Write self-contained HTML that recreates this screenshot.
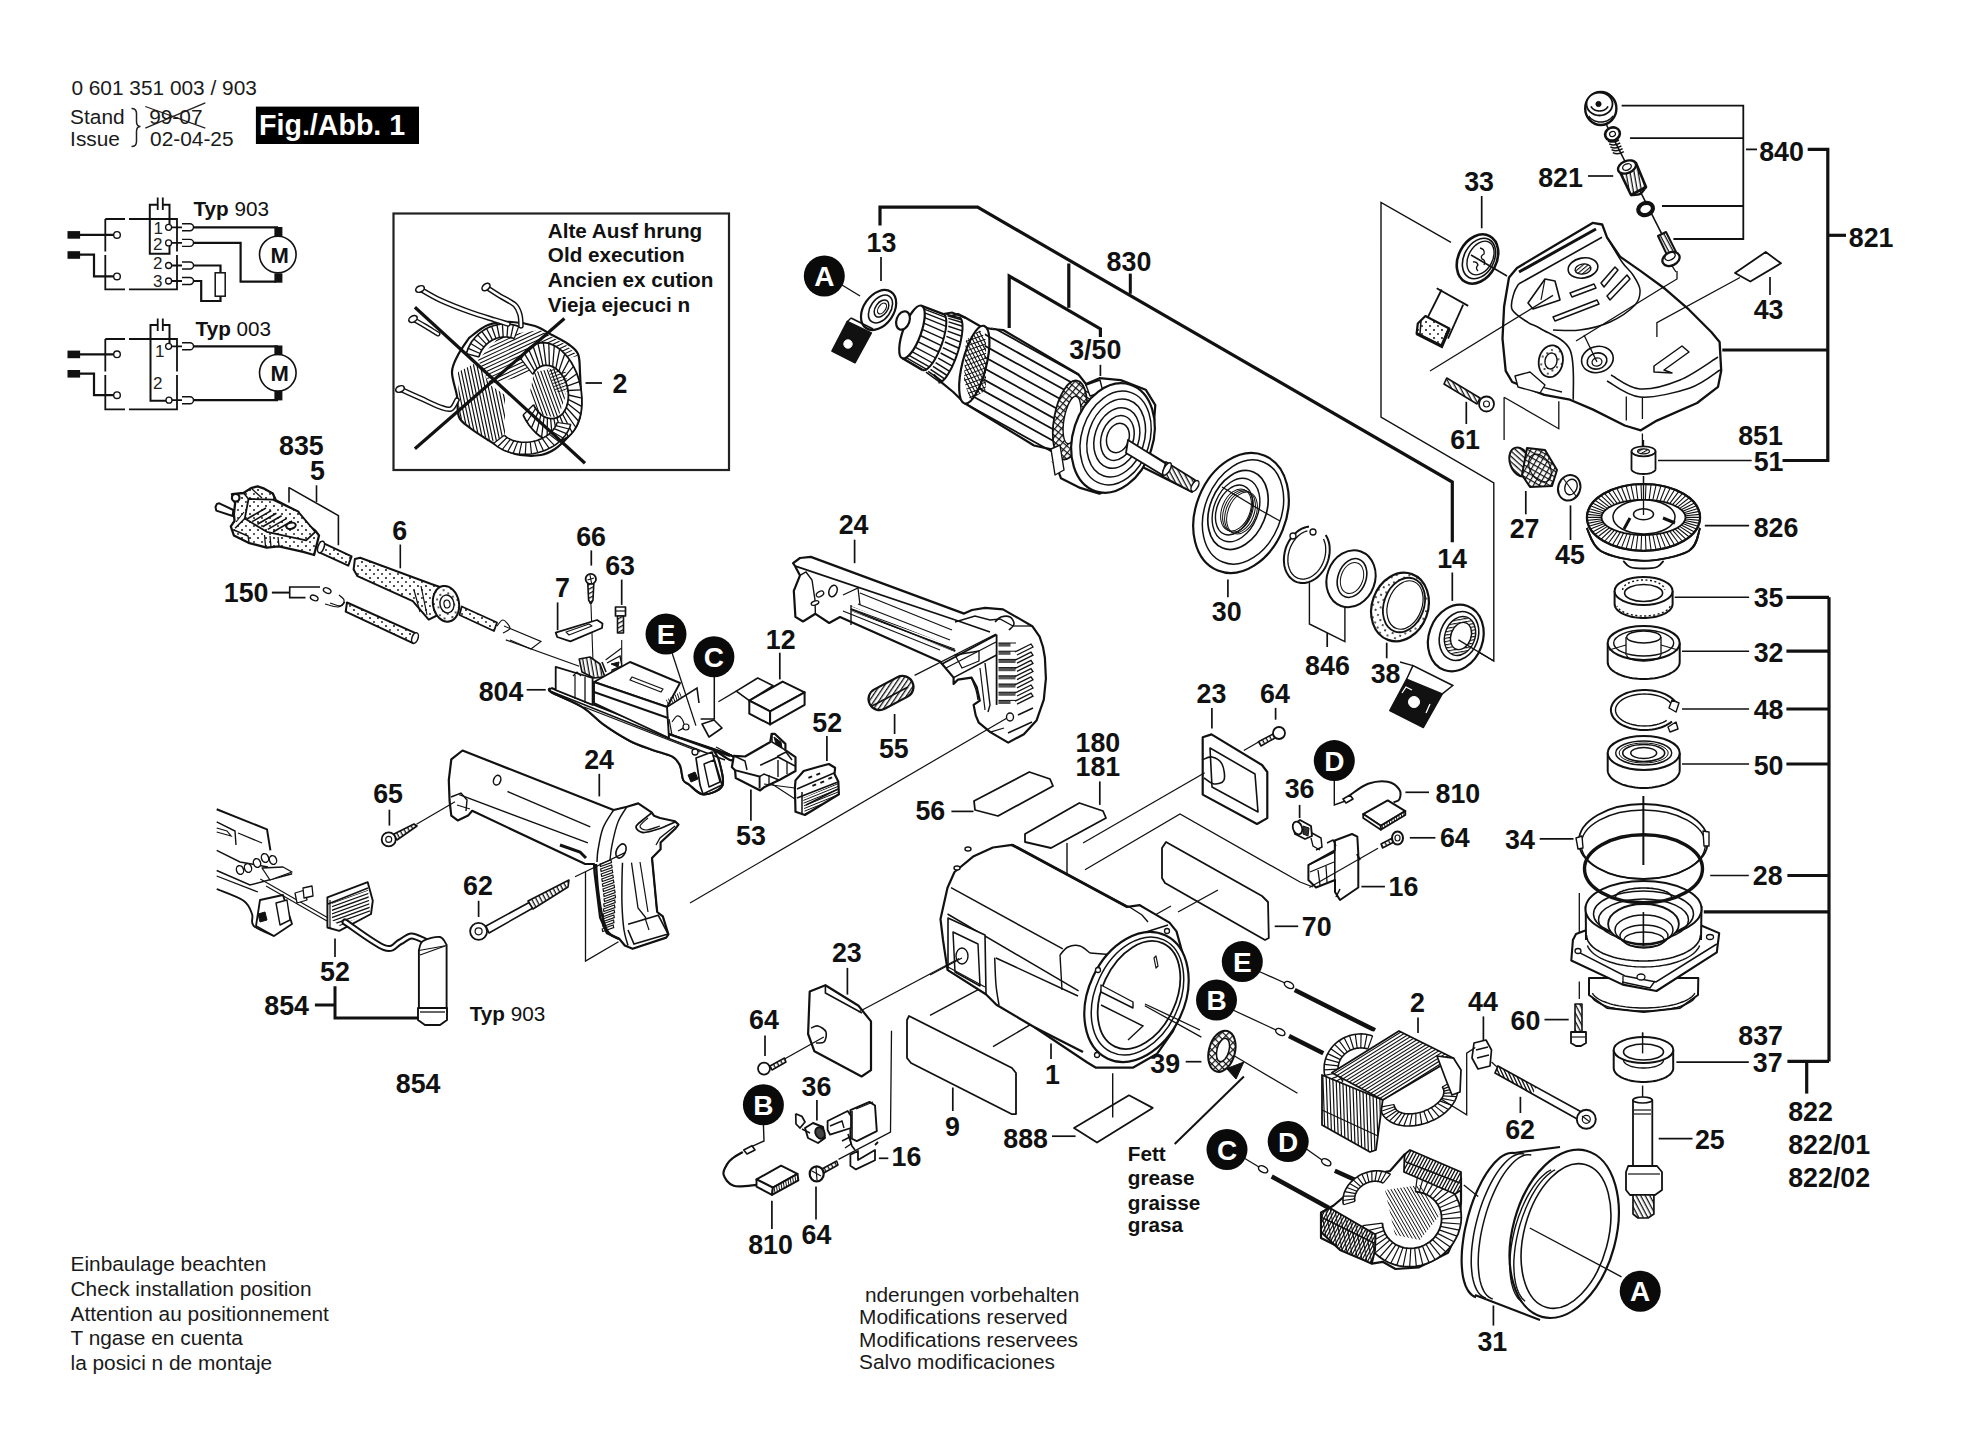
<!DOCTYPE html>
<html><head><meta charset="utf-8"><style>
html,body{margin:0;padding:0;background:#fff;overflow:hidden;width:1974px;height:1430px;}
svg{display:block;}
.b{font-family:"Liberation Sans",sans-serif;font-weight:bold;font-size:26.8px;fill:#111;}
.sb{font-family:"Liberation Sans",sans-serif;font-weight:bold;font-size:20.7px;fill:#111;}
.r{font-family:"Liberation Sans",sans-serif;font-size:20.85px;fill:#1a1a1a;}
.r2{font-weight:normal;}
.c{font-family:"Liberation Sans",sans-serif;font-weight:bold;font-size:28px;fill:#fff;text-anchor:middle;}
.fig{font-family:"Liberation Sans",sans-serif;font-weight:bold;font-size:28.6px;fill:#fff;}
</style></head><body>
<svg width="1974" height="1430" viewBox="0 0 1974 1430">
<rect width="1974" height="1430" fill="#fff"/>
<rect x="255.9" y="106.6" width="163.1" height="37.4" fill="#000"/>
<text class="fig" x="259" y="134.7">Fig./Abb. 1</text>
<g stroke="#222" stroke-width="1.3"><line x1="145.3" y1="106.5" x2="205.3" y2="128.1"/><line x1="145.3" y1="128.1" x2="205.3" y2="102.8"/></g>
<path d="M131.5 108.5 q5 0 5 5 v8 q0 5 4 5 q-4 0 -4 5 v10 q0 5 -5 5" fill="none" stroke="#222" stroke-width="1.5"/>
<defs>
 <pattern id="dots" width="8" height="8" patternUnits="userSpaceOnUse"><rect width="8" height="8" fill="#fff"/><circle cx="2" cy="2" r="1.0" fill="#111"/><circle cx="6" cy="6" r="0.9" fill="#111"/></pattern>
 <pattern id="h1" width="4" height="4" patternUnits="userSpaceOnUse" patternTransform="rotate(-28)"><rect width="4" height="4" fill="#fff"/><rect width="4" height="1.3" fill="#111"/></pattern>
 <pattern id="h2" width="4" height="4" patternUnits="userSpaceOnUse" patternTransform="rotate(62)"><rect width="4" height="4" fill="#fff"/><rect width="4" height="1.3" fill="#111"/></pattern>
 <pattern id="hv" width="4" height="4" patternUnits="userSpaceOnUse" patternTransform="rotate(80)"><rect width="4" height="4" fill="#fff"/><rect width="4" height="1.3" fill="#111"/></pattern>
 <pattern id="hx" width="5" height="5" patternUnits="userSpaceOnUse" patternTransform="rotate(30)"><rect width="5" height="5" fill="#fff"/><rect width="5" height="1.2" fill="#111"/><rect width="1.2" height="5" fill="#111"/></pattern>
 <pattern id="h3" width="3.2" height="3.2" patternUnits="userSpaceOnUse" patternTransform="rotate(-30)"><rect width="3.2" height="3.2" fill="#fff"/><rect width="3.2" height="1.1" fill="#111"/></pattern>
</defs>

<rect x="393.5" y="213.5" width="335.5" height="256.5" fill="none" stroke="#222" stroke-width="2.2"/>
<path d="M469.0 338.0 C472.2 335.8 480.8 327.7 488.0 325.0 C495.2 322.3 504.2 321.8 512.0 322.0 C519.8 322.2 528.3 323.8 535.0 326.0 C541.7 328.2 546.5 332.0 552.0 335.0 C557.5 338.0 563.7 340.8 568.0 344.0 C572.3 347.2 576.0 349.2 578.0 354.0 C580.0 358.8 579.5 363.7 580.0 373.0 C580.5 382.3 581.5 401.3 581.0 410.0 C580.5 418.7 579.2 420.5 577.0 425.0 C574.8 429.5 571.7 433.0 568.0 437.0 C564.3 441.0 559.5 446.0 555.0 449.0 C550.5 452.0 546.8 454.0 541.0 455.0 C535.2 456.0 526.0 455.8 520.0 455.0 C514.0 454.2 510.3 452.5 505.0 450.0 C499.7 447.5 493.8 443.7 488.0 440.0 C482.2 436.3 474.8 431.8 470.0 428.0 C465.2 424.2 461.2 422.3 459.0 417.0 C456.8 411.7 458.2 403.5 457.0 396.0 C455.8 388.5 451.8 378.8 452.0 372.0 C452.2 365.2 455.2 360.7 458.0 355.0 C460.8 349.3 467.2 340.8 469.0 338.0Z" fill="#fff" stroke="#111" stroke-width="2.2" stroke-linejoin="round"/>
<clipPath id="c1_478_360"><path d="M478.0 360.0 L500.0 336.0 L540.0 330.0 L566.0 345.0 L578.0 356.0 L548.0 362.0 L515.0 378.0 L490.0 384.0Z"/></clipPath><path clip-path="url(#c1_478_360)" d="M449.8 328.5L556.5 278.8 M451.3 331.6L557.9 281.9 M452.7 334.7L559.3 285.0 M454.1 337.8L560.8 288.1 M455.6 340.9L562.2 291.2 M457.0 344.0L563.6 294.2 M458.4 347.0L565.1 297.3 M459.9 350.1L566.5 300.4 M461.3 353.2L567.9 303.5 M462.8 356.3L569.4 306.6 M464.2 359.4L570.8 309.6 M465.6 362.4L572.3 312.7 M467.1 365.5L573.7 315.8 M468.5 368.6L575.1 318.9 M469.9 371.7L576.6 322.0 M471.4 374.8L578.0 325.0 M472.8 377.9L579.4 328.1 M474.3 380.9L580.9 331.2 M475.7 384.0L582.3 334.3 M477.1 387.1L583.8 337.4 M478.6 390.2L585.2 340.5 M480.0 393.3L586.6 343.5 M481.4 396.3L588.1 346.6 M482.9 399.4L589.5 349.7 M484.3 402.5L590.9 352.8 M485.7 405.6L592.4 355.9 M487.2 408.7L593.8 358.9 M488.6 411.7L595.2 362.0 M490.1 414.8L596.7 365.1 M491.5 417.9L598.1 368.2 M492.9 421.0L599.6 371.3 M494.4 424.1L601.0 374.4 M495.8 427.2L602.4 377.4 M497.2 430.2L603.9 380.5 M498.7 433.3L605.3 383.6" stroke="#111" stroke-width="1.1" fill="none"/>
<clipPath id="c2_458_372"><path d="M458.0 372.0 L478.0 362.0 L490.0 385.0 L505.0 395.0 L505.0 445.0 L490.0 440.0 L470.0 428.0 L459.0 417.0Z"/></clipPath><path clip-path="url(#c2_458_372)" d="M519.8 344.6L540.4 441.8 M516.5 345.2L537.2 442.5 M513.3 345.9L534.0 443.1 M510.1 346.6L530.8 443.8 M506.9 347.3L527.5 444.5 M503.6 348.0L524.3 445.2 M500.4 348.7L521.1 445.9 M497.2 349.4L517.8 446.6 M494.0 350.1L514.6 447.3 M490.7 350.7L511.4 447.9 M487.5 351.4L508.2 448.6 M484.3 352.1L504.9 449.3 M481.0 352.8L501.7 450.0 M477.8 353.5L498.5 450.7 M474.6 354.2L495.2 451.4 M471.4 354.9L492.0 452.1 M468.1 355.5L488.8 452.8 M464.9 356.2L485.6 453.4 M461.7 356.9L482.3 454.1 M458.4 357.6L479.1 454.8 M455.2 358.3L475.9 455.5 M452.0 359.0L472.7 456.2 M448.8 359.7L469.4 456.9 M445.5 360.3L466.2 457.6 M442.3 361.0L463.0 458.2 M439.1 361.7L459.7 458.9 M435.8 362.4L456.5 459.6 M432.6 363.1L453.3 460.3 M429.4 363.8L450.1 461.0 M426.2 364.5L446.8 461.7 M422.9 365.1L443.6 462.4" stroke="#111" stroke-width="1.2" fill="none"/>
<path d="M520.9 358.8 L522.5 355.9 L524.2 353.1 L526.1 350.7 L528.2 348.6 L530.5 346.8 L532.8 345.3 L535.3 344.1 L537.9 343.3 L540.5 342.8 L543.3 342.6 L546.0 342.9 L548.8 343.4 L551.6 344.3 L554.3 345.6 L557.1 347.2 L559.7 349.1 L562.3 351.3 L564.8 353.8 L567.2 356.5 L569.4 359.6 L571.5 362.8 L573.5 366.3 L575.3 369.9 L576.9 373.7 L578.2 377.6 L579.4 381.7 L580.4 385.8 L581.1 389.9 L581.6 394.1 L581.9 398.2 L582.0 402.3 L581.8 406.4 L581.4 410.3 L580.7 414.1 L579.8 417.7 L578.7 421.2 L577.4 424.4 L575.9 427.5 L574.2 430.2 L572.3 432.7 L570.3 434.9 L568.1 436.8 L565.8 438.4 L563.3 439.7 L560.8 440.6 L558.1 441.1 L555.4 441.4 L552.7 441.2 L549.9 440.7 L547.1 439.9 L544.3 438.7 L541.6 437.2 L538.9 435.4 L536.3 433.3 L533.8 430.8 L531.4 428.1 L529.1 425.2 L526.9 422.0 L525.0 418.6 L523.1 415.0 L533.5 404.7 L534.5 406.7 L535.6 408.5 L536.9 410.2 L538.2 411.8 L539.6 413.2 L541.0 414.5 L542.6 415.7 L544.1 416.6 L545.7 417.4 L547.4 418.0 L549.0 418.4 L550.6 418.7 L552.3 418.7 L553.9 418.5 L555.4 418.2 L556.9 417.7 L558.4 417.0 L559.8 416.1 L561.1 415.0 L562.4 413.8 L563.5 412.5 L564.5 410.9 L565.5 409.3 L566.3 407.5 L567.0 405.6 L567.5 403.6 L567.9 401.6 L568.2 399.4 L568.4 397.2 L568.4 395.0 L568.3 392.8 L568.0 390.5 L567.6 388.3 L567.1 386.1 L566.5 383.9 L565.7 381.8 L564.8 379.7 L563.8 377.8 L562.7 375.9 L561.4 374.2 L560.1 372.6 L558.8 371.1 L557.3 369.8 L555.8 368.6 L554.3 367.6 L552.7 366.8 L551.0 366.1 L549.4 365.7 L547.8 365.4 L546.1 365.3 L544.5 365.4 L543.0 365.7 L541.4 366.2 L539.9 366.8 L538.5 367.7 L537.2 368.7 L535.9 369.9 L534.8 371.2 L533.7 372.7 L532.8 374.3Z" fill="#fff" stroke="none"/>
<path d="M520.9 358.8 L523.3 354.5 L526.1 350.7 L529.3 347.6 L532.8 345.3 L536.6 343.6 L540.5 342.8 L544.6 342.7 L548.8 343.4 L552.9 344.9 L557.1 347.2 L561.0 350.1 L564.8 353.8 L568.3 358.0 L571.5 362.8 L574.4 368.1 L576.9 373.7 L578.9 379.6 L580.4 385.8 L581.4 392.0 L581.9 398.2 L581.9 404.4 L581.4 410.3 L580.3 415.9 L578.7 421.2 L576.7 426.0 L574.2 430.2 L571.3 433.9 L568.1 436.8 L564.5 439.1 L560.8 440.6 L556.8 441.3 L552.7 441.2 L548.5 440.4 L544.3 438.7 L540.3 436.4 L536.3 433.3 L532.6 429.5 L529.1 425.2 L525.9 420.3 L523.1 415.0" fill="none" stroke="#111" stroke-width="1.8"/>
<path d="M532.8 374.3 L534.2 371.9 L535.9 369.9 L537.8 368.2 L539.9 366.8 L542.2 365.9 L544.5 365.4 L547.0 365.3 L549.4 365.7 L551.9 366.4 L554.3 367.6 L556.6 369.2 L558.8 371.1 L560.8 373.4 L562.7 375.9 L564.3 378.7 L565.7 381.8 L566.8 385.0 L567.6 388.3 L568.2 391.6 L568.4 395.0 L568.3 398.3 L567.9 401.6 L567.2 404.6 L566.3 407.5 L565.0 410.1 L563.5 412.5 L561.8 414.5 L559.8 416.1 L557.7 417.4 L555.4 418.2 L553.1 418.6 L550.6 418.7 L548.2 418.2 L545.7 417.4 L543.3 416.2 L541.0 414.5 L538.9 412.5 L536.9 410.2 L535.0 407.6 L533.5 404.7" fill="none" stroke="#111" stroke-width="1.8"/>
<path d="M532.8 374.3 L520.9 358.8 M534.8 371.2 L524.2 353.1 M537.2 368.7 L528.2 348.6 M539.9 366.8 L532.8 345.3 M543.0 365.7 L537.9 343.3 M546.1 365.3 L543.3 342.6 M549.4 365.7 L548.8 343.4 M552.7 366.8 L554.3 345.6 M555.8 368.6 L559.7 349.1 M558.8 371.1 L564.8 353.8 M561.4 374.2 L569.4 359.6 M563.8 377.8 L573.5 366.3 M565.7 381.8 L576.9 373.7 M567.1 386.1 L579.4 381.7 M568.0 390.5 L581.1 389.9 M568.4 395.0 L581.9 398.2 M568.2 399.4 L581.8 406.4 M567.5 403.6 L580.7 414.1 M566.3 407.5 L578.7 421.2 M564.5 410.9 L575.9 427.5 M562.4 413.8 L572.3 432.7 M559.8 416.1 L568.1 436.8 M556.9 417.7 L563.3 439.7 M553.9 418.5 L558.1 441.1 M550.6 418.7 L552.7 441.2 M547.4 418.0 L547.1 439.9 M544.1 416.6 L541.6 437.2 M541.0 414.5 L536.3 433.3 M538.2 411.8 L531.4 428.1 M535.6 408.5 L526.9 422.0 M533.5 404.7 L523.1 415.0" stroke="#111" stroke-width="1.3" fill="none"/>
<clipPath id="c3_534_372"><path d="M534.0 372.0 L556.0 368.0 L566.0 395.0 L558.0 418.0 L538.0 414.0 L530.0 392.0Z"/></clipPath><path clip-path="url(#c3_534_372)" d="M567.6 351.0L590.0 412.6 M564.6 352.0L587.0 413.7 M561.6 353.1L584.0 414.8 M558.6 354.2L581.0 415.9 M555.6 355.3L578.0 417.0 M552.6 356.4L575.0 418.1 M549.6 357.5L572.0 419.2 M546.6 358.6L569.0 420.3 M543.6 359.7L566.0 421.4 M540.5 360.8L563.0 422.5 M537.5 361.9L560.0 423.6 M534.5 363.0L557.0 424.6 M531.5 364.1L554.0 425.7 M528.5 365.2L551.0 426.8 M525.5 366.3L547.9 427.9 M522.5 367.4L544.9 429.0 M519.5 368.5L541.9 430.1 M516.5 369.6L538.9 431.2 M513.5 370.7L535.9 432.3 M510.5 371.7L532.9 433.4 M507.5 372.8L529.9 434.5" stroke="#111" stroke-width="1.1" fill="none"/>
<clipPath id="c4_548_368"><path d="M548.0 368.0 L566.0 372.0 L568.0 392.0 L556.0 392.0Z"/></clipPath><path clip-path="url(#c4_548_368)" d="M535.4 369.5L568.5 357.4 M536.5 372.5L569.6 360.4 M537.6 375.5L570.7 363.4 M538.7 378.5L571.8 366.4 M539.8 381.5L572.9 369.4 M540.9 384.5L574.0 372.5 M542.0 387.5L575.1 375.5 M543.1 390.5L576.2 378.5 M544.2 393.5L577.3 381.5 M545.3 396.5L578.4 384.5 M546.4 399.5L579.5 387.5 M547.5 402.5L580.6 390.5" stroke="#111" stroke-width="1.0" fill="none"/>
<path d="M466.4 353.6 L466.7 352.6 L467.0 351.5 L467.4 350.5 L467.7 349.4 L468.2 348.4 L468.6 347.4 L469.1 346.4 L469.6 345.4 L470.1 344.5 L470.7 343.5 L471.2 342.6 L471.8 341.6 L472.5 340.7 L473.1 339.8 L473.8 339.0 L474.5 338.1 L475.2 337.3 L476.0 336.5 L476.8 335.7 L477.6 334.9 L478.4 334.2 L479.2 333.4 L480.1 332.7 L480.9 332.1 L481.8 331.4 L482.7 330.8 L483.7 330.2 L484.6 329.6 L485.6 329.0 L486.5 328.5 L487.5 328.0 L488.5 327.6 L489.5 327.1 L490.6 326.7 L491.6 326.3 L492.6 326.0 L493.7 325.6 L494.8 325.3 L495.8 325.1 L496.9 324.8 L498.0 324.6 L499.1 324.4 L500.2 324.3 L501.3 324.2 L502.4 324.1 L503.5 324.0 L504.6 324.0 L505.7 324.0 L506.8 324.0 L507.9 324.1 L509.0 324.2 L510.1 324.3 L511.2 324.5 L512.3 324.7 L513.4 324.9 L514.5 325.1 L515.5 325.4 L516.6 325.7 L517.6 326.0 L518.7 326.4 L514.2 338.6 L513.5 338.4 L512.8 338.2 L512.1 338.0 L511.4 337.8 L510.7 337.6 L509.9 337.5 L509.2 337.3 L508.4 337.2 L507.7 337.1 L507.0 337.1 L506.2 337.0 L505.5 337.0 L504.7 337.0 L504.0 337.0 L503.2 337.1 L502.5 337.1 L501.7 337.2 L501.0 337.3 L500.3 337.4 L499.5 337.6 L498.8 337.7 L498.1 337.9 L497.4 338.1 L496.7 338.3 L496.0 338.6 L495.3 338.8 L494.6 339.1 L493.9 339.4 L493.2 339.7 L492.5 340.1 L491.9 340.4 L491.2 340.8 L490.6 341.2 L490.0 341.6 L489.4 342.0 L488.8 342.4 L488.2 342.9 L487.6 343.4 L487.0 343.9 L486.5 344.4 L485.9 344.9 L485.4 345.4 L484.9 346.0 L484.4 346.5 L483.9 347.1 L483.5 347.7 L483.0 348.3 L482.6 348.9 L482.2 349.5 L481.8 350.2 L481.4 350.8 L481.1 351.5 L480.7 352.1 L480.4 352.8 L480.1 353.5 L479.9 354.2 L479.6 354.9 L479.3 355.6 L479.1 356.3 L478.9 357.0Z" fill="#fff" stroke="none"/>
<path d="M466.4 353.6 L466.8 352.1 L467.4 350.5 L467.9 348.9 L468.6 347.4 L469.3 345.9 L470.1 344.5 L470.9 343.0 L471.8 341.6 L472.8 340.3 L473.8 339.0 L474.9 337.7 L476.0 336.5 L477.2 335.3 L478.4 334.2 L479.6 333.1 L480.9 332.1 L482.3 331.1 L483.7 330.2 L485.1 329.3 L486.5 328.5 L488.0 327.8 L489.5 327.1 L491.1 326.5 L492.6 326.0 L494.2 325.5 L495.8 325.1 L497.5 324.7 L499.1 324.4 L500.7 324.2 L502.4 324.1 L504.0 324.0 L505.7 324.0 L507.4 324.1 L509.0 324.2 L510.7 324.4 L512.3 324.7 L513.9 325.0 L515.5 325.4 L517.1 325.9 L518.7 326.4" fill="none" stroke="#111" stroke-width="1.7"/>
<path d="M478.9 357.0 L479.2 355.9 L479.6 354.9 L480.0 353.8 L480.4 352.8 L480.9 351.8 L481.4 350.8 L482.0 349.8 L482.6 348.9 L483.3 348.0 L483.9 347.1 L484.7 346.2 L485.4 345.4 L486.2 344.6 L487.0 343.9 L487.9 343.1 L488.8 342.4 L489.7 341.8 L490.6 341.2 L491.6 340.6 L492.5 340.1 L493.5 339.6 L494.6 339.1 L495.6 338.7 L496.7 338.3 L497.7 338.0 L498.8 337.7 L499.9 337.5 L501.0 337.3 L502.1 337.2 L503.2 337.1 L504.4 337.0 L505.5 337.0 L506.6 337.0 L507.7 337.1 L508.8 337.3 L509.9 337.5 L511.0 337.7 L512.1 338.0 L513.2 338.3 L514.2 338.6" fill="none" stroke="#111" stroke-width="1.7"/>
<path d="M478.9 357.0 L466.4 353.6 M480.1 353.5 L468.2 348.4 M481.8 350.2 L470.7 343.5 M483.9 347.1 L473.8 339.0 M486.5 344.4 L477.6 334.9 M489.4 342.0 L481.8 331.4 M492.5 340.1 L486.5 328.5 M496.0 338.6 L491.6 326.3 M499.5 337.6 L496.9 324.8 M503.2 337.1 L502.4 324.1 M507.0 337.1 L507.9 324.1 M510.7 337.6 L513.4 324.9 M514.2 338.6 L518.7 326.4" stroke="#111" stroke-width="1.3" fill="none"/>
<path d="M570.7 424.3 L570.4 425.6 L569.9 426.8 L569.4 428.1 L568.9 429.4 L568.2 430.6 L567.6 431.8 L566.8 433.0 L566.0 434.2 L565.2 435.4 L564.3 436.6 L563.3 437.7 L562.3 438.8 L561.3 439.9 L560.2 440.9 L559.1 441.9 L557.9 442.9 L556.6 443.8 L555.4 444.8 L554.1 445.6 L552.7 446.5 L551.3 447.3 L549.9 448.1 L548.5 448.8 L547.0 449.5 L545.5 450.1 L544.0 450.7 L542.4 451.3 L540.9 451.8 L539.3 452.3 L537.7 452.7 L536.0 453.1 L534.4 453.4 L532.8 453.7 L531.1 453.9 L529.5 454.1 L527.8 454.2 L526.2 454.3 L524.5 454.3 L522.9 454.3 L521.2 454.3 L519.6 454.2 L518.0 454.0 L516.4 453.8 L514.8 453.5 L513.2 453.2 L511.7 452.9 L510.2 452.5 L508.7 452.0 L507.2 451.5 L505.8 451.0 L504.3 450.4 L503.0 449.8 L501.6 449.1 L500.3 448.4 L499.1 447.7 L497.9 446.9 L496.7 446.1 L495.5 445.2 L494.5 444.3 L493.4 443.4 L504.3 435.3 L505.0 435.9 L505.8 436.5 L506.5 437.1 L507.3 437.6 L508.1 438.1 L509.0 438.6 L509.9 439.0 L510.8 439.5 L511.7 439.9 L512.7 440.2 L513.6 440.6 L514.6 440.9 L515.7 441.2 L516.7 441.4 L517.7 441.6 L518.8 441.8 L519.9 442.0 L521.0 442.1 L522.1 442.2 L523.2 442.2 L524.3 442.3 L525.4 442.3 L526.5 442.2 L527.7 442.2 L528.8 442.1 L529.9 442.0 L531.0 441.8 L532.2 441.6 L533.3 441.4 L534.4 441.1 L535.5 440.8 L536.6 440.5 L537.6 440.2 L538.7 439.8 L539.7 439.4 L540.8 439.0 L541.8 438.5 L542.8 438.1 L543.7 437.6 L544.7 437.0 L545.6 436.5 L546.5 435.9 L547.4 435.3 L548.2 434.7 L549.0 434.0 L549.8 433.4 L550.6 432.7 L551.3 432.0 L552.0 431.2 L552.6 430.5 L553.2 429.8 L553.8 429.0 L554.4 428.2 L554.9 427.4 L555.3 426.6 L555.8 425.8 L556.1 425.0 L556.5 424.2 L556.8 423.4 L557.1 422.5Z" fill="#fff" stroke="none"/>
<path d="M570.7 424.3 L570.1 426.2 L569.4 428.1 L568.6 430.0 L567.6 431.8 L566.4 433.6 L565.2 435.4 L563.8 437.1 L562.3 438.8 L560.8 440.4 L559.1 441.9 L557.3 443.4 L555.4 444.8 L553.4 446.1 L551.3 447.3 L549.2 448.4 L547.0 449.5 L544.7 450.4 L542.4 451.3 L540.1 452.0 L537.7 452.7 L535.2 453.2 L532.8 453.7 L530.3 454.0 L527.8 454.2 L525.3 454.3 L522.9 454.3 L520.4 454.2 L518.0 454.0 L515.6 453.7 L513.2 453.2 L510.9 452.7 L508.7 452.0 L506.5 451.3 L504.3 450.4 L502.3 449.5 L500.3 448.4 L498.5 447.3 L496.7 446.1 L495.0 444.7 L493.4 443.4" fill="none" stroke="#111" stroke-width="1.6"/>
<path d="M557.1 422.5 L556.7 423.8 L556.1 425.0 L555.5 426.2 L554.9 427.4 L554.1 428.6 L553.2 429.8 L552.3 430.9 L551.3 432.0 L550.2 433.0 L549.0 434.0 L547.8 435.0 L546.5 435.9 L545.1 436.7 L543.7 437.6 L542.3 438.3 L540.8 439.0 L539.2 439.6 L537.6 440.2 L536.0 440.7 L534.4 441.1 L532.7 441.5 L531.0 441.8 L529.4 442.0 L527.7 442.2 L526.0 442.3 L524.3 442.3 L522.6 442.2 L521.0 442.1 L519.3 441.9 L517.7 441.6 L516.2 441.3 L514.6 440.9 L513.2 440.4 L511.7 439.9 L510.3 439.3 L509.0 438.6 L507.7 437.9 L506.5 437.1 L505.4 436.2 L504.3 435.3" fill="none" stroke="#111" stroke-width="1.6"/>
<path d="M557.1 422.5 L570.7 424.3 M555.9 425.6 L569.0 429.0 M554.1 428.6 L566.4 433.6 M551.8 431.4 L563.1 438.0 M549.0 434.0 L559.1 441.9 M545.8 436.3 L554.4 445.4 M542.3 438.3 L549.2 448.4 M538.4 439.9 L543.6 450.9 M534.4 441.1 L537.7 452.7 M530.2 441.9 L531.5 453.9 M526.0 442.3 L525.3 454.3 M521.8 442.2 L519.2 454.1 M517.7 441.6 L513.2 453.2 M513.9 440.6 L507.6 451.7 M510.3 439.3 L502.3 449.5 M507.1 437.5 L497.6 446.7 M504.3 435.3 L493.4 443.4" stroke="#111" stroke-width="1.2" fill="none"/>
<path d="M420.0 289.0 C423.3 290.8 431.7 296.2 440.0 300.0 C448.3 303.8 460.8 308.7 470.0 312.0 C479.2 315.3 488.7 318.0 495.0 320.0 C501.3 322.0 505.8 323.3 508.0 324.0" fill="none" stroke="#111" stroke-width="5.5" stroke-linecap="round"/><path d="M420.0 289.0 C423.3 290.8 431.7 296.2 440.0 300.0 C448.3 303.8 460.8 308.7 470.0 312.0 C479.2 315.3 488.7 318.0 495.0 320.0 C501.3 322.0 505.8 323.3 508.0 324.0" fill="none" stroke="#fff" stroke-width="2.6" stroke-linecap="round"/>
<path d="M486.0 287.0 C488.3 288.5 495.2 293.0 500.0 296.0 C504.8 299.0 511.7 301.8 515.0 305.0 C518.3 308.2 519.0 311.5 520.0 315.0 C521.0 318.5 520.8 324.2 521.0 326.0" fill="none" stroke="#111" stroke-width="5.5" stroke-linecap="round"/><path d="M486.0 287.0 C488.3 288.5 495.2 293.0 500.0 296.0 C504.8 299.0 511.7 301.8 515.0 305.0 C518.3 308.2 519.0 311.5 520.0 315.0 C521.0 318.5 520.8 324.2 521.0 326.0" fill="none" stroke="#fff" stroke-width="2.6" stroke-linecap="round"/>
<path d="M413.0 319.0 C415.0 320.2 420.8 323.5 425.0 326.0 C429.2 328.5 435.8 332.7 438.0 334.0" fill="none" stroke="#111" stroke-width="5" stroke-linecap="round"/><path d="M413.0 319.0 C415.0 320.2 420.8 323.5 425.0 326.0 C429.2 328.5 435.8 332.7 438.0 334.0" fill="none" stroke="#fff" stroke-width="2.2" stroke-linecap="round"/>
<path d="M400.0 389.0 C403.3 390.5 413.3 395.0 420.0 398.0 C426.7 401.0 434.8 405.2 440.0 407.0 C445.2 408.8 448.2 410.2 451.0 409.0 C453.8 407.8 456.0 401.5 457.0 400.0" fill="none" stroke="#111" stroke-width="5.5" stroke-linecap="round"/><path d="M400.0 389.0 C403.3 390.5 413.3 395.0 420.0 398.0 C426.7 401.0 434.8 405.2 440.0 407.0 C445.2 408.8 448.2 410.2 451.0 409.0 C453.8 407.8 456.0 401.5 457.0 400.0" fill="none" stroke="#fff" stroke-width="2.6" stroke-linecap="round"/>
<ellipse cx="420" cy="289" rx="4.5" ry="3" transform="rotate(-25 420 289)" fill="#fff" stroke="#111" stroke-width="1.6"/>
<ellipse cx="486" cy="287" rx="4.5" ry="3" transform="rotate(-40 486 287)" fill="#fff" stroke="#111" stroke-width="1.6"/>
<ellipse cx="413" cy="319" rx="4.5" ry="3" transform="rotate(-30 413 319)" fill="#fff" stroke="#111" stroke-width="1.6"/>
<ellipse cx="400" cy="389" rx="4.5" ry="3" transform="rotate(-25 400 389)" fill="#fff" stroke="#111" stroke-width="1.6"/>
<line x1="414.9" y1="307.2" x2="585.0" y2="463.3" stroke="#111" stroke-width="3.2"/>
<line x1="414.9" y1="448.7" x2="564.4" y2="318.5" stroke="#111" stroke-width="3.2"/>
<line x1="585.5" y1="383.0" x2="602.0" y2="383.0" stroke="#111" stroke-width="1.8"/>
<path d="M289.0 487.2 L289.0 502.4" fill="none" stroke="#111" stroke-width="1.6" stroke-linejoin="miter"/>
<path d="M289.0 487.6 L338.4 515.6 L338.4 545.2" fill="none" stroke="#111" stroke-width="1.6" stroke-linejoin="miter"/>
<path d="M316.5 485.3 L316.5 502.0" fill="none" stroke="#111" stroke-width="1.6" stroke-linejoin="miter"/>
<path d="M400.3 544.5 L400.3 568.3" fill="none" stroke="#111" stroke-width="1.6" stroke-linejoin="miter"/>
<path d="M271.9 592.6 L289.7 592.6" fill="none" stroke="#111" stroke-width="2" stroke-linejoin="miter"/>
<path d="M320.0 587.0 L289.7 587.0 L289.7 597.6 L305.5 597.6" fill="none" stroke="#111" stroke-width="1.6" stroke-linejoin="miter"/>
<path d="M216.9 503.9 L219.3 503.3 L233.3 510.0 L232.7 516.0 L216.3 510.6 L215.5 507.0Z" fill="#fff" stroke="#111" stroke-width="2" stroke-linejoin="round" />
<path d="M232.0 494.2 L243.6 493.0 L250.9 488.1 L257.6 486.3 L264.3 488.7 L272.8 493.5 L275.8 500.2 L298.3 511.8 L299.5 518.5 L315.3 530.6 L319.0 535.5 L317.2 542.8 L314.1 555.0 L303.2 551.9 L278.9 546.4 L266.7 547.7 L248.5 542.8 L233.9 535.5 L230.8 526.4 L234.5 520.9 L233.9 514.2 L235.1 503.3Z" fill="url(#dots)" stroke="#111" stroke-width="2.3" stroke-linejoin="round" />
<path d="M244.8 518.5 L248.5 499.0 L272.8 499.6 L298.3 511.8 L315.3 531.8 L306.2 540.4 L266.7 531.8Z" fill="url(#dots)" stroke="#111" stroke-width="1.8" stroke-linejoin="round" />
<line x1="247.0" y1="519.0" x2="266.0" y2="508.0" stroke="#111" stroke-width="1.6"/>
<line x1="252.2" y1="521.6" x2="271.2" y2="510.6" stroke="#111" stroke-width="1.6"/>
<line x1="257.4" y1="524.2" x2="276.4" y2="513.2" stroke="#111" stroke-width="1.6"/>
<line x1="262.6" y1="526.8" x2="281.6" y2="515.8" stroke="#111" stroke-width="1.6"/>
<line x1="267.8" y1="529.4" x2="286.8" y2="518.4" stroke="#111" stroke-width="1.6"/>
<line x1="273.0" y1="532.0" x2="292.0" y2="521.0" stroke="#111" stroke-width="1.6"/>
<ellipse cx="291.0" cy="525.8" rx="4.8" ry="3.0" transform="rotate(-15 291.0 525.8)" fill="#fff" stroke="#111" stroke-width="2"/>
<path d="M235.1 528.2 L244.8 518.5" fill="none" stroke="#111" stroke-width="1.6" stroke-linejoin="miter"/>
<path d="M248.5 499.0 L243.6 493.0" fill="none" stroke="#111" stroke-width="1.5" stroke-linejoin="miter"/>
<path d="M244.0 512.0 L236.0 522.0" fill="none" stroke="#111" stroke-width="1.2" stroke-linejoin="miter"/>
<path d="M264.5 535.0 L265.5 546.0" fill="none" stroke="#111" stroke-width="1.3" stroke-linejoin="miter"/>
<path d="M270.0 536.0 L271.0 547.0" fill="none" stroke="#111" stroke-width="1.3" stroke-linejoin="miter"/>
<path d="M278.0 537.0 L279.0 546.0" fill="none" stroke="#111" stroke-width="1.3" stroke-linejoin="miter"/>
<path d="M233.9 530.0 L248.0 536.0 L249.0 542.0" fill="none" stroke="#111" stroke-width="1.4" stroke-linejoin="miter"/>
<ellipse cx="235.7" cy="497.8" rx="3.8" ry="3.8" transform="rotate(0 235.7 497.8)" fill="#fff" stroke="#111" stroke-width="2.2"/>
<path d="M252.0 489.0 L262.0 498.0" fill="none" stroke="#111" stroke-width="1.3" stroke-linejoin="miter"/>
<path d="M320.6 541.9 L351.6 556.4 L348.3 565.6 L319.3 552.4Z" fill="url(#dots)" stroke="#111" stroke-width="2" stroke-linejoin="round" />
<ellipse cx="321.0" cy="547.0" rx="3.0" ry="6.0" transform="rotate(20 321.0 547.0)" fill="#fff" stroke="#111" stroke-width="1.6"/>
<path d="M354.9 559.0 L360.2 557.7 L431.3 584.0 L439.2 586.7 L444.0 600.0 L438.0 615.0 L428.7 619.6 L412.8 601.2 L357.5 576.2 L353.6 569.6Z" fill="url(#dots)" stroke="#111" stroke-width="2" stroke-linejoin="round" />
<path d="M414.0 590.0 L420.0 612.0" fill="none" stroke="#111" stroke-width="1.2" stroke-linejoin="miter"/>
<path d="M421.0 586.0 L427.0 615.0" fill="none" stroke="#111" stroke-width="1.2" stroke-linejoin="miter"/>
<ellipse cx="446.0" cy="603.8" rx="13.0" ry="18.0" transform="rotate(-10 446.0 603.8)" fill="url(#dots)" stroke="#111" stroke-width="2"/>
<ellipse cx="447.0" cy="604.0" rx="7.0" ry="9.0" transform="rotate(-10 447.0 604.0)" fill="#fff" stroke="#111" stroke-width="1.4"/>
<ellipse cx="447.0" cy="604.0" rx="3.0" ry="4.0" transform="rotate(-10 447.0 604.0)" fill="#fff" stroke="#111" stroke-width="1.2"/>
<path d="M347.0 602.5 L416.1 633.4 L413.5 643.3 L345.7 611.7Z" fill="url(#dots)" stroke="#111" stroke-width="2" stroke-linejoin="round" />
<ellipse cx="415.0" cy="638.0" rx="3.0" ry="5.5" transform="rotate(20 415.0 638.0)" fill="#fff" stroke="#111" stroke-width="1.5"/>
<ellipse cx="327.2" cy="590.6" rx="4.0" ry="2.5" transform="rotate(25 327.2 590.6)" fill="#fff" stroke="#111" stroke-width="1.4"/>
<ellipse cx="314.2" cy="597.9" rx="4.0" ry="2.5" transform="rotate(25 314.2 597.9)" fill="#fff" stroke="#111" stroke-width="1.4"/>
<path d="M339.0 595.0 C339.8 595.8 343.7 598.2 344.0 600.0 C344.3 601.8 343.3 605.5 341.0 606.0 C338.7 606.5 331.8 603.5 330.0 603.0" fill="none" stroke="#111" stroke-width="1.2" stroke-linejoin="round"/>
<path d="M345.0 602.0 C343.8 602.8 341.3 606.7 338.0 607.0 C334.7 607.3 327.2 604.5 325.0 604.0" fill="none" stroke="#111" stroke-width="1.2" stroke-linejoin="round"/>
<path d="M557.6 602.4 L557.6 630.2" fill="none" stroke="#111" stroke-width="1.7" stroke-linejoin="miter"/>
<path d="M591.3 550.4 L591.3 565.6" fill="none" stroke="#111" stroke-width="1.7" stroke-linejoin="miter"/>
<path d="M621.7 579.6 L621.7 604.9" fill="none" stroke="#111" stroke-width="1.7" stroke-linejoin="miter"/>
<path d="M526.7 689.8 L545.7 689.8" fill="none" stroke="#111" stroke-width="1.7" stroke-linejoin="miter"/>
<path d="M779.8 652.7 L779.8 679.4" fill="none" stroke="#111" stroke-width="1.7" stroke-linejoin="miter"/>
<path d="M826.9 736.0 L826.9 761.1" fill="none" stroke="#111" stroke-width="1.7" stroke-linejoin="miter"/>
<path d="M750.9 789.4 L750.9 820.8" fill="none" stroke="#111" stroke-width="1.7" stroke-linejoin="miter"/>
<path d="M591.0 605.0 L593.0 662.0" fill="none" stroke="#111" stroke-width="1.1" stroke-linejoin="miter"/>
<path d="M621.7 640.0 L621.7 664.0" fill="none" stroke="#111" stroke-width="1.1" stroke-linejoin="miter"/>
<path d="M605.6 660.0 L621.7 648.0" fill="none" stroke="#111" stroke-width="1.1" stroke-linejoin="miter"/>
<path d="M672.1 653.0 L695.9 725.6" fill="none" stroke="#111" stroke-width="1.3" stroke-linejoin="miter"/>
<path d="M714.3 677.0 L714.3 719.0 L700.6 719.0" fill="none" stroke="#111" stroke-width="1.5" stroke-linejoin="miter"/>
<path d="M718.4 701.8 L736.3 691.1" fill="none" stroke="#111" stroke-width="1.3" stroke-linejoin="miter"/>
<path d="M505.8 639.9 L579.2 666.3" fill="none" stroke="#111" stroke-width="1.2" stroke-linejoin="miter"/>
<path d="M716.0 747.0 L735.0 757.0" fill="none" stroke="#111" stroke-width="1.2" stroke-linejoin="miter"/>
<path d="M461.7 606.5 L497.0 622.5 L494.0 631.0 L459.5 615.0Z" fill="url(#dots)" stroke="#111" stroke-width="1.8" stroke-linejoin="round" />
<path d="M497.0 626.0 C498.0 625.0 500.8 619.7 503.0 620.0 C505.2 620.3 510.0 625.8 510.0 628.0 C510.0 630.2 504.2 632.2 503.0 633.0" fill="none" stroke="#111" stroke-width="1.2" stroke-linejoin="round"/>
<path d="M504.0 626.0 L541.0 641.4 L531.0 649.0 L510.0 640.0" fill="none" stroke="#111" stroke-width="1.1" stroke-linejoin="miter"/>
<path d="M555.7 632.6 L597.0 620.0 L602.5 623.5 L602.0 628.0 L570.4 641.4 L557.2 637.0Z" fill="#fff" stroke="#111" stroke-width="1.8" stroke-linejoin="round" />
<path d="M566.0 632.0 L589.0 624.0 L592.0 626.0 L569.0 635.0Z" fill="none" stroke="#111" stroke-width="1.1" stroke-linejoin="round" />
<ellipse cx="590.8" cy="579.0" rx="5.2" ry="5.2" transform="rotate(0 590.8 579.0)" fill="#fff" stroke="#111" stroke-width="1.8"/>
<path d="M587.5 580.0 L594.0 578.0" fill="none" stroke="#111" stroke-width="1.2" stroke-linejoin="miter"/>
<path d="M590.0 575.0 L591.5 583.0" fill="none" stroke="#111" stroke-width="1.2" stroke-linejoin="miter"/>
<path d="M587.8 584.0 L593.8 584.0 L593.0 600.0 L590.8 604.0 L588.6 600.0Z" fill="url(#h1)" stroke="#111" stroke-width="1.6" stroke-linejoin="round" />
<path d="M615.5 607.0 L625.5 607.0 L625.5 616.0 L615.5 616.0Z" fill="#fff" stroke="#111" stroke-width="1.7" stroke-linejoin="round" />
<path d="M616.0 611.0 L625.0 611.0" fill="none" stroke="#111" stroke-width="1.2" stroke-linejoin="miter"/>
<path d="M617.5 616.0 L623.5 616.0 L623.5 633.0 L617.5 633.0Z" fill="url(#h1)" stroke="#111" stroke-width="1.6" stroke-linejoin="round" />
<path d="M551.2 688.1 C551.2 688.8 546.0 688.8 551.2 692.0 C556.4 695.2 573.9 701.8 582.5 707.1 C591.1 712.4 594.9 718.3 602.7 723.9 C610.5 729.5 621.3 736.4 629.5 740.7 C637.7 745.0 644.8 747.1 651.9 749.7 C659.0 752.3 667.3 753.8 672.0 756.4 C676.7 759.0 678.0 761.4 679.9 765.3 C681.8 769.2 681.7 776.7 683.2 779.9 C684.7 783.1 685.4 781.9 688.8 784.3 C692.2 786.7 697.8 794.2 703.4 794.4 C709.0 794.6 719.8 791.1 722.4 785.5 C725.0 779.9 720.3 766.6 719.0 760.8 C717.7 755.0 712.8 750.9 714.6 750.8 C716.4 750.7 727.4 759.3 730.0 760.0 C732.6 760.7 740.2 759.3 730.0 755.0 C719.8 750.7 698.5 745.1 668.7 734.0 C638.9 722.9 570.8 695.8 551.2 688.1" fill="#fff" stroke="#111" stroke-width="2.1" stroke-linejoin="round"/>
<path d="M551.2 688.1 L551.2 692.0 L582.5 707.1 L602.7 723.9 L629.5 740.7 L651.9 749.7 L672.0 756.4 L679.9 765.3 L683.2 779.9 L688.8 784.3 L703.4 794.4 L722.4 785.5 L719.0 760.8 L714.6 750.8 L730.0 760.0 L730.0 755.0 L668.7 734.0 L551.2 688.1Z" fill="#fff" stroke="none" stroke-width="0" stroke-linejoin="round" />
<path d="M551.2 688.1 C551.2 688.8 546.0 688.8 551.2 692.0 C556.4 695.2 573.9 701.8 582.5 707.1 C591.1 712.4 594.9 718.3 602.7 723.9 C610.5 729.5 621.3 736.4 629.5 740.7 C637.7 745.0 644.8 747.1 651.9 749.7 C659.0 752.3 667.3 753.8 672.0 756.4 C676.7 759.0 678.0 761.4 679.9 765.3 C681.8 769.2 681.7 776.7 683.2 779.9 C684.7 783.1 685.4 781.9 688.8 784.3 C692.2 786.7 697.8 794.2 703.4 794.4 C709.0 794.6 719.8 791.1 722.4 785.5 C725.0 779.9 720.3 766.6 719.0 760.8 C717.7 755.0 712.8 750.9 714.6 750.8 C716.4 750.7 727.4 759.3 730.0 760.0 C732.6 760.7 740.2 759.3 730.0 755.0 C719.8 750.7 678.9 737.5 668.7 734.0" fill="none" stroke="#111" stroke-width="2.1" stroke-linejoin="round"/>
<path d="M551.2 688.1 L668.7 734.0 L730.0 756.0" fill="none" stroke="#111" stroke-width="2" stroke-linejoin="miter"/>
<path d="M551.2 691.5 L668.7 738.5 L725.0 760.0" fill="none" stroke="#111" stroke-width="1.4" stroke-linejoin="miter"/>
<path d="M584.0 707.0 L700.0 752.0" fill="none" stroke="#111" stroke-width="1.2" stroke-linejoin="miter"/>
<path d="M555.7 666.9 L592.6 678.0 L592.6 704.9 L555.7 690.0Z" fill="#fff" stroke="#111" stroke-width="1.8" stroke-linejoin="round" />
<path d="M585.0 677.0 L585.0 703.0" fill="none" stroke="#111" stroke-width="1.3" stroke-linejoin="miter"/>
<path d="M575.0 675.0 L575.0 699.0" fill="none" stroke="#111" stroke-width="1.2" stroke-linejoin="miter"/>
<path d="M573.0 676.0 L577.0 672.0 L581.0 676.0" fill="none" stroke="#111" stroke-width="1.2" stroke-linejoin="miter"/>
<path d="M579.2 659.0 L590.0 657.0 L600.0 664.0 L604.9 676.9 L594.0 678.0 L582.0 672.0Z" fill="url(#hv)" stroke="#111" stroke-width="1.6" stroke-linejoin="round" />
<path d="M602.0 662.0 L606.0 672.0" fill="none" stroke="#111" stroke-width="1.6" stroke-linejoin="miter"/>
<path d="M607.0 663.0 L620.0 656.0 L622.0 666.0 L612.0 670.0 L612.0 677.0" fill="none" stroke="#111" stroke-width="1.4" stroke-linejoin="miter"/>
<path d="M611.0 664.0 L619.0 662.0 L618.0 667.0Z" fill="#111" stroke="#111" stroke-width="1" stroke-linejoin="round" />
<path d="M594.0 682.0 L630.0 662.0 L680.0 683.0 L667.0 707.0Z" fill="#fff" stroke="#111" stroke-width="1.9" stroke-linejoin="round" />
<path d="M594.0 682.0 L667.0 707.0 L669.0 738.0 L594.0 703.0Z" fill="#fff" stroke="#111" stroke-width="1.9" stroke-linejoin="round" />
<path d="M594.0 692.0 L668.0 718.0" fill="none" stroke="#111" stroke-width="2" stroke-linejoin="miter"/>
<path d="M632.0 677.0 L663.0 689.0 L661.0 692.0 L630.0 680.0Z" fill="none" stroke="#111" stroke-width="1.3" stroke-linejoin="round" />
<path d="M667.0 707.0 L697.0 688.0 L699.0 703.0" fill="none" stroke="#111" stroke-width="1.6" stroke-linejoin="miter"/>
<clipPath id="c1_666_700"><path d="M666.0 700.0 L680.0 692.0 L682.0 697.0 L668.0 705.0Z"/></clipPath><path clip-path="url(#c1_666_700)" d="M681.4 682.7L689.8 705.9 M679.0 683.6L687.4 706.7 M676.7 684.4L685.1 707.6 M674.3 685.3L682.7 708.4 M672.0 686.1L680.4 709.3 M669.6 687.0L678.0 710.1 M667.3 687.9L675.7 711.0 M664.9 688.7L673.3 711.8 M662.6 689.6L671.0 712.7 M660.2 690.4L668.6 713.6" stroke="#111" stroke-width="1" fill="none"/>
<path d="M669.0 719.0 L672.0 735.0" fill="none" stroke="#111" stroke-width="1.3" stroke-linejoin="miter"/>
<path d="M696.0 758.0 L712.0 752.0 L722.0 785.0 L703.0 794.0 L700.0 785.0Z" fill="#fff" stroke="#111" stroke-width="1.7" stroke-linejoin="round" />
<path d="M704.0 764.0 L714.0 760.0 L720.0 782.0 L709.0 787.0Z" fill="#fff" stroke="#111" stroke-width="1.4" stroke-linejoin="round" />
<path d="M688.0 775.0 L695.0 772.0 L698.0 779.0 L691.0 782.0Z" fill="#111" stroke="#111" stroke-width="1" stroke-linejoin="round" />
<ellipse cx="695.0" cy="752.0" rx="3.0" ry="3.0" transform="rotate(0 695.0 752.0)" fill="#fff" stroke="#111" stroke-width="1.3"/>
<path d="M702.0 724.0 L714.0 720.0 L722.0 728.0 L709.0 737.0Z" fill="#fff" stroke="#111" stroke-width="1.6" stroke-linejoin="round" />
<path d="M672.0 722.0 C672.8 721.0 675.3 716.5 677.0 716.0 C678.7 715.5 680.8 717.2 682.0 719.0 C683.2 720.8 684.7 725.0 684.0 727.0 C683.3 729.0 679.0 730.3 678.0 731.0" fill="none" stroke="#111" stroke-width="1.2" stroke-linejoin="round"/>
<ellipse cx="686.0" cy="727.0" rx="3.0" ry="3.0" transform="rotate(0 686.0 727.0)" fill="#fff" stroke="#111" stroke-width="1.2"/>
<path d="M736.3 691.1 L757.7 678.0 L773.1 685.8 L749.3 700.6Z" fill="#fff" stroke="#111" stroke-width="1.6" stroke-linejoin="round" />
<path d="M749.3 700.6 L782.6 681.6 L804.6 692.3 L770.1 711.3Z" fill="#fff" stroke="#111" stroke-width="2" stroke-linejoin="round" />
<path d="M749.3 700.6 L770.1 711.3 L770.1 724.4 L749.3 713.7Z" fill="#fff" stroke="#111" stroke-width="2" stroke-linejoin="round" />
<path d="M770.1 711.3 L804.6 692.3 L804.6 704.8 L770.1 724.4Z" fill="#fff" stroke="#111" stroke-width="2" stroke-linejoin="round" />
<path d="M745.1 756.5 L770.3 742.0 L771.6 733.8 L774.7 733.8 L785.4 743.9 L785.4 750.2 L795.5 757.1 L795.5 771.0 L779.8 779.8 L764.0 787.3 L760.2 790.4 L735.7 777.9 L735.1 770.3 L731.9 767.2 L733.8 755.8Z" fill="#fff" stroke="#111" stroke-width="2.2" stroke-linejoin="round" />
<path d="M735.7 770.3 L759.6 776.6 L759.6 788.6" fill="none" stroke="#111" stroke-width="1.9" stroke-linejoin="miter"/>
<path d="M759.6 776.6 L764.0 774.0 L779.0 780.0" fill="none" stroke="#111" stroke-width="1.5" stroke-linejoin="miter"/>
<path d="M760.2 765.3 L778.0 757.0 L795.0 766.0" fill="none" stroke="#111" stroke-width="1.6" stroke-linejoin="miter"/>
<path d="M777.2 756.5 L786.0 752.0 L792.0 760.0" fill="none" stroke="#111" stroke-width="1.5" stroke-linejoin="miter"/>
<path d="M772.0 733.8 L772.0 742.0 L785.4 750.2" fill="none" stroke="#111" stroke-width="1.5" stroke-linejoin="miter"/>
<path d="M774.0 737.0 L781.0 742.0 L782.0 748.0 L776.0 744.0Z" fill="#111" stroke="#111" stroke-width="1.0" stroke-linejoin="round" />
<path d="M778.0 760.0 L778.0 777.0" fill="none" stroke="#111" stroke-width="1.4" stroke-linejoin="miter"/>
<path d="M787.0 762.0 L787.0 774.0" fill="none" stroke="#111" stroke-width="1.3" stroke-linejoin="miter"/>
<path d="M769.0 775.0 L769.0 784.0" fill="none" stroke="#111" stroke-width="1.3" stroke-linejoin="miter"/>
<path d="M733.8 755.8 L745.0 761.0 L747.0 770.0" fill="none" stroke="#111" stroke-width="1.5" stroke-linejoin="miter"/>
<path d="M764.0 784.0 L794.9 788.0" fill="none" stroke="#111" stroke-width="1.2" stroke-linejoin="miter"/>
<path d="M772.0 784.0 L795.0 799.0" fill="none" stroke="#111" stroke-width="1.2" stroke-linejoin="miter"/>
<path d="M795.5 780.4 L803.7 771.0 L819.4 766.5 L828.8 764.0 L835.1 767.8 L834.5 774.1 L838.3 781.6 L838.9 794.2 L804.9 815.0 L795.5 811.8 L794.9 788.0Z" fill="#fff" stroke="#111" stroke-width="2.2" stroke-linejoin="round" />
<path d="M797.0 789.0 L834.0 773.0" fill="none" stroke="#111" stroke-width="1.8" stroke-linejoin="miter"/>
<path d="M797.0 798.0 L838.0 782.0" fill="none" stroke="#111" stroke-width="1.8" stroke-linejoin="miter"/>
<path d="M806.0 805.0 L838.0 789.0" fill="none" stroke="#111" stroke-width="1.4" stroke-linejoin="miter"/>
<path d="M802.0 792.0 L802.0 814.0" fill="none" stroke="#111" stroke-width="1.5" stroke-linejoin="miter"/>
<clipPath id="c2_803_798"><path d="M803.0 798.0 L838.0 783.0 L838.9 794.2 L804.9 815.0Z"/></clipPath><path clip-path="url(#c2_803_798)" d="M787.0 784.6L835.3 765.1 M788.0 787.0L836.3 767.5 M789.0 789.4L837.3 769.9 M790.0 791.8L838.3 772.3 M790.9 794.3L839.2 774.7 M791.9 796.7L840.2 777.1 M792.9 799.1L841.2 779.6 M793.9 801.5L842.2 782.0 M794.8 803.9L843.1 784.4 M795.8 806.3L844.1 786.8 M796.8 808.7L845.1 789.2 M797.8 811.1L846.1 791.6 M798.7 813.5L847.0 794.0 M799.7 815.9L848.0 796.4 M800.7 818.4L849.0 798.8 M801.7 820.8L850.0 801.3 M802.6 823.2L850.9 803.7 M803.6 825.6L851.9 806.1 M804.6 828.0L852.9 808.5 M805.5 830.4L853.8 810.9 M806.5 832.8L854.8 813.3" stroke="#111" stroke-width="1.0" fill="none"/>
<rect x="812" y="785" width="4" height="2" transform="rotate(-22 812 785)" fill="#111"/>
<rect x="820" y="782" width="4" height="2" transform="rotate(-22 820 782)" fill="#111"/>
<rect x="828" y="778" width="4" height="2" transform="rotate(-22 828 778)" fill="#111"/>
<rect x="808" y="777" width="4" height="2" transform="rotate(-22 808 777)" fill="#111"/>
<rect x="816" y="774" width="4" height="2" transform="rotate(-22 816 774)" fill="#111"/>
<path d="M854.6 539.7 L854.6 563.2" fill="none" stroke="#111" stroke-width="1.7" stroke-linejoin="miter"/>
<path d="M894.6 714.0 L894.6 734.0" fill="none" stroke="#111" stroke-width="1.7" stroke-linejoin="miter"/>
<path d="M793.1 563.1 L800.0 558.0 L810.8 556.9 L964.1 613.6 L972.0 610.0 L985.1 607.9 L1003.0 609.4 L1019.7 618.9 L1032.3 626.2 L1039.6 636.7 L1043.0 647.0 L1044.9 657.7 L1045.9 678.6 L1043.8 699.6 L1036.5 720.6 L1023.9 734.2 L1008.2 742.6 L990.3 732.1 L978.8 722.7 L975.7 715.4 L973.6 704.9 L979.8 700.7 L976.7 687.0 L971.5 677.6 L957.8 679.7 L953.6 683.9 L953.6 677.6 L940.0 661.5 L840.0 617.0 L829.2 623.0 L815.4 613.8 L803.0 621.5 L795.4 616.9 L793.8 590.8 L800.0 575.4 L795.0 566.0Z" fill="#fff" stroke="#111" stroke-width="2.2" stroke-linejoin="round" />
<path d="M795.4 566.2 L955.4 620.0 L990.0 632.0" fill="none" stroke="#111" stroke-width="1.8" stroke-linejoin="miter"/>
<path d="M800.0 575.4 L806.0 572.0 L812.0 580.0 L815.0 600.0 L815.4 613.8" fill="none" stroke="#111" stroke-width="1.4" stroke-linejoin="miter"/>
<path d="M850.8 609.2 L955.4 650.8" fill="none" stroke="#111" stroke-width="1.5" stroke-linejoin="miter"/>
<path d="M851.0 605.0 L851.0 625.0" fill="none" stroke="#111" stroke-width="1.4" stroke-linejoin="miter"/>
<path d="M860.0 593.0 L952.0 630.0" fill="none" stroke="#111" stroke-width="1.2" stroke-linejoin="miter"/>
<path d="M858.0 604.0 L950.0 640.0" fill="none" stroke="#111" stroke-width="1.2" stroke-linejoin="miter"/>
<path d="M843.0 611.0 L940.0 650.0" fill="none" stroke="#111" stroke-width="1.2" stroke-linejoin="miter"/>
<clipPath id="c1_851_606"><path d="M851.0 606.0 L955.0 648.0 L955.0 652.0 L851.0 611.0Z"/></clipPath><path clip-path="url(#c1_851_606)" d="M867.8 553.6L978.4 593.8 M867.0 555.9L977.6 596.2 M866.1 558.3L976.7 598.5 M865.3 560.6L975.9 600.9 M864.4 563.0L975.0 603.2 M863.5 565.3L974.2 605.6 M862.7 567.7L973.3 607.9 M861.8 570.0L972.5 610.3 M861.0 572.4L971.6 612.6 M860.1 574.7L970.7 615.0 M859.3 577.1L969.9 617.3 M858.4 579.4L969.0 619.7 M857.6 581.7L968.2 622.0 M856.7 584.1L967.3 624.4 M855.9 586.4L966.5 626.7 M855.0 588.8L965.6 629.1 M854.1 591.1L964.8 631.4 M853.3 593.5L963.9 633.8 M852.4 595.8L963.1 636.1 M851.6 598.2L962.2 638.5 M850.7 600.5L961.3 640.8 M849.9 602.9L960.5 643.2 M849.0 605.2L959.6 645.5 M848.2 607.6L958.8 647.9 M847.3 609.9L957.9 650.2 M846.4 612.3L957.1 652.6 M845.6 614.6L956.2 654.9 M844.7 617.0L955.4 657.3 M843.9 619.3L954.5 659.6 M843.0 621.7L953.6 661.9 M842.2 624.0L952.8 664.3 M841.3 626.4L951.9 666.6 M840.5 628.7L951.1 669.0 M839.6 631.1L950.2 671.3 M838.7 633.4L949.4 673.7 M837.9 635.8L948.5 676.0 M837.0 638.1L947.7 678.4 M836.2 640.5L946.8 680.7 M835.3 642.8L945.9 683.1 M834.5 645.2L945.1 685.4 M833.6 647.5L944.2 687.8 M832.8 649.9L943.4 690.1 M831.9 652.2L942.5 692.5 M831.1 654.6L941.7 694.8 M830.2 656.9L940.8 697.2 M829.3 659.3L940.0 699.5 M828.5 661.6L939.1 701.9 M827.6 664.0L938.3 704.2" stroke="#111" stroke-width="1.0" fill="none"/>
<ellipse cx="833.0" cy="591.0" rx="4.0" ry="6.0" transform="rotate(20 833.0 591.0)" fill="#fff" stroke="#111" stroke-width="1.5"/>
<ellipse cx="820.0" cy="594.0" rx="4.0" ry="2.5" transform="rotate(-30 820.0 594.0)" fill="#fff" stroke="#111" stroke-width="1.3"/>
<ellipse cx="815.0" cy="603.0" rx="4.0" ry="2.0" transform="rotate(-20 815.0 603.0)" fill="#fff" stroke="#111" stroke-width="1.3"/>
<path d="M843.0 595.0 L858.0 588.0 L860.0 605.0" fill="none" stroke="#111" stroke-width="1.3" stroke-linejoin="miter"/>
<path d="M955.0 622.0 L975.0 616.0 L990.0 620.0 L1000.0 619.0 L1013.0 626.0" fill="none" stroke="#111" stroke-width="1.4" stroke-linejoin="miter"/>
<path d="M995.0 622.0 C996.0 621.2 998.5 617.8 1001.0 617.0 C1003.5 616.2 1007.8 615.8 1010.0 617.0 C1012.2 618.2 1014.2 621.8 1014.0 624.0 C1013.8 626.2 1009.8 629.0 1009.0 630.0" fill="none" stroke="#111" stroke-width="1.6" stroke-linejoin="round"/>
<path d="M1013.0 626.0 L1032.0 626.0" fill="none" stroke="#111" stroke-width="1.3" stroke-linejoin="miter"/>
<path d="M942.0 664.0 L996.6 634.6" fill="none" stroke="#111" stroke-width="1.8" stroke-linejoin="miter"/>
<path d="M946.0 668.0 L996.0 642.0" fill="none" stroke="#111" stroke-width="1.3" stroke-linejoin="miter"/>
<path d="M953.6 677.6 L996.6 655.0" fill="none" stroke="#111" stroke-width="1.6" stroke-linejoin="miter"/>
<path d="M955.0 655.0 L979.0 651.0 L979.0 661.0 L962.0 668.0Z" fill="none" stroke="#111" stroke-width="1.3" stroke-linejoin="round" />
<path d="M996.6 634.6 L996.6 704.9" fill="none" stroke="#111" stroke-width="1.8" stroke-linejoin="miter"/>
<path d="M985.0 663.0 L990.0 705.0 L988.0 712.0" fill="none" stroke="#111" stroke-width="1.4" stroke-linejoin="miter"/>
<path d="M980.0 668.0 L985.0 710.0" fill="none" stroke="#111" stroke-width="1.2" stroke-linejoin="miter"/>
<path d="M971.0 677.0 C971.8 679.2 974.8 686.2 976.0 690.0 C977.2 693.8 977.7 698.3 978.0 700.0" fill="none" stroke="#111" stroke-width="1.3" stroke-linejoin="round"/>
<rect x="998.5" y="643.0" width="12" height="3.6" fill="#555"/>
<path d="M998.5 643.0 L1016.0 643.0" fill="none" stroke="#111" stroke-width="1.0" stroke-linejoin="miter"/>
<rect x="998.5" y="651.2" width="12" height="3.6" fill="#555"/>
<path d="M998.5 651.2 L1016.0 651.2" fill="none" stroke="#111" stroke-width="1.0" stroke-linejoin="miter"/>
<rect x="998.5" y="659.4" width="17" height="3.6" fill="#555"/>
<path d="M998.5 659.4 L1016.0 659.4" fill="none" stroke="#111" stroke-width="1.0" stroke-linejoin="miter"/>
<rect x="998.5" y="667.6" width="17" height="3.6" fill="#555"/>
<path d="M998.5 667.6 L1016.0 667.6" fill="none" stroke="#111" stroke-width="1.0" stroke-linejoin="miter"/>
<rect x="998.5" y="675.8" width="17" height="3.6" fill="#555"/>
<path d="M998.5 675.8 L1016.0 675.8" fill="none" stroke="#111" stroke-width="1.0" stroke-linejoin="miter"/>
<rect x="998.5" y="684.0" width="17" height="3.6" fill="#555"/>
<path d="M998.5 684.0 L1016.0 684.0" fill="none" stroke="#111" stroke-width="1.0" stroke-linejoin="miter"/>
<rect x="998.5" y="692.2" width="17" height="3.6" fill="#555"/>
<path d="M998.5 692.2 L1016.0 692.2" fill="none" stroke="#111" stroke-width="1.0" stroke-linejoin="miter"/>
<rect x="998.5" y="700.4" width="12" height="3.6" fill="#555"/>
<path d="M998.5 700.4 L1016.0 700.4" fill="none" stroke="#111" stroke-width="1.0" stroke-linejoin="miter"/>
<path d="M1015 652.0 L1031 644.0 L1033 647.0 L1017 655.0" fill="none" stroke="#111" stroke-width="1.3"/>
<path d="M1015 660.2 L1031 652.2 L1033 655.2 L1017 663.2" fill="none" stroke="#111" stroke-width="1.3"/>
<path d="M1015 668.4 L1031 660.4 L1033 663.4 L1017 671.4" fill="none" stroke="#111" stroke-width="1.3"/>
<path d="M1015 676.6 L1031 668.6 L1033 671.6 L1017 679.6" fill="none" stroke="#111" stroke-width="1.3"/>
<path d="M1015 684.8 L1031 676.8 L1033 679.8 L1017 687.8" fill="none" stroke="#111" stroke-width="1.3"/>
<path d="M1015 693.0 L1031 685.0 L1033 688.0 L1017 696.0" fill="none" stroke="#111" stroke-width="1.3"/>
<path d="M1015 701.2 L1031 693.2 L1033 696.2 L1017 704.2" fill="none" stroke="#111" stroke-width="1.3"/>
<path d="M1018.0 715.0 L1033.0 708.0" fill="none" stroke="#111" stroke-width="1.5" stroke-linejoin="miter"/>
<path d="M1008.0 733.0 L1032.0 722.0" fill="none" stroke="#111" stroke-width="1.5" stroke-linejoin="miter"/>
<ellipse cx="1010.0" cy="717.0" rx="3.5" ry="4.0" transform="rotate(0 1010.0 717.0)" fill="#fff" stroke="#111" stroke-width="1.4"/>
<path d="M990.3 732.1 L1004.0 728.0" fill="none" stroke="#111" stroke-width="1.3" stroke-linejoin="miter"/>
<rect x="867" y="682" width="48" height="22" rx="11" transform="rotate(-28 891 693)" fill="url(#h1)" stroke="#111" stroke-width="2.2"/>
<path d="M872.0 706.0 L908.0 687.0" fill="none" stroke="#111" stroke-width="1.6" stroke-linejoin="miter"/>
<path d="M914.6 675.4 L996.0 634.0" fill="none" stroke="#111" stroke-width="1.2" stroke-linejoin="miter"/>
<path d="M690.0 903.0 L1006.2 718.5" fill="none" stroke="#111" stroke-width="1.2" stroke-linejoin="miter"/>
<path d="M599.3 773.8 L599.3 796.4" fill="none" stroke="#111" stroke-width="1.7" stroke-linejoin="miter"/>
<path d="M389.4 809.7 L389.4 825.6" fill="none" stroke="#111" stroke-width="1.7" stroke-linejoin="miter"/>
<path d="M478.6 900.8 L478.6 917.0" fill="none" stroke="#111" stroke-width="1.7" stroke-linejoin="miter"/>
<path d="M335.0 938.4 L335.0 957.0" fill="none" stroke="#111" stroke-width="1.7" stroke-linejoin="miter"/>
<path d="M335.0 986.2 L335.0 1018.1 L418.0 1018.1" fill="none" stroke="#111" stroke-width="3" stroke-linejoin="miter"/>
<path d="M314.9 1005.0 L335.0 1005.0" fill="none" stroke="#111" stroke-width="3" stroke-linejoin="miter"/>
<path d="M462.5 750.5 L613.6 810.0 L627.0 806.7 L638.2 803.4 L651.6 812.3 L653.9 815.7 L660.0 818.0 L675.0 821.3 L678.5 824.6 L675.0 829.0 L660.6 842.5 L660.6 849.2 L652.0 858.0 L657.2 912.0 L662.8 916.4 L668.4 934.3 L666.2 937.6 L632.6 948.8 L624.8 945.5 L619.2 938.8 L606.9 933.2 L600.1 917.5 L594.5 872.7 L594.0 864.0 L584.7 863.8 L472.2 810.8 L468.1 815.6 L457.7 820.4 L451.3 815.6 L449.6 801.1 L448.8 780.2 L451.3 759.3Z" fill="#fff" stroke="#111" stroke-width="2.2" stroke-linejoin="round" />
<path d="M459.3 794.7 L587.9 842.9" fill="none" stroke="#111" stroke-width="1.4" stroke-linejoin="miter"/>
<path d="M507.5 791.5 L590.3 826.8" fill="none" stroke="#111" stroke-width="1.4" stroke-linejoin="miter"/>
<path d="M451.0 797.0 L461.0 793.0 L467.0 800.0 L466.0 811.0" fill="none" stroke="#111" stroke-width="1.4" stroke-linejoin="miter"/>
<path d="M457.0 805.0 L470.0 809.0" fill="none" stroke="#111" stroke-width="1.2" stroke-linejoin="miter"/>
<ellipse cx="497.1" cy="780.2" rx="3.5" ry="5.0" transform="rotate(20 497.1 780.2)" fill="#fff" stroke="#111" stroke-width="1.5"/>
<path d="M560.0 845.0 L580.0 852.0 L586.0 858.0" fill="none" stroke="#111" stroke-width="3" stroke-linejoin="miter"/>
<path d="M613.6 810.0 C611.8 813.0 605.6 821.3 603.0 828.0 C600.4 834.7 599.0 844.3 598.0 850.0 C597.0 855.7 597.2 860.0 597.0 862.0" fill="none" stroke="#111" stroke-width="1.5" stroke-linejoin="round"/>
<path d="M627.0 806.7 C625.5 809.2 620.5 815.6 618.0 822.0 C615.5 828.4 613.3 838.7 612.0 845.0 C610.7 851.3 610.3 857.5 610.0 860.0" fill="none" stroke="#111" stroke-width="1.4" stroke-linejoin="round"/>
<path d="M651.6 813.0 C650.1 814.2 645.3 817.7 642.7 820.0 C640.1 822.3 636.0 824.9 636.0 827.0 C636.0 829.1 639.0 832.2 642.7 832.5 C646.4 832.8 652.9 830.8 658.3 829.0 C663.7 827.2 672.2 823.2 675.0 822.0" fill="none" stroke="#111" stroke-width="1.8" stroke-linejoin="round"/>
<path d="M648.0 818.0 C646.7 819.3 640.3 824.0 640.0 826.0 C639.7 828.0 642.7 830.0 646.0 830.0 C649.3 830.0 657.7 826.7 660.0 826.0" fill="none" stroke="#111" stroke-width="1.2" stroke-linejoin="round"/>
<path d="M675.0 826.0 L660.0 838.0 L656.0 845.0" fill="none" stroke="#111" stroke-width="1.3" stroke-linejoin="miter"/>
<path d="M600.0 864.0 l11 -4 l0.5 2.5 l-11 4 z" fill="none" stroke="#111" stroke-width="1.2"/>
<path d="M600.6 869.0 l11 -4 l0.5 2.5 l-11 4 z" fill="none" stroke="#111" stroke-width="1.2"/>
<path d="M601.2 874.0 l11 -4 l0.5 2.5 l-11 4 z" fill="none" stroke="#111" stroke-width="1.2"/>
<path d="M601.8 879.0 l11 -4 l0.5 2.5 l-11 4 z" fill="none" stroke="#111" stroke-width="1.2"/>
<path d="M602.4 884.0 l11 -4 l0.5 2.5 l-11 4 z" fill="none" stroke="#111" stroke-width="1.2"/>
<path d="M603.0 889.0 l11 -4 l0.5 2.5 l-11 4 z" fill="none" stroke="#111" stroke-width="1.2"/>
<path d="M603.6 894.0 l11 -4 l0.5 2.5 l-11 4 z" fill="none" stroke="#111" stroke-width="1.2"/>
<path d="M604.0 899.0 l11 -4 l0.5 2.5 l-11 4 z" fill="none" stroke="#111" stroke-width="1.2"/>
<path d="M603.7 904.0 l11 -4 l0.5 2.5 l-11 4 z" fill="none" stroke="#111" stroke-width="1.2"/>
<path d="M603.4 909.0 l11 -4 l0.5 2.5 l-11 4 z" fill="none" stroke="#111" stroke-width="1.2"/>
<path d="M603.1 914.0 l11 -4 l0.5 2.5 l-11 4 z" fill="none" stroke="#111" stroke-width="1.2"/>
<path d="M602.8 919.0 l11 -4 l0.5 2.5 l-11 4 z" fill="none" stroke="#111" stroke-width="1.2"/>
<path d="M602.5 924.0 l11 -4 l0.5 2.5 l-11 4 z" fill="none" stroke="#111" stroke-width="1.2"/>
<path d="M602.2 929.0 l11 -4 l0.5 2.5 l-11 4 z" fill="none" stroke="#111" stroke-width="1.2"/>
<path d="M596.0 864.0 C596.3 868.3 597.0 881.5 598.0 890.0 C599.0 898.5 600.3 908.0 602.0 915.0 C603.7 922.0 605.2 928.0 608.0 932.0 C610.8 936.0 617.2 937.8 619.0 939.0" fill="none" stroke="#111" stroke-width="2.4" stroke-linejoin="round"/>
<path d="M622.5 862.7 C622.4 865.6 622.1 873.0 622.0 880.0 C621.9 887.0 621.7 896.7 622.0 905.0 C622.3 913.3 623.0 923.2 624.0 930.0 C625.0 936.8 627.3 942.9 628.0 945.5" fill="none" stroke="#111" stroke-width="1.5" stroke-linejoin="round"/>
<path d="M631.5 862.7 L638.0 908.0 L646.0 918.0" fill="none" stroke="#111" stroke-width="1.3" stroke-linejoin="miter"/>
<path d="M640.0 862.0 L648.0 912.0" fill="none" stroke="#111" stroke-width="1.2" stroke-linejoin="miter"/>
<path d="M652.0 858.0 L657.0 912.0" fill="none" stroke="#111" stroke-width="1.5" stroke-linejoin="miter"/>
<ellipse cx="621.0" cy="851.0" rx="4.5" ry="7.5" transform="rotate(25 621.0 851.0)" fill="#fff" stroke="#111" stroke-width="1.6"/>
<path d="M628.1 924.2 L658.3 915.3 L668.0 934.0 L634.0 944.0 L628.0 930.0" fill="none" stroke="#111" stroke-width="1.6" stroke-linejoin="miter"/>
<path d="M645.0 918.0 L649.0 930.0" fill="none" stroke="#111" stroke-width="1.2" stroke-linejoin="miter"/>
<path d="M585.5 871.9 L585.5 961.1 L618.5 941.8" fill="none" stroke="#111" stroke-width="1.3" stroke-linejoin="miter"/>
<path d="M575.0 876.7 L625.0 852.6" fill="none" stroke="#111" stroke-width="1.2" stroke-linejoin="miter"/>
<path d="M416.5 824.3 L455.0 801.7" fill="none" stroke="#111" stroke-width="1.2" stroke-linejoin="miter"/>
<ellipse cx="478.6" cy="931.3" rx="8.5" ry="8.5" transform="rotate(0 478.6 931.3)" fill="#fff" stroke="#111" stroke-width="1.8"/>
<ellipse cx="478.6" cy="931.3" rx="3.5" ry="3.5" transform="rotate(0 478.6 931.3)" fill="none" stroke="#111" stroke-width="1.2"/>
<path d="M486.0 926.0 L530.0 902.0 L533.0 908.0 L489.0 933.0Z" fill="#fff" stroke="#111" stroke-width="1.6" stroke-linejoin="round" />
<path d="M528.0 901.0 L565.0 882.0 L569.0 880.0 L568.0 887.0 L533.0 909.0Z" fill="url(#h2)" stroke="#111" stroke-width="1.6" stroke-linejoin="round" />
<ellipse cx="388.7" cy="839.4" rx="7.0" ry="7.0" transform="rotate(0 388.7 839.4)" fill="#fff" stroke="#111" stroke-width="1.8"/>
<ellipse cx="388.7" cy="839.4" rx="3.0" ry="3.0" transform="rotate(0 388.7 839.4)" fill="none" stroke="#111" stroke-width="1.1"/>
<path d="M394.0 834.0 L414.0 824.0 L417.0 826.0 L397.0 840.0Z" fill="url(#h2)" stroke="#111" stroke-width="1.6" stroke-linejoin="round" />
<path d="M216.7 809.2 L267.0 829.4 L270.4 850.3" fill="none" stroke="#111" stroke-width="2" stroke-linejoin="miter"/>
<path d="M216.7 821.8 L235.0 831.0 L236.0 845.0" fill="none" stroke="#111" stroke-width="1.4" stroke-linejoin="miter"/>
<path d="M216.7 828.0 L227.0 831.0 L231.0 836.0 L216.7 832.0" fill="none" stroke="#111" stroke-width="1.2" stroke-linejoin="miter"/>
<path d="M238.0 833.0 L262.0 843.0" fill="none" stroke="#111" stroke-width="1.3" stroke-linejoin="miter"/>
<path d="M216.7 850.3 L240.0 862.0 L268.0 867.0" fill="none" stroke="#111" stroke-width="1.5" stroke-linejoin="miter"/>
<path d="M216.7 870.5 L250.0 885.0 L292.2 873.8" fill="none" stroke="#111" stroke-width="1.5" stroke-linejoin="miter"/>
<path d="M216.7 876.0 L258.0 892.0" fill="none" stroke="#111" stroke-width="1.3" stroke-linejoin="miter"/>
<ellipse cx="240.0" cy="870.0" rx="3.5" ry="4.5" transform="rotate(-20 240.0 870.0)" fill="#fff" stroke="#111" stroke-width="1.4"/>
<ellipse cx="248.0" cy="868.0" rx="3.5" ry="4.5" transform="rotate(-20 248.0 868.0)" fill="#fff" stroke="#111" stroke-width="1.4"/>
<ellipse cx="257.0" cy="863.0" rx="3.5" ry="4.5" transform="rotate(-20 257.0 863.0)" fill="#fff" stroke="#111" stroke-width="1.4"/>
<ellipse cx="265.0" cy="858.0" rx="3.5" ry="4.5" transform="rotate(-20 265.0 858.0)" fill="#fff" stroke="#111" stroke-width="1.4"/>
<ellipse cx="273.0" cy="860.0" rx="3.5" ry="4.5" transform="rotate(-20 273.0 860.0)" fill="#fff" stroke="#111" stroke-width="1.4"/>
<path d="M262.0 868.0 L283.0 867.0 L292.0 872.0 L270.0 880.0Z" fill="#fff" stroke="#111" stroke-width="1.3" stroke-linejoin="round" />
<path d="M216.7 889.0 C221.2 891.0 237.7 896.5 243.6 900.7 C249.5 904.9 250.3 909.8 252.0 914.0 C253.7 918.2 250.0 922.1 253.6 925.8 C257.2 929.4 270.4 934.2 273.8 935.9" fill="none" stroke="#111" stroke-width="1.9" stroke-linejoin="round"/>
<path d="M260.0 900.0 L283.0 895.0 L292.0 924.0 L274.0 936.0 L256.0 926.0Z" fill="#fff" stroke="#111" stroke-width="1.8" stroke-linejoin="round" />
<path d="M276.0 903.0 L287.0 900.0 L290.0 920.0 L280.0 925.0Z" fill="#fff" stroke="#111" stroke-width="1.4" stroke-linejoin="round" />
<path d="M258.0 914.0 L265.0 912.0 L267.0 920.0 L260.0 922.0Z" fill="#111" stroke="#111" stroke-width="1" stroke-linejoin="round" />
<path d="M260.3 878.9 L327.4 917.4" fill="none" stroke="#111" stroke-width="1.1" stroke-linejoin="miter"/>
<path d="M266.0 886.0 L327.0 921.0" fill="none" stroke="#111" stroke-width="1.1" stroke-linejoin="miter"/>
<path d="M295.0 893.0 L305.0 890.0 L307.0 900.0 L297.0 903.0Z" fill="#fff" stroke="#111" stroke-width="1.3" stroke-linejoin="round" />
<path d="M303.0 888.0 L312.0 886.0 L313.0 896.0 L304.0 898.0Z" fill="#fff" stroke="#111" stroke-width="1.3" stroke-linejoin="round" />
<path d="M327.4 897.3 L367.7 882.2 L372.8 900.7 L371.0 914.0 L339.2 930.9 L327.4 927.5Z" fill="#fff" stroke="#111" stroke-width="1.9" stroke-linejoin="round" />
<clipPath id="c1_332_903"><path d="M332.0 903.0 L368.0 890.0 L370.0 912.0 L340.0 926.0 L332.0 920.0Z"/></clipPath><path clip-path="url(#c1_332_903)" d="M314.9 891.2L367.8 871.9 M316.1 894.4L369.0 875.1 M317.2 897.6L370.2 878.3 M318.4 900.7L371.3 881.5 M319.5 903.9L372.5 884.7 M320.7 907.1L373.7 887.9 M321.9 910.3L374.8 891.1 M323.0 913.5L376.0 894.3 M324.2 916.7L377.1 897.5 M325.4 919.9L378.3 900.6 M326.5 923.1L379.5 903.8 M327.7 926.3L380.6 907.0 M328.8 929.5L381.8 910.2 M330.0 932.7L383.0 913.4 M331.2 935.9L384.1 916.6 M332.3 939.1L385.3 919.8 M333.5 942.3L386.4 923.0" stroke="#111" stroke-width="1.3" fill="none"/>
<path d="M328.0 904.0 L368.0 888.0" fill="none" stroke="#111" stroke-width="1.4" stroke-linejoin="miter"/>
<path d="M330.0 900.0 L330.0 928.0" fill="none" stroke="#111" stroke-width="1.2" stroke-linejoin="miter"/>
<path d="M345.0 922.0 C351.6 926.3 375.3 944.4 384.5 947.7 C393.7 951.0 395.5 944.0 400.0 942.0 C404.5 940.0 407.1 936.2 411.3 936.0 C415.5 935.8 422.7 940.2 425.0 941.0" fill="none" stroke="#111" stroke-width="7" stroke-linecap="round"/><path d="M345.0 922.0 C351.6 926.3 375.3 944.4 384.5 947.7 C393.7 951.0 395.5 944.0 400.0 942.0 C404.5 940.0 407.1 936.2 411.3 936.0 C415.5 935.8 422.7 940.2 425.0 941.0" fill="none" stroke="#fff" stroke-width="3" stroke-linecap="round"/>
<path d="M418.9 950.0 L446.6 945.0 L446.6 1012.0 L418.9 1012.0Z" fill="#fff" stroke="#111" stroke-width="1.9" stroke-linejoin="round" />
<path d="M418.9 950.0 C419.6 948.5 419.5 943.2 423.0 941.0 C426.5 938.8 436.1 936.3 440.0 937.0 C443.9 937.7 445.5 943.7 446.6 945.0" fill="#fff" stroke="#111" stroke-width="1.8" stroke-linejoin="round"/>
<path d="M420.0 955.0 L445.0 946.0" fill="none" stroke="#111" stroke-width="1.3" stroke-linejoin="miter"/>
<path d="M418.0 1008.0 L447.0 1008.0 L447.0 1020.0 L440.0 1025.0 L425.0 1025.0 L418.0 1020.0Z" fill="#fff" stroke="#111" stroke-width="1.9" stroke-linejoin="round" />
<path d="M420.0 1012.0 L445.0 1012.0" fill="none" stroke="#111" stroke-width="1.3" stroke-linejoin="miter"/>
<path d="M880.0 225.5 L880.0 207.2 L977.6 207.2 L1452.3 482.0 L1452.3 542.3" fill="none" stroke="#111" stroke-width="3.2" stroke-linejoin="miter"/>
<path d="M881.0 257.0 L881.0 281.0" fill="none" stroke="#111" stroke-width="1.7" stroke-linejoin="miter"/>
<path d="M1130.3 273.6 L1130.3 293.8" fill="none" stroke="#111" stroke-width="3" stroke-linejoin="miter"/>
<path d="M1068.8 263.5 L1068.8 307.8" fill="none" stroke="#111" stroke-width="3.2" stroke-linejoin="miter"/>
<path d="M1009.2 328.0 L1009.2 276.0 L1100.4 328.8 L1100.4 337.0" fill="none" stroke="#111" stroke-width="3.2" stroke-linejoin="miter"/>
<path d="M1100.4 364.8 L1100.4 376.0" fill="none" stroke="#111" stroke-width="1.7" stroke-linejoin="miter"/>
<path d="M1452.3 572.5 L1452.3 600.9" fill="none" stroke="#111" stroke-width="1.7" stroke-linejoin="miter"/>
<path d="M842.0 285.0 L860.0 296.0" fill="none" stroke="#111" stroke-width="1.4" stroke-linejoin="miter"/>
<ellipse cx="878.6" cy="310.0" rx="15.0" ry="22.0" transform="rotate(35 878.6 310.0)" fill="#fff" stroke="#111" stroke-width="2.2"/>
<ellipse cx="880.5" cy="309.0" rx="10.0" ry="15.5" transform="rotate(35 880.5 309.0)" fill="#fff" stroke="#111" stroke-width="1.6"/>
<ellipse cx="881.5" cy="308.5" rx="6.0" ry="9.5" transform="rotate(35 881.5 308.5)" fill="#fff" stroke="#111" stroke-width="1.5"/>
<ellipse cx="882.0" cy="308.5" rx="3.5" ry="6.0" transform="rotate(35 882.0 308.5)" fill="#fff" stroke="#111" stroke-width="1.2"/>
<path d="M831.9 351.2 L847.3 321.4 L871.4 332.9 L855.0 362.8Z" fill="#111" stroke="#111" stroke-width="1.5" stroke-linejoin="round" />
<ellipse cx="848.0" cy="344.0" rx="4.2" ry="4.2" transform="rotate(0 848.0 344.0)" fill="#fff" stroke="#fff" stroke-width="1.0"/>
<path d="M851.0 318.0 L873.0 329.0" fill="none" stroke="#111" stroke-width="1.6" stroke-linejoin="miter"/>
<path d="M847.0 322.0 L851.0 318.0" fill="none" stroke="#111" stroke-width="1.4" stroke-linejoin="miter"/>
<path d="M951.0 316.0 L958.0 314.0 L966.0 318.0 L982.0 327.2 L991.7 329.0 L1003.2 330.0 L1078.3 374.3 L1086.0 384.0 L1099.5 378.2 L1120.7 380.1 L1145.7 389.7 L1155.3 405.1 L1153.4 430.1 L1130.3 441.7 L1193.8 480.2 L1197.7 484.0 L1191.9 491.7 L1138.0 464.8 L1130.3 478.3 L1099.5 493.7 L1080.2 487.9 L1061.0 478.3 L1053.3 457.1 L1051.4 449.4 L1034.0 445.5 L964.7 403.2 L953.2 392.0 L941.5 382.3 L931.0 372.0Z" fill="#fff" stroke="#111" stroke-width="2.2" stroke-linejoin="round" />
<path d="M921.6 305.7 L943.0 313.0 L951.0 316.0 L960.0 330.0 L958.0 360.0 L931.0 376.0 L902.4 358.3Z" fill="#fff" stroke="none" stroke-width="0" stroke-linejoin="round" />
<path d="M921.6 305.7 L943.3 314.0" fill="none" stroke="#111" stroke-width="2.2" stroke-linejoin="miter"/>
<path d="M902.4 358.3 L922.7 370.2" fill="none" stroke="#111" stroke-width="2.2" stroke-linejoin="miter"/>
<line x1="922.9" y1="306.6" x2="944.6" y2="314.8" stroke="#111" stroke-width="1.4"/>
<line x1="924.2" y1="309.1" x2="945.8" y2="317.4" stroke="#111" stroke-width="1.4"/>
<line x1="924.7" y1="312.8" x2="946.3" y2="321.3" stroke="#111" stroke-width="1.4"/>
<line x1="924.6" y1="317.6" x2="946.1" y2="326.4" stroke="#111" stroke-width="1.4"/>
<line x1="923.8" y1="323.2" x2="945.1" y2="332.4" stroke="#111" stroke-width="1.4"/>
<line x1="922.3" y1="329.3" x2="943.5" y2="338.9" stroke="#111" stroke-width="1.4"/>
<line x1="920.3" y1="335.5" x2="941.3" y2="345.6" stroke="#111" stroke-width="1.4"/>
<line x1="917.8" y1="341.6" x2="938.6" y2="352.0" stroke="#111" stroke-width="1.4"/>
<line x1="915.0" y1="347.1" x2="935.7" y2="358.0" stroke="#111" stroke-width="1.4"/>
<line x1="912.0" y1="351.7" x2="932.5" y2="363.0" stroke="#111" stroke-width="1.4"/>
<line x1="909.0" y1="355.3" x2="929.4" y2="366.9" stroke="#111" stroke-width="1.4"/>
<line x1="906.2" y1="357.6" x2="926.6" y2="369.4" stroke="#111" stroke-width="1.4"/>
<line x1="903.7" y1="358.5" x2="924.0" y2="370.3" stroke="#111" stroke-width="1.4"/>
<ellipse cx="912.0" cy="332.0" rx="9.0" ry="28.0" transform="rotate(20 912.0 332.0)" fill="none" stroke="#111" stroke-width="2.2"/>
<path d="M943.3 313.8 L943.9 314.1 L944.5 314.6 L945.0 315.3 L945.4 316.1 L945.7 317.1 L946.0 318.3 L946.2 319.6 L946.3 321.0 L946.3 322.6 L946.2 324.2 L946.1 326.0 L945.9 327.9 L945.6 329.9 L945.2 331.9 L944.7 334.1 L944.2 336.2 L943.6 338.4 L943.0 340.6 L942.2 342.9 L941.5 345.1 L940.6 347.3 L939.7 349.5 L938.8 351.6 L937.9 353.6 L936.9 355.6 L935.9 357.5 L934.8 359.4 L933.8 361.1 L932.8 362.6 L931.7 364.1 L930.7 365.4 L929.7 366.6 L928.7 367.6 L927.7 368.5 L926.8 369.2 L925.9 369.8 L925.0 370.1 L924.2 370.3 L923.4 370.3 L922.7 370.2" fill="none" stroke="#111" stroke-width="2"/>
<ellipse cx="903.0" cy="320.5" rx="6.5" ry="9.5" transform="rotate(20 903.0 320.5)" fill="#fff" stroke="#111" stroke-width="2.2"/>
<path d="M959.5 317.7 L960.1 318.0 L960.7 318.5 L961.2 319.2 L961.6 320.1 L962.0 321.2 L962.2 322.5 L962.4 323.9 L962.5 325.5 L962.5 327.2 L962.5 329.1 L962.3 331.1 L962.1 333.2 L961.8 335.5 L961.4 337.8 L960.9 340.2 L960.4 342.7 L959.8 345.2 L959.1 347.7 L958.4 350.2 L957.6 352.8 L956.7 355.3 L955.8 357.8 L954.9 360.3 L953.9 362.6 L952.9 364.9 L951.9 367.2 L950.8 369.3 L949.7 371.3 L948.7 373.1 L947.6 374.8 L946.6 376.4 L945.5 377.8 L944.5 379.0 L943.5 380.1 L942.6 380.9 L941.7 381.6 L940.8 382.1 L940.0 382.4 L939.2 382.5 L938.5 382.3" fill="none" stroke="#111" stroke-width="2"/>
<line x1="946.3" y1="314.2" x2="960.2" y2="318.0" stroke="#111" stroke-width="1.5"/>
<line x1="947.5" y1="315.8" x2="961.5" y2="319.7" stroke="#111" stroke-width="1.5"/>
<line x1="948.3" y1="318.4" x2="962.2" y2="322.5" stroke="#111" stroke-width="1.5"/>
<line x1="948.6" y1="321.9" x2="962.5" y2="326.2" stroke="#111" stroke-width="1.5"/>
<line x1="948.3" y1="326.2" x2="962.4" y2="330.9" stroke="#111" stroke-width="1.5"/>
<line x1="947.6" y1="331.1" x2="961.7" y2="336.2" stroke="#111" stroke-width="1.5"/>
<line x1="946.4" y1="336.4" x2="960.5" y2="342.1" stroke="#111" stroke-width="1.5"/>
<line x1="944.9" y1="342.0" x2="958.9" y2="348.3" stroke="#111" stroke-width="1.5"/>
<line x1="942.9" y1="347.6" x2="957.0" y2="354.5" stroke="#111" stroke-width="1.5"/>
<line x1="940.6" y1="353.0" x2="954.8" y2="360.5" stroke="#111" stroke-width="1.5"/>
<line x1="938.2" y1="358.1" x2="952.3" y2="366.2" stroke="#111" stroke-width="1.5"/>
<line x1="935.6" y1="362.6" x2="949.7" y2="371.3" stroke="#111" stroke-width="1.5"/>
<line x1="933.0" y1="366.4" x2="947.2" y2="375.5" stroke="#111" stroke-width="1.5"/>
<line x1="930.5" y1="369.3" x2="944.6" y2="378.9" stroke="#111" stroke-width="1.5"/>
<line x1="928.1" y1="371.3" x2="942.3" y2="381.2" stroke="#111" stroke-width="1.5"/>
<line x1="926.0" y1="372.2" x2="940.1" y2="382.3" stroke="#111" stroke-width="1.5"/>
<path d="M943.3 314.0 L952.0 312.5 L966.0 318.0" fill="none" stroke="#111" stroke-width="2" stroke-linejoin="miter"/>
<ellipse cx="974.3" cy="364.7" rx="12.0" ry="40.0" transform="rotate(14 974.3 364.7)" fill="#fff" stroke="#111" stroke-width="2.2"/>
<clipPath id="c1_980_330"><path d="M980.0 330.0 L986.0 340.0 L986.0 390.0 L970.0 400.0 L964.0 380.0 L966.0 340.0Z"/></clipPath><path clip-path="url(#c1_980_330)" d="M991.0 312.7L1027.3 381.0 M988.2 314.2L1024.5 382.5 M985.3 315.7L1021.7 384.0 M982.5 317.2L1018.8 385.5 M979.7 318.7L1016.0 387.0 M976.9 320.2L1013.2 388.5 M974.0 321.7L1010.4 390.0 M971.2 323.2L1007.5 391.5 M968.4 324.7L1004.7 393.0 M965.6 326.2L1001.9 394.5 M962.7 327.7L999.1 396.0 M959.9 329.2L996.2 397.5 M957.1 330.7L993.4 399.0 M954.3 332.2L990.6 400.5 M951.4 333.7L987.8 402.0 M948.6 335.2L984.9 403.5 M945.8 336.7L982.1 405.0 M943.0 338.2L979.3 406.5 M940.1 339.7L976.5 408.0 M937.3 341.2L973.6 409.5 M934.5 342.7L970.8 411.0 M931.7 344.2L968.0 412.5 M928.8 345.7L965.2 414.0 M926.0 347.2L962.3 415.5 M923.2 348.7L959.5 417.1" stroke="#111" stroke-width="1.1" fill="none"/>
<clipPath id="c2_980_330"><path d="M980.0 330.0 L986.0 340.0 L986.0 390.0 L970.0 400.0 L964.0 380.0 L966.0 340.0Z"/></clipPath><path clip-path="url(#c2_980_330)" d="M925.4 341.9L998.1 315.4 M927.0 346.1L999.7 319.6 M928.5 350.3L1001.2 323.9 M930.0 354.6L1002.7 328.1 M931.6 358.8L1004.3 332.3 M933.1 363.0L1005.8 336.6 M934.6 367.2L1007.4 340.8 M936.2 371.5L1008.9 345.0 M937.7 375.7L1010.4 349.2 M939.3 379.9L1012.0 353.5 M940.8 384.2L1013.5 357.7 M942.3 388.4L1015.1 361.9 M943.9 392.6L1016.6 366.2 M945.4 396.8L1018.1 370.4 M947.0 401.1L1019.7 374.6 M948.5 405.3L1021.2 378.8 M950.0 409.5L1022.7 383.1 M951.6 413.8L1024.3 387.3" stroke="#111" stroke-width="1.0" fill="none"/>
<clipPath id="c3_985_326"><path d="M985.0 326.0 L1003.0 330.0 L1078.0 374.0 L1086.0 384.0 L1060.0 470.0 L1034.0 445.0 L966.0 404.0 L984.0 380.0Z"/></clipPath><path clip-path="url(#c3_985_326)" d="M988.7 267.9L1156.1 360.7 M983.8 276.6L1151.3 369.4 M979.0 285.4L1146.4 378.2 M974.1 294.1L1141.6 386.9 M969.3 302.9L1136.7 395.7 M964.4 311.6L1131.9 404.4 M959.6 320.3L1127.0 413.2 M954.7 329.1L1122.2 421.9 M949.9 337.8L1117.3 430.7 M945.1 346.6L1112.5 439.4 M940.2 355.3L1107.6 448.1 M935.4 364.1L1102.8 456.9 M930.5 372.8L1098.0 465.6 M925.7 381.6L1093.1 474.4 M920.8 390.3L1088.3 483.1 M916.0 399.1L1083.4 491.9 M911.1 407.8L1078.6 500.6 M906.3 416.6L1073.7 509.4 M901.4 425.3L1068.9 518.1 M896.6 434.0L1064.0 526.9" stroke="#111" stroke-width="1.8" fill="none"/>
<ellipse cx="1070.0" cy="420.0" rx="16.0" ry="40.0" transform="rotate(10 1070.0 420.0)" fill="url(#hx)" stroke="#111" stroke-width="1.8"/>
<ellipse cx="1072.0" cy="420.0" rx="8.0" ry="24.0" transform="rotate(10 1072.0 420.0)" fill="#fff" stroke="#111" stroke-width="1.4"/>
<clipPath id="c4_1085_385"><path d="M1085.0 385.0 L1100.0 378.0 L1105.0 470.0 L1090.0 480.0 L1080.0 460.0Z"/></clipPath><path clip-path="url(#c4_1085_385)" d="M1072.5 354.5L1167.0 409.0 M1070.0 358.9L1164.5 413.4 M1067.5 363.2L1162.0 417.7 M1065.0 367.5L1159.5 422.0 M1062.5 371.9L1157.0 426.4 M1060.0 376.2L1154.5 430.7 M1057.5 380.5L1152.0 435.0 M1055.0 384.8L1149.5 439.4 M1052.5 389.2L1147.0 443.7 M1050.0 393.5L1144.5 448.0 M1047.5 397.8L1142.0 452.3 M1045.0 402.2L1139.5 456.7 M1042.5 406.5L1137.0 461.0 M1040.0 410.8L1134.5 465.3 M1037.5 415.2L1132.0 469.7 M1035.0 419.5L1129.5 474.0 M1032.5 423.8L1127.0 478.3 M1030.0 428.2L1124.5 482.7 M1027.5 432.5L1122.0 487.0 M1025.0 436.8L1119.5 491.3 M1022.5 441.1L1117.0 495.7 M1020.0 445.5L1114.5 500.0" stroke="#111" stroke-width="1.4" fill="none"/>
<path d="M1051.0 449.0 L1060.0 445.0 L1064.0 470.0 L1055.0 475.0Z" fill="#fff" stroke="#111" stroke-width="1.4" stroke-linejoin="round" />
<path d="M1086.0 385.0 L1100.0 380.0 L1103.0 392.0 L1090.0 396.0Z" fill="#fff" stroke="#111" stroke-width="1.4" stroke-linejoin="round" />
<ellipse cx="1113.0" cy="438.0" rx="40.0" ry="56.0" transform="rotate(18 1113.0 438.0)" fill="#fff" stroke="#111" stroke-width="2.2"/>
<ellipse cx="1115.6" cy="438.0" rx="34.0" ry="48.0" transform="rotate(18 1115.6 438.0)" fill="none" stroke="#111" stroke-width="1.5"/>
<ellipse cx="1116.2" cy="438.0" rx="28.0" ry="40.0" transform="rotate(18 1116.2 438.0)" fill="none" stroke="#111" stroke-width="1.5"/>
<ellipse cx="1116.8" cy="438.0" rx="22.0" ry="31.0" transform="rotate(18 1116.8 438.0)" fill="none" stroke="#111" stroke-width="1.5"/>
<ellipse cx="1117.4" cy="438.0" rx="16.0" ry="23.0" transform="rotate(18 1117.4 438.0)" fill="none" stroke="#111" stroke-width="1.5"/>
<ellipse cx="1117.9" cy="438.0" rx="11.0" ry="15.0" transform="rotate(18 1117.9 438.0)" fill="none" stroke="#111" stroke-width="1.5"/>
<path d="M1128.0 440.0 L1168.0 465.0 L1164.0 476.0 L1126.0 453.0Z" fill="#fff" stroke="#111" stroke-width="1.8" stroke-linejoin="round" />
<path d="M1166.0 462.0 L1195.0 480.0 L1192.0 492.0 L1162.0 476.0Z" fill="url(#h2)" stroke="#111" stroke-width="1.8" stroke-linejoin="round" />
<ellipse cx="1167.0" cy="469.0" rx="3.0" ry="7.0" transform="rotate(30 1167.0 469.0)" fill="#fff" stroke="#111" stroke-width="1.5"/>
<ellipse cx="1195.0" cy="486.0" rx="3.0" ry="6.0" transform="rotate(30 1195.0 486.0)" fill="#fff" stroke="#111" stroke-width="1.5"/>
<path d="M1621.6 105.7 L1743.3 105.7 L1743.3 239.0 L1673.4 239.0" fill="none" stroke="#111" stroke-width="1.8" stroke-linejoin="miter"/>
<path d="M1630.0 138.2 L1743.3 138.2" fill="none" stroke="#111" stroke-width="1.8" stroke-linejoin="miter"/>
<path d="M1662.0 206.0 L1743.3 206.0" fill="none" stroke="#111" stroke-width="1.8" stroke-linejoin="miter"/>
<path d="M1746.0 149.4 L1757.0 149.4" fill="none" stroke="#111" stroke-width="1.8" stroke-linejoin="miter"/>
<path d="M1807.7 149.4 L1827.8 149.4 L1827.8 460.5 L1782.5 460.5" fill="none" stroke="#111" stroke-width="3.2" stroke-linejoin="miter"/>
<path d="M1827.8 235.3 L1846.0 235.3" fill="none" stroke="#111" stroke-width="3.2" stroke-linejoin="miter"/>
<path d="M1722.3 350.0 L1827.8 350.0" fill="none" stroke="#111" stroke-width="3.2" stroke-linejoin="miter"/>
<path d="M1658.0 460.5 L1751.7 460.5" fill="none" stroke="#111" stroke-width="1.7" stroke-linejoin="miter"/>
<path d="M1588.0 176.0 L1613.2 176.0" fill="none" stroke="#111" stroke-width="1.7" stroke-linejoin="miter"/>
<path d="M1481.7 196.0 L1481.7 228.3" fill="none" stroke="#111" stroke-width="1.7" stroke-linejoin="miter"/>
<path d="M1770.0 277.0 L1770.0 295.0" fill="none" stroke="#111" stroke-width="1.7" stroke-linejoin="miter"/>
<path d="M1466.3 401.8 L1466.3 424.0" fill="none" stroke="#111" stroke-width="1.7" stroke-linejoin="miter"/>
<path d="M1451.0 242.3 L1381.0 202.5 L1381.0 417.0 L1493.8 483.0 L1493.8 661.0 L1458.4 639.9" fill="none" stroke="#111" stroke-width="1.4" stroke-linejoin="miter"/>
<path d="M1603 118 L1676 262" stroke="#111" stroke-width="1.6"/>
<ellipse cx="1600.8" cy="108.5" rx="15.6" ry="16.5" transform="rotate(0 1600.8 108.5)" fill="#fff" stroke="#111" stroke-width="2.4"/>
<ellipse cx="1599.5" cy="104.0" rx="13.0" ry="11.5" transform="rotate(0 1599.5 104.0)" fill="#fff" stroke="#111" stroke-width="1.8"/>
<ellipse cx="1598.5" cy="104.0" rx="2.6" ry="2.6" transform="rotate(0 1598.5 104.0)" fill="#111" stroke="#111" stroke-width="1"/>
<path d="M1608.0 106.4 L1607.8 106.8 L1607.5 107.2 L1607.3 107.6 L1607.0 107.9 L1606.6 108.3 L1606.3 108.6 L1605.9 108.9 L1605.5 109.2 L1605.1 109.5 L1604.7 109.7 L1604.2 110.0 L1603.7 110.2 L1603.2 110.4 L1602.7 110.5 L1602.2 110.7 L1601.7 110.8 L1601.1 110.9 L1600.6 110.9 L1600.0 111.0 L1599.5 111.0 L1599.0 111.0 L1598.4 110.9 L1597.9 110.9 L1597.3 110.8 L1596.8 110.7 L1596.3 110.5 L1595.8 110.4 L1595.3 110.2 L1594.8 110.0 L1594.3 109.7 L1593.9 109.5 L1593.5 109.2 L1593.1 108.9 L1592.7 108.6 L1592.4 108.3 L1592.0 107.9 L1591.7 107.6 L1591.5 107.2 L1591.2 106.8 L1591.0 106.4" fill="none" stroke="#111" stroke-width="1.6"/>
<path d="M1612.9 116.0 L1612.5 116.5 L1612.1 117.1 L1611.7 117.6 L1611.2 118.0 L1610.7 118.5 L1610.2 118.9 L1609.6 119.3 L1609.0 119.7 L1608.4 120.1 L1607.8 120.4 L1607.2 120.7 L1606.5 121.0 L1605.8 121.2 L1605.1 121.4 L1604.4 121.6 L1603.7 121.7 L1603.0 121.9 L1602.3 121.9 L1601.5 122.0 L1600.8 122.0 L1600.1 122.0 L1599.3 121.9 L1598.6 121.9 L1597.9 121.7 L1597.2 121.6 L1596.5 121.4 L1595.8 121.2 L1595.1 121.0 L1594.4 120.7 L1593.8 120.4 L1593.2 120.1 L1592.6 119.7 L1592.0 119.3 L1591.4 118.9 L1590.9 118.5 L1590.4 118.0 L1589.9 117.6 L1589.5 117.1 L1589.1 116.5 L1588.7 116.0" fill="none" stroke="#111" stroke-width="1.5"/>
<ellipse cx="1612.5" cy="134.0" rx="7.5" ry="6.5" transform="rotate(-20 1612.5 134.0)" fill="#fff" stroke="#111" stroke-width="2.6"/>
<ellipse cx="1612.5" cy="134.0" rx="3.0" ry="2.5" transform="rotate(-20 1612.5 134.0)" fill="#fff" stroke="#111" stroke-width="1.2"/>
<path d="M1608.0 141.0 Q1613.0 143.6 1619.0 140.0" fill="none" stroke="#111" stroke-width="1.5"/>
<path d="M1609.2 143.9 Q1614.2 146.5 1620.2 142.9" fill="none" stroke="#111" stroke-width="1.5"/>
<path d="M1610.4 146.8 Q1615.4 149.4 1621.4 145.8" fill="none" stroke="#111" stroke-width="1.5"/>
<path d="M1611.6 149.7 Q1616.6 152.3 1622.6 148.7" fill="none" stroke="#111" stroke-width="1.5"/>
<path d="M1612.8 152.6 Q1617.8 155.2 1623.8 151.6" fill="none" stroke="#111" stroke-width="1.5"/>
<path d="M1619.0 170.0 L1636.0 163.0 L1646.0 187.0 L1631.0 195.0Z" fill="url(#hv)" stroke="#111" stroke-width="2.6" stroke-linejoin="round" />
<ellipse cx="1627.0" cy="167.0" rx="9.5" ry="6.0" transform="rotate(-22 1627.0 167.0)" fill="#fff" stroke="#111" stroke-width="2.4"/>
<ellipse cx="1627.0" cy="167.0" rx="4.5" ry="3.0" transform="rotate(-22 1627.0 167.0)" fill="#fff" stroke="#111" stroke-width="1.3"/>
<path d="M1631.0 195.0 C1632.5 194.8 1637.5 195.3 1640.0 194.0 C1642.5 192.7 1645.0 188.2 1646.0 187.0" fill="none" stroke="#111" stroke-width="2.4" stroke-linejoin="round"/>
<ellipse cx="1645.6" cy="209.0" rx="7.5" ry="6.0" transform="rotate(-20 1645.6 209.0)" fill="#fff" stroke="#111" stroke-width="4.2"/>
<path d="M1658.0 236.0 L1666.0 232.0 L1676.0 252.0 L1668.0 257.0Z" fill="url(#h2)" stroke="#111" stroke-width="2" stroke-linejoin="round" />
<ellipse cx="1671.0" cy="259.0" rx="9.0" ry="6.5" transform="rotate(-25 1671.0 259.0)" fill="#fff" stroke="#111" stroke-width="2.3"/>
<ellipse cx="1670.0" cy="256.5" rx="5.5" ry="3.5" transform="rotate(-25 1670.0 256.5)" fill="#fff" stroke="#111" stroke-width="1.4"/>
<path d="M1672.0 265.8 L1676.0 272.0" fill="none" stroke="#111" stroke-width="1.3" stroke-linejoin="miter"/>
<path d="M1517.0 267.9 L1592.6 222.9 L1602.2 224.5 L1607.0 237.3 L1620.0 256.6 L1640.8 271.1 L1665.0 288.8 L1689.0 309.7 L1711.5 332.2 L1719.6 341.9 L1721.2 370.8 L1718.0 386.9 L1697.1 403.0 L1656.9 420.6 L1640.8 430.3 L1624.7 425.5 L1592.6 409.4 L1570.0 399.7 L1544.3 394.9 L1512.2 382.0 L1505.7 370.8 L1502.5 338.6 L1504.1 306.5 L1509.0 277.5Z" fill="#fff" stroke="#111" stroke-width="2.3" stroke-linejoin="round" />
<path d="M1518.6 284.0 L1602.0 237.3" fill="none" stroke="#111" stroke-width="1.6" stroke-linejoin="miter"/>
<path d="M1519.0 272.0 L1596.0 229.0" fill="none" stroke="#111" stroke-width="3" stroke-linejoin="miter"/>
<path d="M1518.6 284.0 C1517.8 285.6 1514.9 289.3 1513.8 293.6 C1512.7 297.9 1509.8 304.9 1512.2 309.7 C1514.6 314.5 1523.4 319.4 1528.2 322.6 C1533.0 325.8 1534.1 324.4 1541.1 329.0 C1548.1 333.6 1564.6 338.1 1570.0 349.9 C1575.4 361.7 1572.8 391.4 1573.3 399.7" fill="none" stroke="#111" stroke-width="1.6" stroke-linejoin="round"/>
<path d="M1607.0 237.3 C1609.5 241.4 1617.7 255.7 1622.0 262.0 C1626.3 268.3 1630.0 270.3 1633.0 275.0 C1636.0 279.7 1639.7 285.0 1640.0 290.0 C1640.3 295.0 1640.0 299.7 1635.0 305.0 C1630.0 310.3 1619.2 317.8 1610.0 322.0 C1600.8 326.2 1589.5 328.7 1580.0 330.0 C1570.5 331.3 1557.5 330.0 1553.0 330.0" fill="none" stroke="#111" stroke-width="1.5" stroke-linejoin="round"/>
<ellipse cx="1583.0" cy="268.0" rx="15.0" ry="10.0" transform="rotate(-10 1583.0 268.0)" fill="#fff" stroke="#111" stroke-width="1.6"/>
<ellipse cx="1583.0" cy="269.0" rx="8.0" ry="5.0" transform="rotate(-10 1583.0 269.0)" fill="url(#h3)" stroke="#111" stroke-width="1.4"/>
<path d="M1570.0 293.0 L1594.0 284.0 L1596.0 288.0 L1572.0 297.0Z" fill="#fff" stroke="#111" stroke-width="1.5" stroke-linejoin="round" />
<path d="M1601.0 283.0 L1615.0 267.0 L1618.0 270.0 L1604.0 287.0Z" fill="#fff" stroke="#111" stroke-width="1.5" stroke-linejoin="round" />
<path d="M1553.0 317.0 L1597.0 300.0 L1599.0 304.0 L1555.0 321.0Z" fill="#fff" stroke="#111" stroke-width="1.5" stroke-linejoin="round" />
<path d="M1607.0 296.0 L1627.0 275.0 L1630.0 279.0 L1610.0 300.0Z" fill="#fff" stroke="#111" stroke-width="1.5" stroke-linejoin="round" />
<path d="M1528.0 303.0 L1545.0 279.0 L1555.0 281.0 L1560.0 300.0 L1533.0 309.0Z" fill="#fff" stroke="#111" stroke-width="1.6" stroke-linejoin="round" />
<path d="M1545.0 279.0 L1541.0 300.0" fill="none" stroke="#111" stroke-width="1.2" stroke-linejoin="miter"/>
<path d="M1576.0 341.0 L1662.0 288.0 L1677.0 279.0 L1677.0 271.0" fill="none" stroke="#111" stroke-width="1.3" stroke-linejoin="miter"/>
<ellipse cx="1550.8" cy="361.2" rx="12.0" ry="16.0" transform="rotate(10 1550.8 361.2)" fill="url(#dots)" stroke="#111" stroke-width="1.8"/>
<ellipse cx="1551.0" cy="361.0" rx="6.0" ry="8.0" transform="rotate(10 1551.0 361.0)" fill="#fff" stroke="#111" stroke-width="1.4"/>
<ellipse cx="1597.4" cy="359.5" rx="16.0" ry="13.0" transform="rotate(-15 1597.4 359.5)" fill="#fff" stroke="#111" stroke-width="1.6"/>
<ellipse cx="1597.0" cy="361.0" rx="10.0" ry="8.0" transform="rotate(-15 1597.0 361.0)" fill="#fff" stroke="#111" stroke-width="1.6"/>
<ellipse cx="1597.0" cy="362.0" rx="5.0" ry="4.0" transform="rotate(-15 1597.0 362.0)" fill="#fff" stroke="#111" stroke-width="1.3"/>
<path d="M1584.0 335.0 L1597.0 362.0" fill="none" stroke="#111" stroke-width="1.3" stroke-linejoin="miter"/>
<path d="M1654.0 366.0 L1682.0 346.0 L1689.0 352.0 L1664.0 370.0 L1672.0 373.0 L1654.0 372.0Z" fill="#fff" stroke="#111" stroke-width="1.5" stroke-linejoin="round" />
<path d="M1611.0 375.0 C1615.8 377.3 1628.5 388.2 1640.0 389.0 C1651.5 389.8 1667.0 385.3 1680.0 380.0 C1693.0 374.7 1711.7 360.8 1718.0 357.0" fill="none" stroke="#111" stroke-width="1.5" stroke-linejoin="round"/>
<path d="M1607.0 381.0 C1612.5 383.7 1626.2 395.8 1640.0 397.0 C1653.8 398.2 1676.7 392.5 1690.0 388.0 C1703.3 383.5 1715.0 373.0 1720.0 370.0" fill="none" stroke="#111" stroke-width="1.5" stroke-linejoin="round"/>
<path d="M1626.3 396.5 L1626.3 420.6" fill="none" stroke="#111" stroke-width="1.3" stroke-linejoin="miter"/>
<path d="M1642.4 398.0 L1642.4 419.0" fill="none" stroke="#111" stroke-width="1.3" stroke-linejoin="miter"/>
<path d="M1520.0 375.0 L1545.0 388.0 L1562.0 392.0" fill="none" stroke="#111" stroke-width="1.3" stroke-linejoin="miter"/>
<path d="M1515.0 376.0 L1530.0 372.0 L1545.0 385.0 L1540.0 393.0 L1518.0 387.0Z" fill="#fff" stroke="#111" stroke-width="1.4" stroke-linejoin="round" />
<path d="M1656.9 337.0 L1656.9 322.6 L1740.0 277.5" fill="none" stroke="#111" stroke-width="1.3" stroke-linejoin="miter"/>
<path d="M1430.0 371.0 L1553.0 295.4" fill="none" stroke="#111" stroke-width="1.3" stroke-linejoin="miter"/>
<path d="M1735.0 273.0 L1765.7 252.0 L1781.0 263.3 L1750.3 281.5Z" fill="#fff" stroke="#111" stroke-width="1.8" stroke-linejoin="round" />
<ellipse cx="1477.5" cy="259.0" rx="19.0" ry="26.0" transform="rotate(28 1477.5 259.0)" fill="#fff" stroke="#111" stroke-width="2.6"/>
<ellipse cx="1479.0" cy="258.5" rx="15.0" ry="21.5" transform="rotate(28 1479.0 258.5)" fill="#fff" stroke="#111" stroke-width="1.6"/>
<ellipse cx="1480.5" cy="258.0" rx="12.0" ry="18.0" transform="rotate(28 1480.5 258.0)" fill="#fff" stroke="#111" stroke-width="1.4"/>
<path d="M1471.0 255.0 L1507.0 276.0" fill="none" stroke="#111" stroke-width="1.5" stroke-linejoin="miter"/>
<path d="M1480 248 q5 1 4 6 q-4 2 -2 5 q4 1 2 6" fill="none" stroke="#111" stroke-width="1.3"/>
<path d="M1473 262 q4 -1 5 3 q-3 3 0 6" fill="none" stroke="#111" stroke-width="1.3"/>
<path d="M1436.7 288.3 L1468.2 305.9" fill="none" stroke="#111" stroke-width="1.8" stroke-linejoin="miter"/>
<path d="M1441.7 289.5 L1425.4 322.2" fill="none" stroke="#111" stroke-width="1.8" stroke-linejoin="miter"/>
<path d="M1463.2 304.6 L1448.0 338.6" fill="none" stroke="#111" stroke-width="1.8" stroke-linejoin="miter"/>
<path d="M1425.4 316.0 L1449.3 328.5 L1441.7 346.2 L1416.6 333.6 L1417.8 323.5Z" fill="url(#dots)" stroke="#111" stroke-width="2.2" stroke-linejoin="round" />
<path d="M1416.6 333.6 L1441.7 346.2 L1449.3 328.5" fill="none" stroke="#111" stroke-width="3.2" stroke-linejoin="miter"/>
<path d="M1421.0 321.0 L1420.0 334.0" fill="none" stroke="#111" stroke-width="1.5" stroke-linejoin="miter"/>
<path d="M1446.7 378.0 L1480.0 398.0 L1477.0 404.0 L1444.0 384.0Z" fill="url(#h2)" stroke="#111" stroke-width="1.6" stroke-linejoin="round" />
<ellipse cx="1486.5" cy="404.0" rx="7.5" ry="7.5" transform="rotate(0 1486.5 404.0)" fill="#fff" stroke="#111" stroke-width="1.8"/>
<ellipse cx="1486.5" cy="404.0" rx="3.0" ry="3.0" transform="rotate(0 1486.5 404.0)" fill="none" stroke="#111" stroke-width="1.1"/>
<path d="M1504.1 397.3 L1504.1 440.0" fill="none" stroke="#111" stroke-width="1.3" stroke-linejoin="miter"/>
<path d="M1504.1 397.3 L1558.8 428.7 L1558.8 401.3" fill="none" stroke="#111" stroke-width="1.3" stroke-linejoin="miter"/>
<path d="M1642.4 433.5 L1642.4 450.0" fill="none" stroke="#111" stroke-width="1.3" stroke-linejoin="miter"/>
<path d="M1227.9 579.6 L1227.9 597.3" fill="none" stroke="#111" stroke-width="1.7" stroke-linejoin="miter"/>
<path d="M1525.8 491.0 L1525.8 514.3" fill="none" stroke="#111" stroke-width="1.7" stroke-linejoin="miter"/>
<path d="M1570.5 505.4 L1570.5 540.0" fill="none" stroke="#111" stroke-width="1.7" stroke-linejoin="miter"/>
<path d="M1386.7 642.7 L1386.7 658.3" fill="none" stroke="#111" stroke-width="1.7" stroke-linejoin="miter"/>
<path d="M1327.2 632.8 L1327.2 647.0" fill="none" stroke="#111" stroke-width="1.7" stroke-linejoin="miter"/>
<path d="M1309.4 583.0 L1309.4 624.0 L1344.9 641.6 L1344.9 608.0" fill="none" stroke="#111" stroke-width="1.4" stroke-linejoin="miter"/>
<path d="M1704.8 525.7 L1749.1 525.7" fill="none" stroke="#111" stroke-width="1.7" stroke-linejoin="miter"/>
<path d="M1674.7 597.3 L1749.1 597.3" fill="none" stroke="#111" stroke-width="1.5" stroke-linejoin="miter"/>
<path d="M1682.0 651.2 L1749.1 651.2" fill="none" stroke="#111" stroke-width="1.5" stroke-linejoin="miter"/>
<path d="M1682.0 709.0 L1749.1 709.0" fill="none" stroke="#111" stroke-width="1.5" stroke-linejoin="miter"/>
<path d="M1682.0 764.0 L1749.1 764.0" fill="none" stroke="#111" stroke-width="1.5" stroke-linejoin="miter"/>
<path d="M1786.4 597.3 L1829.0 597.3" fill="none" stroke="#111" stroke-width="3.2" stroke-linejoin="miter"/>
<path d="M1786.4 651.2 L1829.0 651.2" fill="none" stroke="#111" stroke-width="3.2" stroke-linejoin="miter"/>
<path d="M1786.4 709.0 L1829.0 709.0" fill="none" stroke="#111" stroke-width="3.2" stroke-linejoin="miter"/>
<path d="M1786.4 764.0 L1829.0 764.0" fill="none" stroke="#111" stroke-width="3.2" stroke-linejoin="miter"/>
<path d="M1829.0 597.3 L1829.0 1061.4" fill="none" stroke="#111" stroke-width="3.2" stroke-linejoin="miter"/>
<path d="M1643.5 440.0 L1643.5 447.0" fill="none" stroke="#111" stroke-width="1.3" stroke-linejoin="miter"/>
<path d="M1643.5 476.0 L1643.5 515.0" fill="none" stroke="#111" stroke-width="1.3" stroke-linejoin="miter"/>
<path d="M1631.5 451.3 L1655.5 451.3 L1655.5 469.0 L1631.5 469.0Z" fill="#fff" stroke="none" stroke-width="0" stroke-linejoin="round" />
<path d="M1631.5 451.3 L1631.5 469.0" fill="none" stroke="#111" stroke-width="1.8" stroke-linejoin="miter"/>
<path d="M1655.5 451.3 L1655.5 469.0" fill="none" stroke="#111" stroke-width="1.8" stroke-linejoin="miter"/>
<ellipse cx="1643.5" cy="451.3" rx="12.0" ry="5.0" transform="rotate(0 1643.5 451.3)" fill="#fff" stroke="#111" stroke-width="1.8"/>
<ellipse cx="1643.5" cy="451.3" rx="6.0" ry="2.5" transform="rotate(0 1643.5 451.3)" fill="url(#h3)" stroke="#111" stroke-width="1.2"/>
<path d="M1655.5 469.0 L1655.5 469.4 L1655.4 469.8 L1655.2 470.2 L1654.9 470.5 L1654.6 470.9 L1654.2 471.3 L1653.7 471.6 L1653.2 471.9 L1652.6 472.2 L1652.0 472.5 L1651.3 472.8 L1650.6 473.0 L1649.8 473.3 L1648.9 473.5 L1648.1 473.6 L1647.2 473.8 L1646.3 473.9 L1645.4 473.9 L1644.4 474.0 L1643.5 474.0 L1642.6 474.0 L1641.6 473.9 L1640.7 473.9 L1639.8 473.8 L1638.9 473.6 L1638.1 473.5 L1637.2 473.3 L1636.4 473.0 L1635.7 472.8 L1635.0 472.5 L1634.4 472.2 L1633.8 471.9 L1633.3 471.6 L1632.8 471.3 L1632.4 470.9 L1632.1 470.5 L1631.8 470.2 L1631.6 469.8 L1631.5 469.4 L1631.5 469.0" fill="none" stroke="#111" stroke-width="1.8"/>
<path d="M1586.8 528.0 C1589.1 531.8 1591.2 545.3 1600.7 550.8 C1610.2 556.3 1628.8 560.8 1643.5 560.8 C1658.2 560.8 1679.4 556.3 1688.8 550.8 C1698.2 545.3 1698.1 531.8 1700.0 528.0" fill="#fff" stroke="#111" stroke-width="2" stroke-linejoin="round"/>
<path d="M1586.8 528.0 L1700.0 528.0 L1688.8 550.8 L1643.5 560.8 L1600.7 550.8Z" fill="#fff" stroke="none" stroke-width="0" stroke-linejoin="round" />
<path d="M1586.8 528.0 C1589.1 531.8 1591.2 545.3 1600.7 550.8 C1610.2 556.3 1628.8 560.8 1643.5 560.8 C1658.2 560.8 1679.4 556.3 1688.8 550.8 C1698.2 545.3 1698.1 531.8 1700.0 528.0" fill="none" stroke="#111" stroke-width="2" stroke-linejoin="round"/>
<path d="M1623.3 560.8 C1624.4 561.8 1626.6 565.7 1630.0 567.0 C1633.4 568.3 1639.0 568.5 1643.5 568.5 C1648.0 568.5 1653.7 568.3 1657.0 567.0 C1660.3 565.7 1662.5 561.8 1663.6 560.8" fill="none" stroke="#111" stroke-width="1.8" stroke-linejoin="round"/>
<path d="M1700.1 517.4 L1699.8 520.9 L1698.9 524.3 L1697.3 527.7 L1695.2 531.0 L1692.5 534.1 L1689.3 537.0 L1685.6 539.7 L1681.4 542.2 L1676.8 544.4 L1671.8 546.3 L1666.5 547.9 L1661.0 549.2 L1655.3 550.1 L1649.4 550.6 L1643.5 550.8 L1637.6 550.6 L1631.7 550.1 L1626.0 549.2 L1620.5 547.9 L1615.2 546.3 L1610.2 544.4 L1605.6 542.2 L1601.4 539.7 L1597.7 537.0 L1594.5 534.1 L1591.8 531.0 L1589.7 527.7 L1588.1 524.3 L1587.2 520.9 L1586.9 517.4 L1587.2 513.9 L1588.1 510.5 L1589.7 507.1 L1591.8 503.8 L1594.5 500.7 L1597.7 497.8 L1601.4 495.1 L1605.6 492.6 L1610.2 490.4 L1615.2 488.5 L1620.5 486.9 L1626.0 485.6 L1631.7 484.7 L1637.6 484.2 L1643.5 484.0 L1649.4 484.2 L1655.3 484.7 L1661.0 485.6 L1666.5 486.9 L1671.8 488.5 L1676.8 490.4 L1681.4 492.6 L1685.6 495.1 L1689.3 497.8 L1692.5 500.7 L1695.2 503.8 L1697.3 507.1 L1698.9 510.5 L1699.8 513.9 L1700.1 517.4 L1685.5 517.4 L1685.3 515.6 L1684.6 513.7 L1683.4 512.0 L1681.9 510.2 L1679.9 508.6 L1677.5 507.1 L1674.7 505.6 L1671.6 504.3 L1668.2 503.2 L1664.5 502.2 L1660.6 501.3 L1656.5 500.7 L1652.2 500.2 L1647.9 499.9 L1643.5 499.8 L1639.1 499.9 L1634.8 500.2 L1630.5 500.7 L1626.4 501.3 L1622.5 502.2 L1618.8 503.2 L1615.4 504.3 L1612.3 505.6 L1609.5 507.1 L1607.1 508.6 L1605.1 510.2 L1603.6 512.0 L1602.4 513.7 L1601.7 515.6 L1601.5 517.4 L1601.7 519.2 L1602.4 521.1 L1603.6 522.8 L1605.1 524.6 L1607.1 526.2 L1609.5 527.7 L1612.3 529.2 L1615.4 530.5 L1618.8 531.6 L1622.5 532.6 L1626.4 533.5 L1630.5 534.1 L1634.8 534.6 L1639.1 534.9 L1643.5 535.0 L1647.9 534.9 L1652.2 534.6 L1656.5 534.1 L1660.6 533.5 L1664.5 532.6 L1668.2 531.6 L1671.6 530.5 L1674.7 529.2 L1677.5 527.7 L1679.9 526.2 L1681.9 524.6 L1683.4 522.8 L1684.6 521.1 L1685.3 519.2 L1685.5 517.4Z" fill="#fff" stroke="none"/>
<path d="M1700.1 517.4 L1699.4 522.6 L1697.3 527.7 L1693.9 532.6 L1689.3 537.0 L1683.5 541.0 L1676.8 544.4 L1669.2 547.2 L1661.0 549.2 L1652.4 550.4 L1643.5 550.8 L1634.6 550.4 L1626.0 549.2 L1617.8 547.2 L1610.2 544.4 L1603.5 541.0 L1597.7 537.0 L1593.1 532.6 L1589.7 527.7 L1587.6 522.6 L1586.9 517.4 L1587.6 512.2 L1589.7 507.1 L1593.1 502.2 L1597.7 497.8 L1603.5 493.8 L1610.2 490.4 L1617.8 487.6 L1626.0 485.6 L1634.6 484.4 L1643.5 484.0 L1652.4 484.4 L1661.0 485.6 L1669.2 487.6 L1676.8 490.4 L1683.5 493.8 L1689.3 497.8 L1693.9 502.2 L1697.3 507.1 L1699.4 512.2 L1700.1 517.4" fill="none" stroke="#111" stroke-width="1.8"/>
<path d="M1685.5 517.4 L1685.0 520.2 L1683.4 522.8 L1680.9 525.4 L1677.5 527.7 L1673.2 529.8 L1668.2 531.6 L1662.6 533.1 L1656.5 534.1 L1650.1 534.8 L1643.5 535.0 L1636.9 534.8 L1630.5 534.1 L1624.4 533.1 L1618.8 531.6 L1613.8 529.8 L1609.5 527.7 L1606.1 525.4 L1603.6 522.8 L1602.0 520.2 L1601.5 517.4 L1602.0 514.6 L1603.6 512.0 L1606.1 509.4 L1609.5 507.1 L1613.8 505.0 L1618.8 503.2 L1624.4 501.7 L1630.5 500.7 L1636.9 500.0 L1643.5 499.8 L1650.1 500.0 L1656.5 500.7 L1662.6 501.7 L1668.2 503.2 L1673.2 505.0 L1677.5 507.1 L1680.9 509.4 L1683.4 512.0 L1685.0 514.6 L1685.5 517.4" fill="none" stroke="#111" stroke-width="1.8"/>
<path d="M1685.5 517.4 L1700.1 517.4 M1685.3 519.0 L1699.9 520.4 M1684.8 520.5 L1699.2 523.4 M1684.0 522.1 L1698.1 526.3 M1682.8 523.6 L1696.5 529.1 M1681.3 525.0 L1694.5 531.9 M1679.6 526.4 L1692.1 534.5 M1677.5 527.7 L1689.3 537.0 M1675.1 529.0 L1686.1 539.4 M1672.5 530.1 L1682.6 541.5 M1669.7 531.2 L1678.8 543.5 M1666.6 532.1 L1674.7 545.3 M1663.4 532.9 L1670.3 546.8 M1660.0 533.6 L1665.7 548.1 M1656.5 534.1 L1661.0 549.2 M1652.8 534.6 L1656.1 550.0 M1649.1 534.8 L1651.1 550.5 M1645.4 535.0 L1646.0 550.8 M1641.6 535.0 L1641.0 550.8 M1637.9 534.8 L1635.9 550.5 M1634.2 534.6 L1630.9 550.0 M1630.5 534.1 L1626.0 549.2 M1627.0 533.6 L1621.3 548.1 M1623.6 532.9 L1616.7 546.8 M1620.4 532.1 L1612.3 545.3 M1617.3 531.2 L1608.2 543.5 M1614.5 530.1 L1604.4 541.5 M1611.9 529.0 L1600.9 539.4 M1609.5 527.7 L1597.7 537.0 M1607.4 526.4 L1594.9 534.5 M1605.7 525.0 L1592.5 531.9 M1604.2 523.6 L1590.5 529.1 M1603.0 522.1 L1588.9 526.3 M1602.2 520.5 L1587.8 523.4 M1601.7 519.0 L1587.1 520.4 M1601.5 517.4 L1586.9 517.4 M1601.7 515.8 L1587.1 514.4 M1602.2 514.3 L1587.8 511.4 M1603.0 512.7 L1588.9 508.5 M1604.2 511.2 L1590.5 505.7 M1605.7 509.8 L1592.5 502.9 M1607.4 508.4 L1594.9 500.3 M1609.5 507.1 L1597.7 497.8 M1611.9 505.8 L1600.9 495.4 M1614.5 504.7 L1604.4 493.3 M1617.3 503.6 L1608.2 491.3 M1620.4 502.7 L1612.3 489.5 M1623.6 501.9 L1616.7 488.0 M1627.0 501.2 L1621.3 486.7 M1630.5 500.7 L1626.0 485.6 M1634.2 500.2 L1630.9 484.8 M1637.9 500.0 L1635.9 484.3 M1641.6 499.8 L1641.0 484.0 M1645.4 499.8 L1646.0 484.0 M1649.1 500.0 L1651.1 484.3 M1652.8 500.2 L1656.1 484.8 M1656.5 500.7 L1661.0 485.6 M1660.0 501.2 L1665.7 486.7 M1663.4 501.9 L1670.3 488.0 M1666.6 502.7 L1674.7 489.5 M1669.7 503.6 L1678.8 491.3 M1672.5 504.7 L1682.6 493.3 M1675.1 505.8 L1686.1 495.4 M1677.5 507.1 L1689.3 497.8 M1679.6 508.4 L1692.1 500.3 M1681.3 509.8 L1694.5 502.9 M1682.8 511.2 L1696.5 505.7 M1684.0 512.7 L1698.1 508.5 M1684.8 514.3 L1699.2 511.4 M1685.3 515.8 L1699.9 514.4" stroke="#111" stroke-width="1.1" fill="none"/>
<ellipse cx="1643.5" cy="517.4" rx="56.6" ry="33.4" transform="rotate(0 1643.5 517.4)" fill="none" stroke="#111" stroke-width="2.2"/>
<ellipse cx="1644.0" cy="517.0" rx="31.0" ry="17.0" transform="rotate(0 1644.0 517.0)" fill="#fff" stroke="#111" stroke-width="1.5"/>
<ellipse cx="1643.5" cy="514.3" rx="10.0" ry="5.5" transform="rotate(0 1643.5 514.3)" fill="#fff" stroke="#111" stroke-width="1.5"/>
<path d="M1624.0 529.0 L1630.0 518.0" fill="none" stroke="#111" stroke-width="3" stroke-linejoin="miter"/>
<path d="M1663.0 518.0 L1675.0 523.0" fill="none" stroke="#111" stroke-width="3" stroke-linejoin="miter"/>
<path d="M1643.5 476.0 L1643.5 515.0" fill="none" stroke="#111" stroke-width="1.3" stroke-linejoin="miter"/>
<ellipse cx="1520.0" cy="462.0" rx="10.0" ry="15.0" transform="rotate(-20 1520.0 462.0)" fill="url(#h2)" stroke="#111" stroke-width="2"/>
<path d="M1527.0 448.0 L1545.0 450.0 L1557.0 470.0 L1552.0 486.0 L1530.0 487.0 L1522.0 475.0Z" fill="url(#hx)" stroke="#111" stroke-width="2" stroke-linejoin="round" />
<ellipse cx="1540.0" cy="468.0" rx="10.0" ry="15.0" transform="rotate(-30 1540.0 468.0)" fill="none" stroke="#111" stroke-width="1.2"/>
<ellipse cx="1569.2" cy="487.8" rx="11.0" ry="13.0" transform="rotate(20 1569.2 487.8)" fill="#fff" stroke="#111" stroke-width="2"/>
<ellipse cx="1571.0" cy="487.0" rx="6.0" ry="8.0" transform="rotate(20 1571.0 487.0)" fill="#fff" stroke="#111" stroke-width="1.4"/>
<path d="M1563.0 478.0 L1576.0 496.0" fill="none" stroke="#111" stroke-width="1.1" stroke-linejoin="miter"/>
<path d="M1614.6 591.0 L1672.6 591.0 L1672.6 604.0 L1614.6 604.0Z" fill="#fff" stroke="none" stroke-width="0" stroke-linejoin="round" />
<path d="M1672.6 604.0 L1672.5 605.1 L1672.2 606.2 L1671.8 607.3 L1671.2 608.3 L1670.4 609.4 L1669.4 610.4 L1668.3 611.3 L1667.1 612.2 L1665.7 613.1 L1664.1 613.9 L1662.4 614.6 L1660.6 615.3 L1658.8 615.9 L1656.8 616.5 L1654.7 616.9 L1652.6 617.3 L1650.4 617.6 L1648.1 617.8 L1645.9 618.0 L1643.6 618.0 L1641.3 618.0 L1639.1 617.8 L1636.8 617.6 L1634.6 617.3 L1632.5 616.9 L1630.4 616.5 L1628.4 615.9 L1626.6 615.3 L1624.8 614.6 L1623.1 613.9 L1621.5 613.1 L1620.1 612.2 L1618.9 611.3 L1617.8 610.4 L1616.8 609.4 L1616.0 608.3 L1615.4 607.3 L1615.0 606.2 L1614.7 605.1 L1614.6 604.0" fill="none" stroke="#111" stroke-width="2"/>
<path d="M1614.6 591.0 L1614.6 604.0" fill="none" stroke="#111" stroke-width="2" stroke-linejoin="miter"/>
<path d="M1672.6 591.0 L1672.6 604.0" fill="none" stroke="#111" stroke-width="2" stroke-linejoin="miter"/>
<ellipse cx="1643.6" cy="591.0" rx="29.0" ry="14.0" transform="rotate(0 1643.6 591.0)" fill="#fff" stroke="#111" stroke-width="2"/>
<ellipse cx="1643.6" cy="593.0" rx="19.0" ry="8.5" transform="rotate(0 1643.6 593.0)" fill="#fff" stroke="#111" stroke-width="1.6"/>
<path d="M1670.2 606.1 L1669.8 606.9 L1669.3 607.7 L1668.6 608.5 L1667.9 609.3 L1667.0 610.0 L1666.0 610.7 L1664.9 611.4 L1663.7 612.0 L1662.4 612.6 L1661.0 613.2 L1659.5 613.7 L1657.9 614.2 L1656.3 614.6 L1654.6 615.0 L1652.8 615.3 L1651.0 615.5 L1649.2 615.7 L1647.4 615.9 L1645.5 616.0 L1643.6 616.0 L1641.7 616.0 L1639.8 615.9 L1638.0 615.7 L1636.2 615.5 L1634.4 615.3 L1632.6 615.0 L1630.9 614.6 L1629.3 614.2 L1627.7 613.7 L1626.2 613.2 L1624.8 612.6 L1623.5 612.0 L1622.3 611.4 L1621.2 610.7 L1620.2 610.0 L1619.3 609.3 L1618.6 608.5 L1617.9 607.7 L1617.4 606.9 L1617.0 606.1" fill="none" stroke="#111" stroke-width="1.4" stroke-dasharray="2 2.5"/>
<path d="M1622.6 590.0 L1622.7 589.2 L1622.9 588.4 L1623.2 587.7 L1623.6 586.9 L1624.2 586.2 L1624.9 585.5 L1625.7 584.8 L1626.6 584.1 L1627.6 583.5 L1628.8 582.9 L1630.0 582.4 L1631.3 581.9 L1632.6 581.5 L1634.1 581.1 L1635.6 580.8 L1637.1 580.5 L1638.7 580.3 L1640.3 580.1 L1642.0 580.0 L1643.6 580.0 L1645.2 580.0 L1646.9 580.1 L1648.5 580.3 L1650.1 580.5 L1651.6 580.8 L1653.1 581.1 L1654.6 581.5 L1655.9 581.9 L1657.2 582.4 L1658.4 582.9 L1659.6 583.5 L1660.6 584.1 L1661.5 584.8 L1662.3 585.5 L1663.0 586.2 L1663.6 586.9 L1664.0 587.7 L1664.3 588.4 L1664.5 589.2 L1664.6 590.0" fill="none" stroke="#111" stroke-width="1.4" stroke-dasharray="2 2.5"/>
<path d="M1607.7 643.0 L1679.7 643.0 L1679.7 662.0 L1607.7 662.0Z" fill="#fff" stroke="none" stroke-width="0" stroke-linejoin="round" />
<path d="M1679.7 662.0 L1679.6 663.3 L1679.3 664.7 L1678.7 666.0 L1677.9 667.3 L1677.0 668.5 L1675.8 669.7 L1674.4 670.9 L1672.8 672.0 L1671.1 673.0 L1669.2 674.0 L1667.1 674.9 L1664.9 675.8 L1662.5 676.5 L1660.0 677.1 L1657.5 677.7 L1654.8 678.2 L1652.1 678.5 L1649.3 678.8 L1646.5 678.9 L1643.7 679.0 L1640.9 678.9 L1638.1 678.8 L1635.3 678.5 L1632.6 678.2 L1629.9 677.7 L1627.4 677.1 L1624.9 676.5 L1622.5 675.8 L1620.3 674.9 L1618.2 674.0 L1616.3 673.0 L1614.6 672.0 L1613.0 670.9 L1611.6 669.7 L1610.4 668.5 L1609.5 667.3 L1608.7 666.0 L1608.1 664.7 L1607.8 663.3 L1607.7 662.0" fill="none" stroke="#111" stroke-width="2"/>
<path d="M1607.7 643.0 L1607.7 662.0" fill="none" stroke="#111" stroke-width="2" stroke-linejoin="miter"/>
<path d="M1679.7 643.0 L1679.7 662.0" fill="none" stroke="#111" stroke-width="2" stroke-linejoin="miter"/>
<ellipse cx="1643.7" cy="643.0" rx="36.0" ry="17.0" transform="rotate(0 1643.7 643.0)" fill="#fff" stroke="#111" stroke-width="2"/>
<ellipse cx="1643.7" cy="643.0" rx="30.0" ry="13.0" transform="rotate(0 1643.7 643.0)" fill="none" stroke="#111" stroke-width="1.4"/>
<path d="M1626.0 637.0 L1626.0 655.0" fill="none" stroke="#111" stroke-width="1.3" stroke-linejoin="miter"/>
<path d="M1661.0 637.0 L1661.0 655.0" fill="none" stroke="#111" stroke-width="1.3" stroke-linejoin="miter"/>
<ellipse cx="1643.7" cy="637.0" rx="17.0" ry="6.0" transform="rotate(0 1643.7 637.0)" fill="#fff" stroke="#111" stroke-width="1.4"/>
<path d="M1660.7 655.0 L1660.6 655.5 L1660.5 655.9 L1660.2 656.4 L1659.9 656.9 L1659.4 657.3 L1658.8 657.7 L1658.2 658.1 L1657.5 658.5 L1656.6 658.9 L1655.7 659.2 L1654.7 659.6 L1653.7 659.9 L1652.6 660.1 L1651.4 660.3 L1650.2 660.5 L1649.0 660.7 L1647.7 660.8 L1646.4 660.9 L1645.0 661.0 L1643.7 661.0 L1642.4 661.0 L1641.0 660.9 L1639.7 660.8 L1638.4 660.7 L1637.2 660.5 L1636.0 660.3 L1634.8 660.1 L1633.7 659.9 L1632.7 659.6 L1631.7 659.2 L1630.8 658.9 L1629.9 658.5 L1629.2 658.1 L1628.6 657.7 L1628.0 657.3 L1627.5 656.9 L1627.2 656.4 L1626.9 655.9 L1626.8 655.5 L1626.7 655.0" fill="none" stroke="#111" stroke-width="1.3"/>
<path d="M1609.0 650.0 L1626.0 645.0" fill="none" stroke="#111" stroke-width="1.1" stroke-linejoin="miter"/>
<path d="M1678.0 650.0 L1661.0 645.0" fill="none" stroke="#111" stroke-width="1.1" stroke-linejoin="miter"/>
<path d="M1672.0 721.5 L1670.2 722.9 L1668.1 724.2 L1665.9 725.4 L1663.5 726.5 L1660.9 727.5 L1658.2 728.3 L1655.3 728.9 L1652.4 729.4 L1649.5 729.8 L1646.5 730.0 L1643.4 730.0 L1640.4 729.9 L1637.4 729.6 L1634.5 729.1 L1631.6 728.5 L1628.9 727.7 L1626.3 726.8 L1623.8 725.8 L1621.5 724.6 L1619.4 723.3 L1617.5 721.9 L1615.8 720.4 L1614.3 718.8 L1613.1 717.2 L1612.2 715.5 L1611.5 713.7 L1611.1 711.9 L1610.9 710.1 L1611.0 708.3 L1611.4 706.5 L1612.1 704.8 L1613.0 703.1 L1614.2 701.4 L1615.6 699.8 L1617.3 698.3 L1619.1 696.9 L1621.2 695.6 L1623.5 694.4 L1626.0 693.3 L1628.6 692.4 L1631.3 691.6 L1634.1 691.0 L1637.0 690.5 L1640.0 690.2 L1643.0 690.0 L1646.1 690.0 L1649.1 690.2 L1652.1 690.5 L1655.0 691.0 L1657.8 691.6 L1660.5 692.4 L1663.1 693.4 L1665.6 694.4 L1667.8 695.6 L1669.9 696.9 L1671.8 698.3 L1673.5 699.8 L1674.9 701.4 L1676.0 703.1 L1677.0 704.8" fill="none" stroke="#111" stroke-width="2"/>
<path d="M1666.7 720.3 L1665.0 721.3 L1663.1 722.3 L1661.1 723.1 L1659.0 723.9 L1656.8 724.5 L1654.4 725.0 L1652.0 725.5 L1649.5 725.8 L1647.0 725.9 L1644.5 726.0 L1642.0 725.9 L1639.5 725.8 L1637.0 725.5 L1634.6 725.0 L1632.2 724.5 L1630.0 723.9 L1627.9 723.1 L1625.9 722.3 L1624.0 721.3 L1622.3 720.3 L1620.7 719.2 L1619.4 718.0 L1618.2 716.8 L1617.2 715.5 L1616.5 714.1 L1615.9 712.8 L1615.6 711.4 L1615.5 710.0 L1615.6 708.6 L1615.9 707.2 L1616.5 705.9 L1617.2 704.5 L1618.2 703.2 L1619.4 702.0 L1620.7 700.8 L1622.3 699.7 L1624.0 698.7 L1625.9 697.7 L1627.9 696.9 L1630.0 696.1 L1632.2 695.5 L1634.6 695.0 L1637.0 694.5 L1639.5 694.2 L1642.0 694.1 L1644.5 694.0 L1647.0 694.1 L1649.5 694.2 L1652.0 694.5 L1654.4 695.0 L1656.8 695.5 L1659.0 696.1 L1661.1 696.9 L1663.1 697.7 L1665.0 698.7 L1666.7 699.7 L1668.3 700.8 L1669.6 702.0 L1670.8 703.2 L1671.8 704.5" fill="none" stroke="#111" stroke-width="1.4"/>
<path d="M1668.0 727.0 L1676.0 722.0 L1678.0 729.0 L1670.0 732.0Z" fill="#fff" stroke="#111" stroke-width="1.4" stroke-linejoin="round" />
<path d="M1672.0 700.0 L1679.0 703.0 L1676.0 712.0 L1669.0 708.0Z" fill="#fff" stroke="#111" stroke-width="1.4" stroke-linejoin="round" />
<path d="M1607.7 753.0 L1679.7 753.0 L1679.7 770.0 L1607.7 770.0Z" fill="#fff" stroke="none" stroke-width="0" stroke-linejoin="round" />
<path d="M1679.7 770.0 L1679.6 771.4 L1679.3 772.8 L1678.7 774.2 L1677.9 775.6 L1677.0 776.9 L1675.8 778.2 L1674.4 779.4 L1672.8 780.6 L1671.1 781.7 L1669.2 782.7 L1667.1 783.7 L1664.9 784.6 L1662.5 785.3 L1660.0 786.0 L1657.5 786.6 L1654.8 787.1 L1652.1 787.5 L1649.3 787.8 L1646.5 787.9 L1643.7 788.0 L1640.9 787.9 L1638.1 787.8 L1635.3 787.5 L1632.6 787.1 L1629.9 786.6 L1627.4 786.0 L1624.9 785.3 L1622.5 784.6 L1620.3 783.7 L1618.2 782.7 L1616.3 781.7 L1614.6 780.6 L1613.0 779.4 L1611.6 778.2 L1610.4 776.9 L1609.5 775.6 L1608.7 774.2 L1608.1 772.8 L1607.8 771.4 L1607.7 770.0" fill="none" stroke="#111" stroke-width="2"/>
<path d="M1607.7 753.0 L1607.7 770.0" fill="none" stroke="#111" stroke-width="2" stroke-linejoin="miter"/>
<path d="M1679.7 753.0 L1679.7 770.0" fill="none" stroke="#111" stroke-width="2" stroke-linejoin="miter"/>
<ellipse cx="1643.7" cy="753.0" rx="36.0" ry="17.0" transform="rotate(0 1643.7 753.0)" fill="#fff" stroke="#111" stroke-width="2"/>
<ellipse cx="1643.7" cy="753.0" rx="28.0" ry="12.0" transform="rotate(0 1643.7 753.0)" fill="none" stroke="#111" stroke-width="1.4"/>
<ellipse cx="1643.7" cy="753.0" rx="21.0" ry="8.5" transform="rotate(0 1643.7 753.0)" fill="#fff" stroke="#111" stroke-width="1.6"/>
<ellipse cx="1643.7" cy="753.0" rx="13.0" ry="5.5" transform="rotate(0 1643.7 753.0)" fill="#fff" stroke="#111" stroke-width="1.4"/>
<ellipse cx="1643.7" cy="753.0" rx="24.5" ry="10.0" transform="rotate(0 1643.7 753.0)" fill="none" stroke="#111" stroke-width="1.0"/>
<ellipse cx="1241.0" cy="513.0" rx="45.0" ry="62.0" transform="rotate(22 1241.0 513.0)" fill="#fff" stroke="#111" stroke-width="2.2"/>
<ellipse cx="1243.0" cy="512.0" rx="38.0" ry="54.0" transform="rotate(22 1243.0 512.0)" fill="none" stroke="#111" stroke-width="1.5"/>
<ellipse cx="1238.0" cy="510.0" rx="28.0" ry="41.0" transform="rotate(22 1238.0 510.0)" fill="none" stroke="#111" stroke-width="1.7"/>
<ellipse cx="1236.0" cy="510.0" rx="22.0" ry="33.0" transform="rotate(22 1236.0 510.0)" fill="none" stroke="#111" stroke-width="1.4"/>
<ellipse cx="1234.0" cy="510.0" rx="17.0" ry="26.0" transform="rotate(22 1234.0 510.0)" fill="#fff" stroke="#111" stroke-width="1.4"/>
<ellipse cx="1236.0" cy="510.0" rx="14.0" ry="22.0" transform="rotate(22 1236.0 510.0)" fill="none" stroke="#111" stroke-width="1.0"/>
<ellipse cx="1238.0" cy="511.0" rx="14.0" ry="22.0" transform="rotate(22 1238.0 511.0)" fill="none" stroke="#111" stroke-width="1.0"/>
<ellipse cx="1240.0" cy="512.0" rx="14.0" ry="22.0" transform="rotate(22 1240.0 512.0)" fill="none" stroke="#111" stroke-width="1.0"/>
<ellipse cx="1242.0" cy="513.0" rx="14.0" ry="22.0" transform="rotate(22 1242.0 513.0)" fill="none" stroke="#111" stroke-width="1.0"/>
<path d="M1222.0 487.0 L1262.0 511.0" fill="none" stroke="#111" stroke-width="1.3" stroke-linejoin="miter"/>
<path d="M1262.0 511.0 L1280.0 521.0" fill="none" stroke="#111" stroke-width="1.2" stroke-linejoin="miter"/>
<path d="M1325.7 535.0 L1326.8 536.9 L1327.7 538.9 L1328.5 541.1 L1329.1 543.3 L1329.5 545.7 L1329.7 548.2 L1329.7 550.7 L1329.6 553.2 L1329.2 555.8 L1328.7 558.3 L1328.0 560.8 L1327.1 563.3 L1326.1 565.7 L1324.9 568.0 L1323.5 570.2 L1322.1 572.2 L1320.5 574.2 L1318.7 576.0 L1316.9 577.6 L1315.0 579.0 L1313.1 580.2 L1311.1 581.2 L1309.0 582.0 L1306.9 582.6 L1304.9 582.9 L1302.8 583.1 L1300.8 583.0 L1298.8 582.6 L1296.9 582.1 L1295.1 581.3 L1293.4 580.3 L1291.8 579.1 L1290.3 577.7 L1288.9 576.1 L1287.7 574.3 L1286.6 572.4 L1285.7 570.4 L1285.0 568.2 L1284.4 565.9 L1284.1 563.5 L1283.9 561.0 L1283.9 558.5 L1284.1 556.0 L1284.5 553.4 L1285.0 550.9 L1285.7 548.4 L1286.6 545.9 L1287.7 543.6 L1288.9 541.3 L1290.3 539.1 L1291.8 537.0 L1293.4 535.1 L1295.2 533.4 L1297.0 531.8 L1298.9 530.4 L1300.9 529.2 L1302.9 528.2 L1304.9 527.5 L1307.0 526.9 L1309.0 526.6" fill="none" stroke="#111" stroke-width="2"/>
<path d="M1323.5 539.1 L1324.2 540.8 L1324.8 542.5 L1325.3 544.4 L1325.6 546.4 L1325.7 548.4 L1325.7 550.5 L1325.6 552.6 L1325.4 554.7 L1324.9 556.8 L1324.4 558.9 L1323.7 561.0 L1322.9 563.0 L1322.0 564.9 L1320.9 566.8 L1319.8 568.6 L1318.5 570.3 L1317.2 571.9 L1315.8 573.3 L1314.3 574.6 L1312.7 575.8 L1311.1 576.8 L1309.5 577.6 L1307.9 578.2 L1306.2 578.7 L1304.6 579.0 L1302.9 579.1 L1301.3 579.0 L1299.8 578.7 L1298.2 578.3 L1296.8 577.7 L1295.4 576.9 L1294.2 575.9 L1293.0 574.8 L1291.9 573.5 L1290.9 572.1 L1290.1 570.5 L1289.4 568.8 L1288.8 567.1 L1288.3 565.2 L1288.0 563.2 L1287.9 561.2 L1287.9 559.1 L1288.0 557.0 L1288.2 554.9 L1288.7 552.8 L1289.2 550.7 L1289.9 548.6 L1290.7 546.6 L1291.6 544.7 L1292.7 542.8 L1293.8 541.0 L1295.1 539.3 L1296.4 537.7 L1297.8 536.3 L1299.3 535.0 L1300.9 533.8 L1302.5 532.8 L1304.1 532.0 L1305.7 531.4 L1307.4 530.9" fill="none" stroke="#111" stroke-width="1.3"/>
<ellipse cx="1293.0" cy="536.0" rx="3.0" ry="3.0" transform="rotate(0 1293.0 536.0)" fill="#fff" stroke="#111" stroke-width="1.3"/>
<ellipse cx="1313.0" cy="532.0" rx="3.0" ry="3.0" transform="rotate(0 1313.0 532.0)" fill="#fff" stroke="#111" stroke-width="1.3"/>
<ellipse cx="1351.0" cy="578.7" rx="24.0" ry="29.0" transform="rotate(20 1351.0 578.7)" fill="#fff" stroke="#111" stroke-width="2"/>
<ellipse cx="1352.0" cy="578.0" rx="14.0" ry="20.0" transform="rotate(20 1352.0 578.0)" fill="#fff" stroke="#111" stroke-width="1.6"/>
<ellipse cx="1352.0" cy="578.0" rx="11.0" ry="16.0" transform="rotate(20 1352.0 578.0)" fill="none" stroke="#111" stroke-width="1.0"/>
<ellipse cx="1400.0" cy="607.0" rx="28.0" ry="35.0" transform="rotate(20 1400.0 607.0)" fill="url(#dots)" stroke="#111" stroke-width="2.2"/>
<ellipse cx="1404.0" cy="605.0" rx="20.0" ry="28.0" transform="rotate(20 1404.0 605.0)" fill="#fff" stroke="#111" stroke-width="1.8"/>
<ellipse cx="1405.0" cy="605.0" rx="17.0" ry="25.0" transform="rotate(20 1405.0 605.0)" fill="none" stroke="#111" stroke-width="1.2"/>
<ellipse cx="1455.8" cy="638.0" rx="27.0" ry="34.0" transform="rotate(20 1455.8 638.0)" fill="#fff" stroke="#111" stroke-width="2.2"/>
<ellipse cx="1459.0" cy="636.0" rx="19.0" ry="25.0" transform="rotate(20 1459.0 636.0)" fill="none" stroke="#111" stroke-width="1.6"/>
<ellipse cx="1460.0" cy="636.0" rx="15.0" ry="20.0" transform="rotate(20 1460.0 636.0)" fill="url(#h3)" stroke="#111" stroke-width="1.4"/>
<ellipse cx="1461.0" cy="636.0" rx="10.0" ry="14.0" transform="rotate(20 1461.0 636.0)" fill="#fff" stroke="#111" stroke-width="1.4"/>
<path d="M1458.4 639.9 L1493.8 661.0" fill="none" stroke="#111" stroke-width="1.3" stroke-linejoin="miter"/>
<path d="M1389.8 710.7 L1406.6 679.2 L1442.3 693.9 L1423.4 727.5Z" fill="#111" stroke="#111" stroke-width="1.5" stroke-linejoin="round" />
<ellipse cx="1414.0" cy="702.0" rx="5.5" ry="5.5" transform="rotate(0 1414.0 702.0)" fill="#fff" stroke="#fff" stroke-width="1.0"/>
<path d="M1402.0 693.0 L1406.0 687.0 L1412.0 690.0" fill="none" stroke="#fff" stroke-width="1.3" stroke-linejoin="miter"/>
<path d="M1430.0 704.0 L1426.0 713.0" fill="none" stroke="#fff" stroke-width="1.3" stroke-linejoin="miter"/>
<path d="M1406.6 679.2 L1412.9 665.6 L1452.8 685.5 L1442.3 693.9" fill="none" stroke="#111" stroke-width="1.5" stroke-linejoin="miter"/>
<path d="M1412.9 665.6 L1400.0 662.0" fill="none" stroke="#111" stroke-width="1.3" stroke-linejoin="miter"/>
<path d="M1539.7 838.9 L1573.5 838.9" fill="none" stroke="#111" stroke-width="1.7" stroke-linejoin="miter"/>
<path d="M1710.2 875.5 L1748.8 875.5" fill="none" stroke="#111" stroke-width="1.7" stroke-linejoin="miter"/>
<path d="M1787.4 875.5 L1829.0 875.5" fill="none" stroke="#111" stroke-width="3.2" stroke-linejoin="miter"/>
<path d="M1703.8 911.9 L1829.0 911.9" fill="none" stroke="#111" stroke-width="3.2" stroke-linejoin="miter"/>
<path d="M1544.5 1019.6 L1568.7 1019.6" fill="none" stroke="#111" stroke-width="1.7" stroke-linejoin="miter"/>
<path d="M1483.4 1016.4 L1483.4 1040.5" fill="none" stroke="#111" stroke-width="1.7" stroke-linejoin="miter"/>
<path d="M1676.4 1062.1 L1748.8 1062.1" fill="none" stroke="#111" stroke-width="1.7" stroke-linejoin="miter"/>
<path d="M1787.4 1061.4 L1829.0 1061.4" fill="none" stroke="#111" stroke-width="3.2" stroke-linejoin="miter"/>
<path d="M1806.7 1061.4 L1806.7 1093.6" fill="none" stroke="#111" stroke-width="3.2" stroke-linejoin="miter"/>
<path d="M1520.4 1096.8 L1520.4 1113.0" fill="none" stroke="#111" stroke-width="1.7" stroke-linejoin="miter"/>
<path d="M1658.7 1138.6 L1692.5 1138.6" fill="none" stroke="#111" stroke-width="1.7" stroke-linejoin="miter"/>
<path d="M1643.4 796.0 L1643.4 865.0" fill="none" stroke="#111" stroke-width="1.6" stroke-linejoin="miter"/>
<path d="M1643.4 887.0 L1643.4 900.0" fill="none" stroke="#111" stroke-width="1.4" stroke-linejoin="miter"/>
<path d="M1643.4 912.0 L1643.4 946.0" fill="none" stroke="#111" stroke-width="1.6" stroke-linejoin="miter"/>
<path d="M1579.3 892.9 L1579.3 952.4" fill="none" stroke="#111" stroke-width="1.3" stroke-linejoin="miter"/>
<path d="M1579.3 981.4 L1579.3 999.0" fill="none" stroke="#111" stroke-width="1.3" stroke-linejoin="miter"/>
<path d="M1642.6 1032.5 L1642.6 1053.4" fill="none" stroke="#111" stroke-width="1.4" stroke-linejoin="miter"/>
<path d="M1642.6 1085.6 L1642.6 1097.0" fill="none" stroke="#111" stroke-width="1.4" stroke-linejoin="miter"/>
<path d="M1589.0 978.0 L1698.3 978.0 L1698.0 995.0 L1680.0 1008.0 L1643.6 1012.0 L1607.0 1008.0 L1589.0 995.0Z" fill="#fff" stroke="#111" stroke-width="2" stroke-linejoin="round" />
<path d="M1694.8 993.1 L1694.1 994.4 L1693.1 995.6 L1691.8 996.7 L1690.3 997.9 L1688.6 999.0 L1686.7 1000.1 L1684.6 1001.1 L1682.2 1002.0 L1679.7 1002.9 L1677.0 1003.8 L1674.2 1004.6 L1671.2 1005.3 L1668.0 1005.9 L1664.8 1006.4 L1661.4 1006.9 L1657.9 1007.3 L1654.4 1007.6 L1650.8 1007.8 L1647.2 1008.0 L1643.6 1008.0 L1640.0 1008.0 L1636.4 1007.8 L1632.8 1007.6 L1629.3 1007.3 L1625.8 1006.9 L1622.4 1006.4 L1619.2 1005.9 L1616.0 1005.3 L1613.0 1004.6 L1610.2 1003.8 L1607.5 1002.9 L1605.0 1002.0 L1602.6 1001.1 L1600.5 1000.1 L1598.6 999.0 L1596.9 997.9 L1595.4 996.7 L1594.1 995.6 L1593.1 994.4 L1592.4 993.1" fill="none" stroke="#111" stroke-width="1.4"/>
<path d="M1694.8 997.8 L1694.1 998.9 L1693.1 999.9 L1691.8 1001.0 L1690.3 1002.0 L1688.6 1003.0 L1686.7 1003.9 L1684.6 1004.9 L1682.2 1005.7 L1679.7 1006.5 L1677.0 1007.3 L1674.2 1007.9 L1671.2 1008.6 L1668.0 1009.1 L1664.8 1009.6 L1661.4 1010.0 L1657.9 1010.4 L1654.4 1010.7 L1650.8 1010.8 L1647.2 1011.0 L1643.6 1011.0 L1640.0 1011.0 L1636.4 1010.8 L1632.8 1010.7 L1629.3 1010.4 L1625.8 1010.0 L1622.4 1009.6 L1619.2 1009.1 L1616.0 1008.6 L1613.0 1007.9 L1610.2 1007.3 L1607.5 1006.5 L1605.0 1005.7 L1602.6 1004.9 L1600.5 1003.9 L1598.6 1003.0 L1596.9 1002.0 L1595.4 1001.0 L1594.1 999.9 L1593.1 998.9 L1592.4 997.8" fill="none" stroke="#111" stroke-width="1.3"/>
<path d="M1576.0 934.0 L1600.0 925.0 L1700.0 925.0 L1719.2 933.1 L1716.8 952.4 L1656.5 991.0 L1622.7 984.6 L1571.3 960.5 L1572.9 940.0Z" fill="#fff" stroke="#111" stroke-width="2.1" stroke-linejoin="round" />
<path d="M1576.0 950.8 L1625.0 976.0 L1656.0 982.0 L1716.8 944.0" fill="none" stroke="#111" stroke-width="1.5" stroke-linejoin="miter"/>
<path d="M1623.0 976.0 L1623.0 985.0" fill="none" stroke="#111" stroke-width="1.3" stroke-linejoin="miter"/>
<ellipse cx="1641.0" cy="977.0" rx="4.0" ry="3.0" transform="rotate(0 1641.0 977.0)" fill="#fff" stroke="#111" stroke-width="1.3"/>
<ellipse cx="1710.0" cy="937.0" rx="3.5" ry="2.5" transform="rotate(0 1710.0 937.0)" fill="#fff" stroke="#111" stroke-width="1.3"/>
<ellipse cx="1578.0" cy="951.0" rx="3.0" ry="2.5" transform="rotate(0 1578.0 951.0)" fill="#fff" stroke="#111" stroke-width="1.3"/>
<path d="M1622.0 982.0 L1650.0 988.0 L1655.0 981.0" fill="none" stroke="#111" stroke-width="1.4" stroke-linejoin="miter"/>
<path d="M1585.7 908.0 L1701.5 908.0 L1701.0 940.0 L1643.5 962.0 L1586.0 940.0Z" fill="#fff" stroke="none" stroke-width="0" stroke-linejoin="round" />
<path d="M1585.7 906.0 L1586.0 940.0" fill="none" stroke="#111" stroke-width="2" stroke-linejoin="miter"/>
<path d="M1701.5 906.0 L1701.0 940.0" fill="none" stroke="#111" stroke-width="2" stroke-linejoin="miter"/>
<path d="M1700.5 935.0 L1700.3 937.0 L1699.8 939.1 L1698.9 941.1 L1697.7 943.0 L1696.2 944.9 L1694.3 946.8 L1692.1 948.6 L1689.6 950.3 L1686.8 951.9 L1683.8 953.4 L1680.5 954.8 L1677.0 956.0 L1673.3 957.2 L1669.4 958.2 L1665.3 959.0 L1661.1 959.7 L1656.8 960.3 L1652.4 960.7 L1648.0 960.9 L1643.5 961.0 L1639.0 960.9 L1634.6 960.7 L1630.2 960.3 L1625.9 959.7 L1621.7 959.0 L1617.6 958.2 L1613.7 957.2 L1610.0 956.0 L1606.5 954.8 L1603.2 953.4 L1600.2 951.9 L1597.4 950.3 L1594.9 948.6 L1592.7 946.8 L1590.8 944.9 L1589.3 943.0 L1588.1 941.1 L1587.2 939.1 L1586.7 937.0 L1586.5 935.0" fill="none" stroke="#111" stroke-width="1.6"/>
<path d="M1699.6 945.5 L1698.8 947.3 L1697.7 949.0 L1696.3 950.7 L1694.7 952.4 L1692.9 954.0 L1690.8 955.5 L1688.4 957.0 L1685.9 958.4 L1683.1 959.7 L1680.1 960.9 L1677.0 962.0 L1673.7 963.0 L1670.3 964.0 L1666.7 964.8 L1663.0 965.4 L1659.2 966.0 L1655.4 966.4 L1651.4 966.7 L1647.5 966.9 L1643.5 967.0 L1639.5 966.9 L1635.6 966.7 L1631.6 966.4 L1627.8 966.0 L1624.0 965.4 L1620.3 964.8 L1616.7 964.0 L1613.3 963.0 L1610.0 962.0 L1606.9 960.9 L1603.9 959.7 L1601.1 958.4 L1598.6 957.0 L1596.2 955.5 L1594.1 954.0 L1592.3 952.4 L1590.7 950.7 L1589.3 949.0 L1588.2 947.3 L1587.4 945.5" fill="none" stroke="#111" stroke-width="1.4"/>
<ellipse cx="1643.5" cy="909.0" rx="58.0" ry="28.0" transform="rotate(0 1643.5 909.0)" fill="#fff" stroke="#111" stroke-width="2"/>
<ellipse cx="1643.5" cy="914.0" rx="50.0" ry="23.0" transform="rotate(0 1643.5 914.0)" fill="none" stroke="#111" stroke-width="1.5"/>
<ellipse cx="1643.5" cy="920.0" rx="45.0" ry="21.0" transform="rotate(0 1643.5 920.0)" fill="none" stroke="#111" stroke-width="1.5"/>
<ellipse cx="1643.5" cy="924.0" rx="35.4" ry="20.0" transform="rotate(0 1643.5 924.0)" fill="#fff" stroke="#111" stroke-width="1.8"/>
<ellipse cx="1644.0" cy="930.0" rx="29.0" ry="15.0" transform="rotate(0 1644.0 930.0)" fill="none" stroke="#111" stroke-width="1.5"/>
<ellipse cx="1644.0" cy="936.0" rx="24.0" ry="11.0" transform="rotate(0 1644.0 936.0)" fill="none" stroke="#111" stroke-width="1.4"/>
<ellipse cx="1644.0" cy="940.0" rx="20.0" ry="8.0" transform="rotate(0 1644.0 940.0)" fill="none" stroke="#111" stroke-width="1.3"/>
<path d="M1643.4 912.0 L1643.4 946.0" fill="none" stroke="#111" stroke-width="1.6" stroke-linejoin="miter"/>
<path d="M1615.5 897.0 L1615.6 896.3 L1615.8 895.6 L1616.3 894.9 L1616.9 894.2 L1617.6 893.6 L1618.6 892.9 L1619.6 892.3 L1620.8 891.7 L1622.2 891.2 L1623.7 890.6 L1625.3 890.2 L1627.0 889.7 L1628.9 889.3 L1630.8 889.0 L1632.8 888.7 L1634.8 888.4 L1637.0 888.2 L1639.1 888.1 L1641.3 888.0 L1643.5 888.0 L1645.7 888.0 L1647.9 888.1 L1650.0 888.2 L1652.2 888.4 L1654.2 888.7 L1656.2 889.0 L1658.1 889.3 L1660.0 889.7 L1661.7 890.2 L1663.3 890.6 L1664.8 891.2 L1666.2 891.7 L1667.4 892.3 L1668.4 892.9 L1669.4 893.6 L1670.1 894.2 L1670.7 894.9 L1671.2 895.6 L1671.4 896.3 L1671.5 897.0" fill="none" stroke="#111" stroke-width="1.6"/>
<ellipse cx="1643.5" cy="868.8" rx="59.0" ry="34.0" transform="rotate(0 1643.5 868.8)" fill="none" stroke="#111" stroke-width="3.4"/>
<ellipse cx="1643.3" cy="841.5" rx="64.5" ry="37.5" transform="rotate(0 1643.3 841.5)" fill="none" stroke="#111" stroke-width="1.8"/>
<ellipse cx="1643.3" cy="844.5" rx="62.0" ry="34.5" transform="rotate(0 1643.3 844.5)" fill="none" stroke="#111" stroke-width="1.4"/>
<path d="M1576.0 838.0 L1582.0 836.0 L1583.0 848.0 L1578.0 849.0Z" fill="#fff" stroke="#111" stroke-width="1.4" stroke-linejoin="round" />
<path d="M1703.0 831.0 L1709.0 832.0 L1709.0 846.0 L1704.0 846.0Z" fill="#fff" stroke="#111" stroke-width="1.4" stroke-linejoin="round" />
<path d="M1643.4 796.0 L1643.4 865.0" fill="none" stroke="#111" stroke-width="1.6" stroke-linejoin="miter"/>
<path d="M1575.0 1004.0 L1582.0 1004.0 L1582.0 1032.0 L1575.0 1032.0Z" fill="url(#h2)" stroke="#111" stroke-width="1.6" stroke-linejoin="round" />
<path d="M1571.0 1032.0 L1586.0 1032.0 L1586.0 1043.0 L1581.0 1046.0 L1576.0 1046.0 L1571.0 1043.0Z" fill="#fff" stroke="#111" stroke-width="1.8" stroke-linejoin="round" />
<path d="M1572.0 1037.0 L1585.0 1037.0" fill="none" stroke="#111" stroke-width="1.2" stroke-linejoin="miter"/>
<path d="M1613.7 1050.0 L1673.2 1050.0 L1673.2 1068.0 L1613.7 1068.0Z" fill="#fff" stroke="none" stroke-width="0" stroke-linejoin="round" />
<path d="M1673.3 1068.0 L1673.2 1069.1 L1672.9 1070.2 L1672.5 1071.3 L1671.8 1072.3 L1671.0 1073.4 L1670.1 1074.4 L1668.9 1075.3 L1667.6 1076.2 L1666.2 1077.1 L1664.6 1077.9 L1662.9 1078.6 L1661.0 1079.3 L1659.1 1079.9 L1657.0 1080.5 L1654.9 1080.9 L1652.7 1081.3 L1650.5 1081.6 L1648.2 1081.8 L1645.8 1082.0 L1643.5 1082.0 L1641.2 1082.0 L1638.8 1081.8 L1636.5 1081.6 L1634.3 1081.3 L1632.1 1080.9 L1630.0 1080.5 L1627.9 1079.9 L1626.0 1079.3 L1624.1 1078.6 L1622.4 1077.9 L1620.8 1077.1 L1619.4 1076.2 L1618.1 1075.3 L1616.9 1074.4 L1616.0 1073.4 L1615.2 1072.3 L1614.5 1071.3 L1614.1 1070.2 L1613.8 1069.1 L1613.7 1068.0" fill="none" stroke="#111" stroke-width="2"/>
<path d="M1613.7 1050.0 L1613.7 1068.0" fill="none" stroke="#111" stroke-width="2" stroke-linejoin="miter"/>
<path d="M1673.2 1050.0 L1673.2 1068.0" fill="none" stroke="#111" stroke-width="2" stroke-linejoin="miter"/>
<ellipse cx="1643.5" cy="1050.0" rx="29.8" ry="13.0" transform="rotate(0 1643.5 1050.0)" fill="#fff" stroke="#111" stroke-width="2"/>
<ellipse cx="1643.5" cy="1052.0" rx="20.0" ry="8.0" transform="rotate(0 1643.5 1052.0)" fill="#fff" stroke="#111" stroke-width="1.6"/>
<path d="M1663.5 1060.0 L1663.4 1060.6 L1663.3 1061.3 L1662.9 1061.9 L1662.5 1062.5 L1662.0 1063.1 L1661.3 1063.6 L1660.6 1064.2 L1659.7 1064.7 L1658.7 1065.2 L1657.6 1065.7 L1656.5 1066.1 L1655.3 1066.5 L1653.9 1066.8 L1652.6 1067.1 L1651.2 1067.4 L1649.7 1067.6 L1648.2 1067.8 L1646.6 1067.9 L1645.1 1068.0 L1643.5 1068.0 L1641.9 1068.0 L1640.4 1067.9 L1638.8 1067.8 L1637.3 1067.6 L1635.8 1067.4 L1634.4 1067.1 L1633.1 1066.8 L1631.7 1066.5 L1630.5 1066.1 L1629.4 1065.7 L1628.3 1065.2 L1627.3 1064.7 L1626.4 1064.2 L1625.7 1063.6 L1625.0 1063.1 L1624.5 1062.5 L1624.1 1061.9 L1623.7 1061.3 L1623.6 1060.6 L1623.5 1060.0" fill="none" stroke="#111" stroke-width="1.3"/>
<path d="M1642.6 1032.5 L1642.6 1053.4" fill="none" stroke="#111" stroke-width="1.4" stroke-linejoin="miter"/>
<path d="M1633.0 1100.0 L1652.3 1100.0 L1652.3 1166.0 L1633.0 1166.0Z" fill="#fff" stroke="#111" stroke-width="1.8" stroke-linejoin="round" />
<ellipse cx="1642.6" cy="1100.0" rx="9.6" ry="3.0" transform="rotate(0 1642.6 1100.0)" fill="#fff" stroke="#111" stroke-width="1.6"/>
<path d="M1634.0 1110.0 L1651.0 1110.0" fill="none" stroke="#111" stroke-width="1.2" stroke-linejoin="miter"/>
<path d="M1634.0 1114.0 L1651.0 1114.0" fill="none" stroke="#111" stroke-width="1.2" stroke-linejoin="miter"/>
<path d="M1628.2 1166.0 L1657.0 1166.0 L1662.0 1172.0 L1662.0 1190.0 L1655.0 1195.0 L1630.0 1195.0 L1626.0 1190.0 L1626.0 1172.0Z" fill="#fff" stroke="#111" stroke-width="1.8" stroke-linejoin="round" />
<path d="M1628.0 1174.0 L1660.0 1174.0" fill="none" stroke="#111" stroke-width="1.2" stroke-linejoin="miter"/>
<path d="M1633.0 1195.0 L1653.9 1195.0 L1653.9 1214.0 L1648.0 1218.0 L1638.0 1218.0 L1633.0 1214.0Z" fill="url(#h2)" stroke="#111" stroke-width="1.7" stroke-linejoin="round" />
<path d="M1497.9 1066.0 L1581.5 1112.0 L1579.0 1120.0 L1495.0 1073.0Z" fill="#fff" stroke="#111" stroke-width="1.7" stroke-linejoin="round" />
<clipPath id="c1_1497_1066"><path d="M1497.9 1066.0 L1536.0 1087.0 L1533.0 1094.0 L1495.0 1073.0Z"/></clipPath><path clip-path="url(#c1_1497_1066)" d="M1528.5 1044.4L1551.1 1093.0 M1525.8 1045.6L1548.4 1094.2 M1523.0 1046.9L1545.7 1095.5 M1520.3 1048.2L1543.0 1096.8 M1517.6 1049.4L1540.3 1098.0 M1514.9 1050.7L1537.6 1099.3 M1512.2 1052.0L1534.8 1100.6 M1509.4 1053.2L1532.1 1101.8 M1506.7 1054.5L1529.4 1103.1 M1504.0 1055.8L1526.7 1104.4 M1501.3 1057.0L1524.0 1105.7 M1498.6 1058.3L1521.2 1106.9 M1495.8 1059.6L1518.5 1108.2 M1493.1 1060.8L1515.8 1109.5 M1490.4 1062.1L1513.1 1110.7 M1487.7 1063.4L1510.4 1112.0 M1485.0 1064.6L1507.6 1113.3 M1482.3 1065.9L1504.9 1114.5" stroke="#111" stroke-width="1.3" fill="none"/>
<ellipse cx="1586.3" cy="1119.3" rx="9.5" ry="9.5" transform="rotate(0 1586.3 1119.3)" fill="#fff" stroke="#111" stroke-width="1.9"/>
<ellipse cx="1586.3" cy="1119.3" rx="4.0" ry="4.0" transform="rotate(0 1586.3 1119.3)" fill="none" stroke="#111" stroke-width="1.2"/>
<path d="M1582.0 1116.0 L1590.0 1122.0" fill="none" stroke="#111" stroke-width="1.1" stroke-linejoin="miter"/>
<path d="M1474.0 1043.0 L1486.0 1040.0 L1491.5 1050.0 L1490.0 1066.0 L1478.0 1069.0 L1472.0 1058.0Z" fill="#fff" stroke="#111" stroke-width="1.7" stroke-linejoin="round" />
<path d="M1476.0 1050.0 L1488.0 1047.0" fill="none" stroke="#111" stroke-width="1.3" stroke-linejoin="miter"/>
<path d="M1477.0 1058.0 L1489.0 1055.0" fill="none" stroke="#111" stroke-width="1.3" stroke-linejoin="miter"/>
<path d="M1491.5 1062.0 L1497.0 1067.0" fill="none" stroke="#111" stroke-width="1.2" stroke-linejoin="miter"/>
<path d="M951.4 811.4 L973.5 811.4" fill="none" stroke="#111" stroke-width="1.7" stroke-linejoin="miter"/>
<path d="M1099.8 781.4 L1099.8 804.9" fill="none" stroke="#111" stroke-width="1.7" stroke-linejoin="miter"/>
<path d="M1274.7 926.3 L1298.2 926.3" fill="none" stroke="#111" stroke-width="1.7" stroke-linejoin="miter"/>
<path d="M952.8 1087.5 L952.8 1111.0" fill="none" stroke="#111" stroke-width="1.7" stroke-linejoin="miter"/>
<path d="M1052.0 1136.2 L1075.6 1136.2" fill="none" stroke="#111" stroke-width="1.7" stroke-linejoin="miter"/>
<path d="M1051.0 1043.4 L1051.0 1059.0" fill="none" stroke="#111" stroke-width="1.7" stroke-linejoin="miter"/>
<path d="M1185.7 1061.7 L1201.4 1061.7" fill="none" stroke="#111" stroke-width="1.7" stroke-linejoin="miter"/>
<path d="M974.0 801.0 L1029.3 772.0 L1050.0 779.0 L1053.0 786.0 L998.0 816.0 L975.0 810.0Z" fill="#fff" stroke="#111" stroke-width="1.8" stroke-linejoin="round" />
<path d="M1025.0 834.0 L1079.3 803.0 L1103.0 811.0 L1106.0 818.0 L1051.0 848.0 L1025.0 842.0Z" fill="#fff" stroke="#111" stroke-width="1.8" stroke-linejoin="round" />
<path d="M1166.0 842.0 L1262.0 896.0 L1268.0 902.0 L1268.8 938.0 L1265.0 940.0 L1165.0 883.0 L1162.0 878.0 L1162.0 848.0Z" fill="#fff" stroke="#111" stroke-width="1.8" stroke-linejoin="round" />
<path d="M1178.0 912.0 L1218.0 890.0" fill="none" stroke="#111" stroke-width="1.4" stroke-linejoin="miter"/>
<path d="M909.0 1016.0 L1012.0 1068.0 L1016.0 1073.0 L1016.0 1114.0 L1012.0 1114.2 L911.0 1063.0 L907.0 1058.0 L907.0 1020.0Z" fill="#fff" stroke="#111" stroke-width="1.8" stroke-linejoin="round" />
<path d="M1074.0 1128.0 L1129.0 1095.3 L1152.7 1107.9 L1097.0 1142.5Z" fill="#fff" stroke="#111" stroke-width="1.8" stroke-linejoin="round" />
<path d="M1012.2 850.0 L1012.2 866.0" fill="none" stroke="#111" stroke-width="1.4" stroke-linejoin="miter"/>
<path d="M1067.0 843.0 L1067.0 896.0" fill="none" stroke="#111" stroke-width="1.4" stroke-linejoin="miter"/>
<path d="M1085.0 869.8 L1180.0 814.0 L1300.0 882.0 L1313.0 887.0" fill="none" stroke="#111" stroke-width="1.3" stroke-linejoin="miter"/>
<path d="M1155.0 915.0 L1171.0 906.0" fill="none" stroke="#111" stroke-width="1.3" stroke-linejoin="miter"/>
<path d="M1112.7 1073.3 L1112.7 1117.4" fill="none" stroke="#111" stroke-width="1.4" stroke-linejoin="miter"/>
<path d="M993.0 1046.7 L1041.9 1017.9" fill="none" stroke="#111" stroke-width="1.4" stroke-linejoin="miter"/>
<path d="M930.0 1015.3 L982.4 987.3" fill="none" stroke="#111" stroke-width="1.4" stroke-linejoin="miter"/>
<path d="M940.5 919.1 L947.5 887.7 L954.5 872.0 L973.7 856.2 L992.9 847.5 L1012.2 844.9 L1127.5 906.9 L1139.8 905.2 L1148.5 910.4 L1169.5 922.6 L1176.5 931.4 L1185.2 962.8 L1183.5 1004.8 L1173.0 1031.0 L1157.2 1053.7 L1132.8 1067.7 L1096.0 1067.7 L1087.3 1062.5 L1034.9 1027.5 L996.4 1004.8 L985.9 994.3 L947.5 969.8 L943.0 940.0Z" fill="#fff" stroke="#111" stroke-width="2.2" stroke-linejoin="round" />
<path d="M1012.2 844.9 L1127.5 906.9" fill="none" stroke="#111" stroke-width="2.8" stroke-linejoin="miter"/>
<path d="M951.0 887.7 L1062.8 948.9" fill="none" stroke="#111" stroke-width="1.5" stroke-linejoin="miter"/>
<path d="M947.5 914.0 L1078.6 990.8" fill="none" stroke="#111" stroke-width="1.5" stroke-linejoin="miter"/>
<path d="M996.0 958.0 L1078.0 996.0" fill="none" stroke="#111" stroke-width="1.5" stroke-linejoin="miter"/>
<path d="M1034.9 1027.5 L1083.0 1052.0" fill="none" stroke="#111" stroke-width="2.5" stroke-linejoin="miter"/>
<path d="M948.0 918.0 L985.0 935.0 L986.0 994.0 L948.0 970.0Z" fill="#fff" stroke="#111" stroke-width="1.6" stroke-linejoin="round" />
<path d="M953.0 932.0 L978.0 944.0 L980.0 986.0 L955.0 972.0Z" fill="#fff" stroke="#111" stroke-width="1.5" stroke-linejoin="round" />
<ellipse cx="962.0" cy="956.0" rx="6.0" ry="8.0" transform="rotate(0 962.0 956.0)" fill="#fff" stroke="#111" stroke-width="1.4"/>
<path d="M930.0 975.0 L962.0 958.0" fill="none" stroke="#111" stroke-width="1.3" stroke-linejoin="miter"/>
<path d="M948.0 967.0 L985.0 987.0" fill="none" stroke="#111" stroke-width="1.3" stroke-linejoin="miter"/>
<path d="M994.7 957.6 C994.9 962.2 995.3 977.1 996.0 985.0 C996.7 992.9 998.5 1001.7 999.0 1005.0" fill="none" stroke="#111" stroke-width="1.5" stroke-linejoin="round"/>
<path d="M1060.0 955.0 C1061.3 953.7 1064.7 948.5 1068.0 947.0 C1071.3 945.5 1076.3 945.0 1080.0 946.0 C1083.7 947.0 1088.3 951.8 1090.0 953.0" fill="none" stroke="#111" stroke-width="1.5" stroke-linejoin="round"/>
<path d="M1060.0 955.0 L1062.0 990.0" fill="none" stroke="#111" stroke-width="1.4" stroke-linejoin="miter"/>
<path d="M1128.0 906.0 L1142.0 915.0 L1148.0 922.0" fill="none" stroke="#111" stroke-width="1.4" stroke-linejoin="miter"/>
<path d="M1090.0 953.0 L1115.0 955.0 L1146.0 932.0 L1168.0 925.0" fill="none" stroke="#111" stroke-width="1.4" stroke-linejoin="miter"/>
<ellipse cx="968.0" cy="849.0" rx="3.0" ry="2.0" transform="rotate(0 968.0 849.0)" fill="#fff" stroke="#111" stroke-width="1.4"/>
<ellipse cx="957.0" cy="868.0" rx="3.0" ry="2.0" transform="rotate(0 957.0 868.0)" fill="#fff" stroke="#111" stroke-width="1.4"/>
<ellipse cx="1136.5" cy="997.0" rx="48.0" ry="68.0" transform="rotate(25 1136.5 997.0)" fill="#fff" stroke="#111" stroke-width="2.2"/>
<ellipse cx="1137.5" cy="996.0" rx="42.0" ry="62.0" transform="rotate(25 1137.5 996.0)" fill="none" stroke="#111" stroke-width="1.5"/>
<ellipse cx="1139.0" cy="995.0" rx="37.0" ry="57.0" transform="rotate(25 1139.0 995.0)" fill="#fff" stroke="#111" stroke-width="1.8"/>
<ellipse cx="1097.0" cy="1055.0" rx="2.5" ry="2.5" transform="rotate(0 1097.0 1055.0)" fill="#fff" stroke="#111" stroke-width="1.3"/>
<ellipse cx="1167.0" cy="931.0" rx="2.5" ry="2.5" transform="rotate(0 1167.0 931.0)" fill="#fff" stroke="#111" stroke-width="1.3"/>
<ellipse cx="1098.0" cy="970.0" rx="2.5" ry="2.5" transform="rotate(0 1098.0 970.0)" fill="#fff" stroke="#111" stroke-width="1.3"/>
<path d="M1101.0 985.0 L1133.0 1002.0 L1133.0 1008.0 L1101.0 992.0Z" fill="#fff" stroke="#111" stroke-width="1.4" stroke-linejoin="round" />
<path d="M1101.0 1005.0 L1143.0 1026.0 L1128.0 1040.0" fill="none" stroke="#111" stroke-width="1.4" stroke-linejoin="miter"/>
<path d="M1154.0 958.0 L1156.0 956.0 L1158.0 966.0 L1156.0 968.0Z" fill="none" stroke="#111" stroke-width="1.2" stroke-linejoin="round" />
<path d="M1145.0 1004.0 L1200.0 1030.0" fill="none" stroke="#111" stroke-width="1.3" stroke-linejoin="miter"/>
<path d="M1211.9 707.9 L1211.9 728.5" fill="none" stroke="#111" stroke-width="1.7" stroke-linejoin="miter"/>
<path d="M1275.6 707.9 L1275.6 719.7" fill="none" stroke="#111" stroke-width="1.7" stroke-linejoin="miter"/>
<path d="M1299.6 804.9 L1299.6 818.0" fill="none" stroke="#111" stroke-width="1.7" stroke-linejoin="miter"/>
<path d="M1405.4 792.3 L1429.0 792.3" fill="none" stroke="#111" stroke-width="1.7" stroke-linejoin="miter"/>
<path d="M1409.8 837.8 L1435.4 837.8" fill="none" stroke="#111" stroke-width="1.7" stroke-linejoin="miter"/>
<path d="M1361.4 886.6 L1384.9 886.6" fill="none" stroke="#111" stroke-width="1.7" stroke-linejoin="miter"/>
<path d="M847.4 967.9 L847.4 994.6" fill="none" stroke="#111" stroke-width="1.7" stroke-linejoin="miter"/>
<path d="M765.0 1035.5 L765.0 1056.0" fill="none" stroke="#111" stroke-width="1.7" stroke-linejoin="miter"/>
<path d="M816.9 1100.0 L816.9 1120.5" fill="none" stroke="#111" stroke-width="1.7" stroke-linejoin="miter"/>
<path d="M878.9 1158.3 L888.3 1158.3" fill="none" stroke="#111" stroke-width="1.7" stroke-linejoin="miter"/>
<path d="M771.9 1200.7 L771.9 1229.0" fill="none" stroke="#111" stroke-width="1.7" stroke-linejoin="miter"/>
<path d="M816.0 1186.6 L816.0 1219.6" fill="none" stroke="#111" stroke-width="1.7" stroke-linejoin="miter"/>
<path d="M1418.0 1017.4 L1418.0 1033.1" fill="none" stroke="#111" stroke-width="1.7" stroke-linejoin="miter"/>
<path d="M1493.4 1305.5 L1493.4 1325.6" fill="none" stroke="#111" stroke-width="1.7" stroke-linejoin="miter"/>
<path d="M1334.3 780.0 L1334.3 805.0 L1346.7 800.5" fill="none" stroke="#111" stroke-width="1.4" stroke-linejoin="miter"/>
<path d="M763.4 1124.0 L764.0 1141.0 L749.9 1147.3" fill="none" stroke="#111" stroke-width="1.4" stroke-linejoin="miter"/>
<path d="M1202.7 737.3 L1211.5 734.4 L1262.0 765.0 L1267.3 772.0 L1267.3 818.1 L1257.0 824.0 L1202.7 794.6Z" fill="#fff" stroke="#111" stroke-width="2.2" stroke-linejoin="round" />
<path d="M1210.0 748.0 L1255.0 774.0 L1258.0 812.0 L1212.0 787.0Z" fill="#fff" stroke="#111" stroke-width="1.6" stroke-linejoin="round" />
<path d="M1202.0 760.0 C1203.7 759.5 1208.7 756.3 1212.0 757.0 C1215.3 757.7 1220.0 760.2 1222.0 764.0 C1224.0 767.8 1225.3 776.7 1224.0 780.0 C1222.7 783.3 1217.3 784.3 1214.0 784.0 C1210.7 783.7 1205.7 779.0 1204.0 778.0" fill="none" stroke="#111" stroke-width="1.6" stroke-linejoin="round"/>
<path d="M1204.7 772.8 L1083.0 843.0" fill="none" stroke="#111" stroke-width="1.3" stroke-linejoin="miter"/>
<path d="M1243.8 750.5 L1262.0 740.0" fill="none" stroke="#111" stroke-width="1.3" stroke-linejoin="miter"/>
<path d="M1258.5 741.7 L1273.0 734.0 L1275.0 738.0 L1261.0 746.0Z" fill="url(#h2)" stroke="#111" stroke-width="1.5" stroke-linejoin="round" />
<ellipse cx="1279.0" cy="733.0" rx="6.0" ry="6.0" transform="rotate(0 1279.0 733.0)" fill="#fff" stroke="#111" stroke-width="1.8"/>
<path d="M1293.0 825.0 L1300.0 820.0 L1311.0 826.0 L1312.0 836.0 L1305.0 839.0 L1295.0 834.0Z" fill="#fff" stroke="#111" stroke-width="1.9" stroke-linejoin="round" />
<ellipse cx="1297.5" cy="828.0" rx="4.5" ry="6.5" transform="rotate(-20 1297.5 828.0)" fill="#fff" stroke="#111" stroke-width="1.8"/>
<path d="M1303.0 826.0 L1309.0 828.0 L1308.0 836.0 L1303.0 834.0Z" fill="#333" stroke="#111" stroke-width="1" stroke-linejoin="round" />
<path d="M1312.0 833.0 L1321.0 838.0 L1322.0 847.0 L1316.0 850.0" fill="none" stroke="#111" stroke-width="1.5" stroke-linejoin="miter"/>
<path d="M1311.0 838.0 L1313.0 846.0 L1320.0 850.0" fill="none" stroke="#111" stroke-width="1.3" stroke-linejoin="miter"/>
<path d="M1334.8 840.5 L1352.0 834.0 L1357.3 836.6 L1358.3 853.2 L1358.3 887.5 L1340.0 900.0 L1335.0 892.0 L1335.0 880.0 L1316.0 887.5 L1308.4 880.0 L1308.4 865.0 L1334.8 850.3Z" fill="#fff" stroke="#111" stroke-width="2" stroke-linejoin="round" />
<path d="M1334.8 840.5 L1334.8 892.0" fill="none" stroke="#111" stroke-width="1.6" stroke-linejoin="miter"/>
<path d="M1308.4 865.0 L1334.8 852.0" fill="none" stroke="#111" stroke-width="1.5" stroke-linejoin="miter"/>
<path d="M1310.0 872.0 L1334.0 862.0" fill="none" stroke="#111" stroke-width="1.3" stroke-linejoin="miter"/>
<path d="M1318.0 870.0 L1320.0 885.0" fill="none" stroke="#111" stroke-width="1.3" stroke-linejoin="miter"/>
<path d="M1326.0 866.0 L1327.0 882.0" fill="none" stroke="#111" stroke-width="1.3" stroke-linejoin="miter"/>
<path d="M1327.0 843.0 L1333.0 840.0 L1336.0 846.0" fill="none" stroke="#111" stroke-width="1.4" stroke-linejoin="miter"/>
<path d="M1357.0 854.0 L1360.0 860.0" fill="none" stroke="#111" stroke-width="2" stroke-linejoin="miter"/>
<path d="M1340.0 889.0 L1336.0 897.0" fill="none" stroke="#111" stroke-width="1.5" stroke-linejoin="miter"/>
<path d="M1363.2 814.1 L1387.7 800.4 L1405.3 811.1 L1380.8 825.8Z" fill="#fff" stroke="#111" stroke-width="2" stroke-linejoin="round" />
<path d="M1363.2 814.1 L1380.8 825.8 L1380.8 829.7 L1363.2 818.0Z" fill="#fff" stroke="#111" stroke-width="1.8" stroke-linejoin="round" />
<path d="M1380.8 825.8 L1405.3 811.1 L1405.3 815.0 L1380.8 829.7Z" fill="#fff" stroke="#111" stroke-width="1.8" stroke-linejoin="round" />
<clipPath id="c1_1381_826"><path d="M1381.0 826.0 L1405.0 811.5 L1405.0 815.0 L1381.0 829.5Z"/></clipPath><path clip-path="url(#c1_1381_826)" d="M1406.8 800.8L1412.7 834.3 M1404.2 801.3L1410.1 834.7 M1401.7 801.7L1407.6 835.2 M1399.1 802.2L1405.0 835.6 M1396.5 802.6L1402.5 836.1 M1394.0 803.1L1399.9 836.5 M1391.4 803.5L1397.3 837.0 M1388.9 804.0L1394.8 837.5 M1386.3 804.4L1392.2 837.9 M1383.7 804.9L1389.6 838.4 M1381.2 805.3L1387.1 838.8 M1378.6 805.8L1384.5 839.3 M1376.1 806.2L1382.0 839.7 M1373.5 806.7L1379.4 840.2" stroke="#111" stroke-width="1.0" fill="none"/>
<path d="M1350.0 795.0 C1353.0 793.1 1361.8 785.9 1368.1 783.7 C1374.4 781.5 1382.5 780.7 1387.7 781.7 C1392.9 782.7 1397.5 786.7 1399.4 789.6 C1401.4 792.5 1400.4 797.3 1399.4 799.4 C1398.4 801.5 1394.6 801.8 1393.6 802.3" fill="none" stroke="#111" stroke-width="2" stroke-linejoin="round"/>
<path d="M1343.0 799.0 L1350.0 795.0 L1353.0 799.0 L1346.0 803.0Z" fill="#fff" stroke="#111" stroke-width="1.6" stroke-linejoin="round" />
<path d="M1381.0 844.0 L1392.6 838.0 L1394.0 842.0 L1382.5 848.0Z" fill="url(#h2)" stroke="#111" stroke-width="1.5" stroke-linejoin="round" />
<ellipse cx="1397.5" cy="838.0" rx="5.5" ry="6.5" transform="rotate(0 1397.5 838.0)" fill="#fff" stroke="#111" stroke-width="2"/>
<ellipse cx="1397.5" cy="838.0" rx="2.5" ry="3.0" transform="rotate(0 1397.5 838.0)" fill="none" stroke="#111" stroke-width="1.2"/>
<path d="M1309.4 887.5 L1378.0 848.3" fill="none" stroke="#111" stroke-width="1.2" stroke-linejoin="miter"/>
<path d="M809.7 991.5 L825.4 985.2 L858.5 1005.7 L871.0 1021.4 L871.0 1070.2 L861.6 1076.5 L814.4 1051.3 L808.1 1034.0Z" fill="#fff" stroke="#111" stroke-width="2.2" stroke-linejoin="round" />
<path d="M825.4 985.2 L825.4 993.0 L862.0 1013.0" fill="none" stroke="#111" stroke-width="1.6" stroke-linejoin="miter"/>
<path d="M811.0 1028.0 C812.2 1027.7 815.5 1025.3 818.0 1026.0 C820.5 1026.7 825.0 1029.3 826.0 1032.0 C827.0 1034.7 825.7 1040.2 824.0 1042.0 C822.3 1043.8 817.3 1042.8 816.0 1043.0" fill="none" stroke="#111" stroke-width="1.6" stroke-linejoin="round"/>
<path d="M858.5 1012.0 L959.1 958.5" fill="none" stroke="#111" stroke-width="1.3" stroke-linejoin="miter"/>
<path d="M784.5 1059.0 L823.8 1037.0" fill="none" stroke="#111" stroke-width="1.3" stroke-linejoin="miter"/>
<path d="M770.0 1066.0 L784.5 1058.0 L786.0 1062.0 L772.0 1070.0Z" fill="url(#h2)" stroke="#111" stroke-width="1.5" stroke-linejoin="round" />
<ellipse cx="764.0" cy="1068.6" rx="6.0" ry="6.0" transform="rotate(0 764.0 1068.6)" fill="#fff" stroke="#111" stroke-width="1.8"/>
<path d="M795.7 1113.7 L802.0 1116.5 L805.0 1122.0 L800.0 1128.0 L796.0 1124.0 L795.7 1113.7" fill="none" stroke="#111" stroke-width="1.7" stroke-linejoin="miter"/>
<path d="M805.0 1128.0 L813.0 1123.0 L823.0 1127.0 L825.0 1138.0 L818.0 1143.0 L808.0 1138.0Z" fill="#fff" stroke="#111" stroke-width="1.9" stroke-linejoin="round" />
<ellipse cx="820.0" cy="1133.0" rx="4.5" ry="6.0" transform="rotate(-25 820.0 1133.0)" fill="#444" stroke="#111" stroke-width="1.8"/>
<path d="M802.0 1129.0 L810.0 1133.0" fill="none" stroke="#111" stroke-width="1.4" stroke-linejoin="miter"/>
<path d="M850.4 1110.1 L869.5 1101.9 L875.0 1105.5 L876.8 1131.1 L856.8 1141.1 L850.4 1138.0Z" fill="#fff" stroke="#111" stroke-width="1.9" stroke-linejoin="round" />
<path d="M852.0 1111.0 L852.0 1138.0" fill="none" stroke="#111" stroke-width="1.6" stroke-linejoin="miter"/>
<path d="M856.0 1109.0 L873.0 1102.0" fill="none" stroke="#111" stroke-width="1.3" stroke-linejoin="miter"/>
<path d="M827.6 1121.0 L847.7 1111.0 L851.0 1116.0 L851.0 1128.0 L830.0 1134.7 L827.6 1130.0Z" fill="#fff" stroke="#111" stroke-width="1.8" stroke-linejoin="round" />
<path d="M830.0 1126.0 L842.0 1121.0 L844.0 1128.0" fill="none" stroke="#111" stroke-width="1.4" stroke-linejoin="miter"/>
<path d="M848.0 1134.0 L852.0 1146.0 L855.0 1150.0" fill="none" stroke="#111" stroke-width="1.6" stroke-linejoin="miter"/>
<path d="M842.0 1141.0 L850.0 1137.0 L851.0 1144.0 L845.0 1148.0" fill="none" stroke="#111" stroke-width="1.5" stroke-linejoin="miter"/>
<path d="M850.4 1154.8 L858.0 1151.0 L858.0 1160.0 L875.0 1150.0 L875.0 1160.2 L855.9 1169.4 L850.4 1165.7Z" fill="#fff" stroke="#111" stroke-width="1.8" stroke-linejoin="round" />
<path d="M875.0 1145.0 L878.0 1142.0" fill="none" stroke="#111" stroke-width="1.8" stroke-linejoin="miter"/>
<path d="M891.5 1030.8 L890.5 1132.0 L838.5 1159.3" fill="none" stroke="#111" stroke-width="1.3" stroke-linejoin="miter"/>
<path d="M756.5 1179.4 L781.1 1165.7 L797.5 1173.9 L772.9 1187.6Z" fill="#fff" stroke="#111" stroke-width="2" stroke-linejoin="round" />
<path d="M756.5 1179.4 L772.9 1187.6 L772.0 1194.9 L756.5 1186.7Z" fill="#fff" stroke="#111" stroke-width="1.9" stroke-linejoin="round" />
<path d="M772.9 1187.6 L797.5 1173.9 L798.4 1180.3 L772.0 1194.9Z" fill="#fff" stroke="#111" stroke-width="1.9" stroke-linejoin="round" />
<clipPath id="c2_773_1188"><path d="M773.0 1188.0 L797.5 1174.2 L798.2 1180.0 L772.3 1194.6Z"/></clipPath><path clip-path="url(#c2_773_1188)" d="M800.2 1163.0L806.7 1199.4 M797.8 1163.4L804.2 1199.8 M795.3 1163.9L801.7 1200.3 M792.9 1164.3L799.3 1200.7 M790.4 1164.7L796.8 1201.1 M787.9 1165.2L794.4 1201.6 M785.5 1165.6L791.9 1202.0 M783.0 1166.0L789.4 1202.4 M780.5 1166.5L787.0 1202.9 M778.1 1166.9L784.5 1203.3 M775.6 1167.3L782.0 1203.7 M773.2 1167.8L779.6 1204.2 M770.7 1168.2L777.1 1204.6 M768.2 1168.6L774.7 1205.0 M765.8 1169.1L772.2 1205.5" stroke="#111" stroke-width="1.0" fill="none"/>
<path d="M742.8 1152.0 C741.2 1153.0 735.6 1156.0 733.0 1158.0 C730.4 1160.0 728.9 1161.1 727.3 1163.9 C725.7 1166.7 722.5 1171.2 723.6 1174.8 C724.7 1178.4 728.2 1184.1 733.7 1185.8 C739.2 1187.5 752.7 1185.1 756.5 1184.9" fill="none" stroke="#111" stroke-width="2.2" stroke-linejoin="round"/>
<path d="M743.7 1150.0 L752.0 1145.7 L755.0 1150.0 L747.0 1154.0Z" fill="#fff" stroke="#111" stroke-width="1.6" stroke-linejoin="round" />
<path d="M820.0 1170.0 L836.7 1161.0 L838.0 1165.0 L822.0 1174.0Z" fill="url(#h2)" stroke="#111" stroke-width="1.5" stroke-linejoin="round" />
<ellipse cx="816.7" cy="1173.9" rx="7.0" ry="7.5" transform="rotate(0 816.7 1173.9)" fill="#fff" stroke="#111" stroke-width="2.2"/>
<path d="M812.0 1171.0 L821.0 1176.0" fill="none" stroke="#111" stroke-width="1.2" stroke-linejoin="miter"/>
<path d="M816.0 1167.0 L817.0 1180.0" fill="none" stroke="#111" stroke-width="1.2" stroke-linejoin="miter"/>
<path d="M1258.0 971.0 L1285.0 983.0" fill="none" stroke="#111" stroke-width="1.3" stroke-linejoin="miter"/>
<ellipse cx="1289" cy="985" rx="5" ry="3" transform="rotate(28 1289 985)" fill="#fff" stroke="#111" stroke-width="1.5"/>
<path d="M1294.7 990.1 L1375.0 1030.3" fill="none" stroke="#111" stroke-width="4.5" stroke-linejoin="miter"/>
<path d="M1233.0 1010.0 L1276.0 1030.0" fill="none" stroke="#111" stroke-width="1.3" stroke-linejoin="miter"/>
<ellipse cx="1280.3" cy="1032" rx="5" ry="3" transform="rotate(28 1280.3 1032)" fill="#fff" stroke="#111" stroke-width="1.5"/>
<path d="M1289.0 1036.0 L1323.3 1053.2" fill="none" stroke="#111" stroke-width="4.5" stroke-linejoin="miter"/>
<path d="M1244.0 1158.0 L1259.0 1167.0" fill="none" stroke="#111" stroke-width="1.3" stroke-linejoin="miter"/>
<ellipse cx="1263.1" cy="1169.3" rx="5" ry="3" transform="rotate(28 1263.1 1169.3)" fill="#fff" stroke="#111" stroke-width="1.5"/>
<path d="M1271.7 1176.5 L1329.0 1208.0" fill="none" stroke="#111" stroke-width="4.5" stroke-linejoin="miter"/>
<path d="M1305.0 1148.0 L1322.0 1160.0" fill="none" stroke="#111" stroke-width="1.3" stroke-linejoin="miter"/>
<ellipse cx="1326.2" cy="1162.2" rx="5" ry="3" transform="rotate(28 1326.2 1162.2)" fill="#fff" stroke="#111" stroke-width="1.5"/>
<path d="M1334.8 1170.8 L1366.4 1185.0" fill="none" stroke="#111" stroke-width="4.5" stroke-linejoin="miter"/>
<path d="M1329.0 1041.7 L1360.0 1032.0 L1403.6 1030.3 L1446.6 1044.6 L1459.5 1064.7 L1459.5 1093.3 L1450.0 1098.0 L1420.0 1110.0 L1395.0 1124.0 L1377.8 1146.0 L1369.2 1150.7 L1320.5 1124.9 L1320.5 1073.3Z" fill="#fff" stroke="none" stroke-width="0" stroke-linejoin="round" />
<path d="M1332.2 1090.2 L1331.3 1089.0 L1330.4 1087.8 L1329.5 1086.6 L1328.7 1085.3 L1328.0 1084.0 L1327.3 1082.7 L1326.7 1081.4 L1326.1 1080.0 L1325.6 1078.6 L1325.2 1077.1 L1324.8 1075.7 L1324.5 1074.3 L1324.3 1072.8 L1324.2 1071.3 L1324.1 1069.8 L1324.1 1068.3 L1324.1 1066.9 L1324.2 1065.4 L1324.4 1063.9 L1324.7 1062.4 L1325.0 1061.0 L1325.4 1059.5 L1325.8 1058.1 L1326.3 1056.7 L1326.9 1055.3 L1327.6 1053.9 L1328.3 1052.6 L1329.0 1051.3 L1329.9 1050.0 L1330.8 1048.7 L1331.7 1047.5 L1332.7 1046.4 L1333.7 1045.2 L1334.8 1044.2 L1336.0 1043.1 L1337.2 1042.1 L1338.4 1041.2 L1339.7 1040.3 L1341.0 1039.5 L1342.3 1038.7 L1343.7 1037.9 L1345.1 1037.3 L1346.6 1036.7 L1348.0 1036.1 L1349.5 1035.6 L1351.0 1035.2 L1352.6 1034.8 L1354.1 1034.5 L1355.6 1034.3 L1357.2 1034.1 L1358.8 1034.0 L1360.3 1033.9 L1361.9 1034.0 L1363.5 1034.0 L1365.0 1034.2 L1366.6 1034.4 L1368.1 1034.7 L1369.6 1035.0 L1371.1 1035.4 L1372.6 1035.9 L1367.8 1049.0 L1366.9 1048.8 L1366.0 1048.5 L1365.1 1048.3 L1364.1 1048.2 L1363.2 1048.1 L1362.3 1048.0 L1361.3 1047.9 L1360.3 1047.9 L1359.4 1048.0 L1358.4 1048.0 L1357.5 1048.2 L1356.5 1048.3 L1355.6 1048.5 L1354.7 1048.7 L1353.7 1049.0 L1352.8 1049.3 L1351.9 1049.6 L1351.0 1050.0 L1350.2 1050.4 L1349.3 1050.8 L1348.5 1051.3 L1347.7 1051.8 L1346.9 1052.3 L1346.2 1052.9 L1345.4 1053.4 L1344.7 1054.1 L1344.1 1054.7 L1343.4 1055.4 L1342.8 1056.1 L1342.2 1056.8 L1341.7 1057.5 L1341.2 1058.3 L1340.7 1059.0 L1340.3 1059.8 L1339.9 1060.6 L1339.5 1061.5 L1339.2 1062.3 L1338.9 1063.1 L1338.7 1064.0 L1338.5 1064.9 L1338.3 1065.7 L1338.2 1066.6 L1338.1 1067.5 L1338.1 1068.3 L1338.1 1069.2 L1338.1 1070.1 L1338.2 1071.0 L1338.3 1071.8 L1338.5 1072.7 L1338.7 1073.5 L1339.0 1074.4 L1339.3 1075.2 L1339.6 1076.0 L1340.0 1076.8 L1340.4 1077.6 L1340.8 1078.3 L1341.3 1079.1 L1341.8 1079.8 L1342.4 1080.5 L1343.0 1081.2Z" fill="#fff" stroke="none"/>
<path d="M1332.2 1090.2 L1330.8 1088.4 L1329.5 1086.6 L1328.3 1084.7 L1327.3 1082.7 L1326.4 1080.7 L1325.6 1078.6 L1325.0 1076.4 L1324.5 1074.3 L1324.2 1072.0 L1324.1 1069.8 L1324.1 1067.6 L1324.2 1065.4 L1324.5 1063.2 L1325.0 1061.0 L1325.6 1058.8 L1326.3 1056.7 L1327.2 1054.6 L1328.3 1052.6 L1329.5 1050.6 L1330.8 1048.7 L1332.2 1046.9 L1333.7 1045.2 L1335.4 1043.6 L1337.2 1042.1 L1339.0 1040.7 L1341.0 1039.5 L1343.0 1038.3 L1345.1 1037.3 L1347.3 1036.4 L1349.5 1035.6 L1351.8 1035.0 L1354.1 1034.5 L1356.4 1034.2 L1358.8 1034.0 L1361.1 1033.9 L1363.5 1034.0 L1365.8 1034.3 L1368.1 1034.7 L1370.4 1035.2 L1372.6 1035.9" fill="none" stroke="#111" stroke-width="1.6"/>
<path d="M1343.0 1081.2 L1342.1 1080.1 L1341.3 1079.1 L1340.6 1077.9 L1340.0 1076.8 L1339.4 1075.6 L1339.0 1074.4 L1338.6 1073.1 L1338.3 1071.8 L1338.2 1070.5 L1338.1 1069.2 L1338.1 1067.9 L1338.2 1066.6 L1338.4 1065.3 L1338.7 1064.0 L1339.0 1062.7 L1339.5 1061.5 L1340.1 1060.2 L1340.7 1059.0 L1341.4 1057.9 L1342.2 1056.8 L1343.1 1055.7 L1344.1 1054.7 L1345.1 1053.7 L1346.2 1052.9 L1347.3 1052.0 L1348.5 1051.3 L1349.7 1050.6 L1351.0 1050.0 L1352.4 1049.4 L1353.7 1049.0 L1355.1 1048.6 L1356.5 1048.3 L1358.0 1048.1 L1359.4 1048.0 L1360.8 1047.9 L1362.3 1048.0 L1363.7 1048.1 L1365.1 1048.3 L1366.5 1048.6 L1367.8 1049.0" fill="none" stroke="#111" stroke-width="1.6"/>
<path d="M1343.0 1081.2 L1332.2 1090.2 M1340.9 1078.5 L1328.9 1085.6 M1339.4 1075.6 L1326.4 1080.7 M1338.5 1072.5 L1324.8 1075.3 M1338.1 1069.2 L1324.1 1069.8 M1338.3 1065.9 L1324.4 1064.3 M1339.0 1062.7 L1325.6 1058.8 M1340.4 1059.6 L1327.7 1053.6 M1342.2 1056.8 L1330.8 1048.7 M1344.6 1054.2 L1334.6 1044.4 M1347.3 1052.0 L1339.0 1040.7 M1350.4 1050.3 L1344.1 1037.8 M1353.7 1049.0 L1349.5 1035.6 M1357.2 1048.2 L1355.3 1034.3 M1360.8 1047.9 L1361.1 1033.9 M1364.4 1048.2 L1367.0 1034.5 M1367.8 1049.0 L1372.6 1035.9" stroke="#111" stroke-width="1.2" fill="none"/>
<path d="M1454.5 1080.3 L1455.3 1081.6 L1456.0 1082.9 L1456.6 1084.3 L1457.0 1085.8 L1457.4 1087.2 L1457.6 1088.8 L1457.6 1090.3 L1457.6 1091.9 L1457.4 1093.5 L1457.0 1095.1 L1456.6 1096.7 L1456.0 1098.4 L1455.3 1100.0 L1454.5 1101.6 L1453.5 1103.2 L1452.4 1104.8 L1451.3 1106.4 L1450.0 1107.9 L1448.6 1109.4 L1447.1 1110.9 L1445.5 1112.3 L1443.8 1113.7 L1442.1 1115.0 L1440.2 1116.3 L1438.3 1117.5 L1436.3 1118.6 L1434.3 1119.7 L1432.2 1120.7 L1430.1 1121.6 L1427.9 1122.4 L1425.7 1123.2 L1423.5 1123.9 L1421.2 1124.4 L1419.0 1124.9 L1416.7 1125.3 L1414.5 1125.6 L1412.3 1125.9 L1410.1 1126.0 L1407.9 1126.0 L1405.8 1125.9 L1403.7 1125.8 L1401.7 1125.5 L1399.7 1125.2 L1397.8 1124.7 L1395.9 1124.2 L1394.2 1123.6 L1392.5 1122.9 L1390.9 1122.1 L1389.4 1121.2 L1388.0 1120.2 L1386.7 1119.2 L1385.5 1118.1 L1384.5 1116.9 L1383.5 1115.7 L1382.7 1114.4 L1382.0 1113.1 L1381.4 1111.7 L1381.0 1110.2 L1380.6 1108.8 L1380.4 1107.2 L1394.1 1104.5 L1394.2 1105.3 L1394.3 1106.1 L1394.6 1106.9 L1394.9 1107.6 L1395.3 1108.4 L1395.8 1109.0 L1396.3 1109.7 L1397.0 1110.3 L1397.7 1110.9 L1398.5 1111.4 L1399.3 1111.9 L1400.2 1112.3 L1401.2 1112.7 L1402.3 1113.0 L1403.4 1113.3 L1404.5 1113.5 L1405.7 1113.7 L1407.0 1113.8 L1408.3 1113.9 L1409.6 1113.9 L1410.9 1113.8 L1412.3 1113.7 L1413.7 1113.6 L1415.1 1113.4 L1416.6 1113.2 L1418.0 1112.9 L1419.5 1112.5 L1420.9 1112.1 L1422.4 1111.7 L1423.8 1111.2 L1425.2 1110.6 L1426.6 1110.0 L1428.0 1109.4 L1429.3 1108.8 L1430.6 1108.1 L1431.9 1107.3 L1433.1 1106.6 L1434.2 1105.8 L1435.4 1104.9 L1436.4 1104.1 L1437.4 1103.2 L1438.4 1102.4 L1439.2 1101.5 L1440.1 1100.6 L1440.8 1099.6 L1441.5 1098.7 L1442.0 1097.8 L1442.6 1096.9 L1443.0 1096.0 L1443.3 1095.0 L1443.6 1094.1 L1443.8 1093.3 L1443.9 1092.4 L1443.9 1091.5 L1443.8 1090.7 L1443.7 1089.9 L1443.4 1089.1 L1443.1 1088.4 L1442.7 1087.6 L1442.2 1087.0Z" fill="#fff" stroke="none"/>
<path d="M1454.5 1080.3 L1455.7 1082.2 L1456.6 1084.3 L1457.2 1086.5 L1457.6 1088.8 L1457.6 1091.1 L1457.4 1093.5 L1456.8 1095.9 L1456.0 1098.4 L1454.9 1100.8 L1453.5 1103.2 L1451.9 1105.6 L1450.0 1107.9 L1447.8 1110.2 L1445.5 1112.3 L1442.9 1114.4 L1440.2 1116.3 L1437.3 1118.1 L1434.3 1119.7 L1431.1 1121.1 L1427.9 1122.4 L1424.6 1123.5 L1421.2 1124.4 L1417.9 1125.1 L1414.5 1125.6 L1411.2 1125.9 L1407.9 1126.0 L1404.7 1125.9 L1401.7 1125.5 L1398.7 1124.9 L1395.9 1124.2 L1393.3 1123.2 L1390.9 1122.1 L1388.7 1120.7 L1386.7 1119.2 L1385.0 1117.5 L1383.5 1115.7 L1382.3 1113.8 L1381.4 1111.7 L1380.8 1109.5 L1380.4 1107.2" fill="none" stroke="#111" stroke-width="1.6"/>
<path d="M1442.2 1087.0 L1442.9 1088.0 L1443.4 1089.1 L1443.8 1090.3 L1443.9 1091.5 L1443.8 1092.8 L1443.6 1094.1 L1443.2 1095.5 L1442.6 1096.9 L1441.8 1098.3 L1440.8 1099.6 L1439.7 1101.0 L1438.4 1102.4 L1436.9 1103.7 L1435.4 1104.9 L1433.7 1106.2 L1431.9 1107.3 L1429.9 1108.4 L1428.0 1109.4 L1425.9 1110.3 L1423.8 1111.2 L1421.6 1111.9 L1419.5 1112.5 L1417.3 1113.0 L1415.1 1113.4 L1413.0 1113.7 L1410.9 1113.8 L1408.9 1113.9 L1407.0 1113.8 L1405.1 1113.6 L1403.4 1113.3 L1401.7 1112.8 L1400.2 1112.3 L1398.9 1111.6 L1397.7 1110.9 L1396.6 1110.0 L1395.8 1109.0 L1395.1 1108.0 L1394.6 1106.9 L1394.2 1105.7 L1394.1 1104.5" fill="none" stroke="#111" stroke-width="1.6"/>
<path d="M1442.2 1087.0 L1454.5 1080.3 M1443.4 1088.9 L1456.4 1083.9 M1443.9 1091.1 L1457.5 1087.9 M1443.8 1093.4 L1457.5 1092.2 M1443.0 1095.9 L1456.6 1096.6 M1441.7 1098.4 L1454.8 1101.0 M1439.8 1100.9 L1452.0 1105.4 M1437.3 1103.3 L1448.4 1109.6 M1434.5 1105.6 L1444.1 1113.4 M1431.2 1107.7 L1439.2 1116.9 M1427.6 1109.6 L1433.7 1120.0 M1423.8 1111.2 L1427.9 1122.4 M1419.9 1112.4 L1421.8 1124.3 M1415.9 1113.3 L1415.7 1125.5 M1412.1 1113.8 L1409.7 1126.0 M1408.4 1113.9 L1403.9 1125.8 M1404.9 1113.6 L1398.4 1124.9 M1401.9 1112.9 L1393.5 1123.3 M1399.2 1111.8 L1389.3 1121.1 M1397.1 1110.4 L1385.7 1118.3 M1395.5 1108.7 L1383.1 1115.0 M1394.5 1106.7 L1381.3 1111.3 M1394.1 1104.5 L1380.4 1107.2" stroke="#111" stroke-width="1.2" fill="none"/>
<path d="M1331.8 1072.7 L1399.0 1031.0 L1453.6 1058.2 L1382.7 1100.0Z" fill="#fff" stroke="#111" stroke-width="1.8" stroke-linejoin="round" />
<clipPath id="c3_1331_1072"><path d="M1331.8 1072.7 L1399.0 1031.0 L1453.6 1058.2 L1382.7 1100.0Z"/></clipPath><path clip-path="url(#c3_1331_1072)" d="M1293.5 1042.6L1415.6 966.3 M1295.1 1045.1L1417.2 968.8 M1296.7 1047.7L1418.8 971.4 M1298.3 1050.2L1420.4 973.9 M1299.9 1052.8L1422.0 976.5 M1301.4 1055.3L1423.6 979.0 M1303.0 1057.9L1425.1 981.6 M1304.6 1060.4L1426.7 984.1 M1306.2 1063.0L1428.3 986.6 M1307.8 1065.5L1429.9 989.2 M1309.4 1068.0L1431.5 991.7 M1311.0 1070.6L1433.1 994.3 M1312.6 1073.1L1434.7 996.8 M1314.2 1075.7L1436.3 999.4 M1315.8 1078.2L1437.9 1001.9 M1317.3 1080.8L1439.4 1004.5 M1318.9 1083.3L1441.0 1007.0 M1320.5 1085.8L1442.6 1009.5 M1322.1 1088.4L1444.2 1012.1 M1323.7 1090.9L1445.8 1014.6 M1325.3 1093.5L1447.4 1017.2 M1326.9 1096.0L1449.0 1019.7 M1328.5 1098.6L1450.6 1022.3 M1330.1 1101.1L1452.2 1024.8 M1331.6 1103.7L1453.8 1027.4 M1333.2 1106.2L1455.3 1029.9 M1334.8 1108.7L1456.9 1032.4 M1336.4 1111.3L1458.5 1035.0 M1338.0 1113.8L1460.1 1037.5 M1339.6 1116.4L1461.7 1040.1 M1341.2 1118.9L1463.3 1042.6 M1342.8 1121.5L1464.9 1045.2 M1344.4 1124.0L1466.5 1047.7 M1346.0 1126.6L1468.1 1050.3 M1347.5 1129.1L1469.7 1052.8 M1349.1 1131.6L1471.2 1055.3 M1350.7 1134.2L1472.8 1057.9 M1352.3 1136.7L1474.4 1060.4 M1353.9 1139.3L1476.0 1063.0 M1355.5 1141.8L1477.6 1065.5 M1357.1 1144.4L1479.2 1068.1 M1358.7 1146.9L1480.8 1070.6 M1360.3 1149.5L1482.4 1073.1 M1361.9 1152.0L1484.0 1075.7 M1363.4 1154.5L1485.6 1078.2 M1365.0 1157.1L1487.1 1080.8 M1366.6 1159.6L1488.7 1083.3 M1368.2 1162.2L1490.3 1085.9" stroke="#111" stroke-width="1.1" fill="none"/>
<path d="M1322.0 1075.0 L1382.7 1100.0 L1376.0 1150.0 L1370.0 1152.0 L1322.0 1125.0Z" fill="#fff" stroke="#111" stroke-width="1.8" stroke-linejoin="round" />
<clipPath id="c4_1322_1075"><path d="M1322.0 1075.0 L1382.7 1100.0 L1376.0 1150.0 L1370.0 1152.0 L1322.0 1125.0Z"/></clipPath><path clip-path="url(#c4_1322_1075)" d="M1401.6 1060.7L1405.1 1162.7 M1398.3 1060.8L1401.8 1162.8 M1395.0 1061.0L1398.5 1162.9 M1391.7 1061.1L1395.2 1163.1 M1388.4 1061.2L1391.9 1163.2 M1385.1 1061.3L1388.6 1163.3 M1381.8 1061.4L1385.3 1163.4 M1378.5 1061.5L1382.0 1163.5 M1375.2 1061.6L1378.7 1163.6 M1371.9 1061.8L1375.4 1163.7 M1368.6 1061.9L1372.1 1163.9 M1365.3 1062.0L1368.8 1164.0 M1362.0 1062.1L1365.5 1164.1 M1358.7 1062.2L1362.2 1164.2 M1355.4 1062.3L1359.0 1164.3 M1352.1 1062.5L1355.7 1164.4 M1348.8 1062.6L1352.4 1164.6 M1345.5 1062.7L1349.1 1164.7 M1342.2 1062.8L1345.8 1164.8 M1338.9 1062.9L1342.5 1164.9 M1335.6 1063.0L1339.2 1165.0 M1332.3 1063.1L1335.9 1165.1 M1329.0 1063.3L1332.6 1165.2 M1325.7 1063.4L1329.3 1165.4 M1322.4 1063.5L1326.0 1165.5 M1319.1 1063.6L1322.7 1165.6 M1315.8 1063.7L1319.4 1165.7 M1312.5 1063.8L1316.1 1165.8 M1309.2 1064.0L1312.8 1165.9 M1305.9 1064.1L1309.5 1166.1 M1302.6 1064.2L1306.2 1166.2" stroke="#111" stroke-width="1.2" fill="none"/>
<path d="M1322.0 1110.0 L1378.0 1136.0" fill="none" stroke="#111" stroke-width="1.3" stroke-linejoin="miter"/>
<path d="M1437.0 1056.0 L1453.6 1058.2 L1461.0 1070.0 L1460.0 1092.0 L1452.0 1095.0 L1446.0 1080.0Z" fill="#fff" stroke="#111" stroke-width="1.7" stroke-linejoin="round" />
<path d="M1441.0 1099.0 L1466.7 1114.8 L1466.7 1053.2 L1475.3 1047.5" fill="none" stroke="#111" stroke-width="1.3" stroke-linejoin="miter"/>
<path d="M1321.0 1212.7 L1333.6 1205.5 L1370.0 1174.5 L1390.0 1171.0 L1404.5 1154.5 L1411.8 1152.7 L1461.0 1178.0 L1461.0 1201.8 L1459.0 1229.0 L1448.0 1252.7 L1419.0 1267.3 L1395.5 1269.0 L1382.7 1261.8 L1371.8 1263.6 L1321.0 1238.0Z" fill="#fff" stroke="#111" stroke-width="2.2" stroke-linejoin="round" />
<path d="M1417.8 1173.3 L1421.5 1173.7 L1425.1 1174.2 L1428.7 1175.1 L1432.1 1176.2 L1435.5 1177.6 L1438.7 1179.2 L1441.8 1181.0 L1444.6 1183.1 L1447.3 1185.3 L1449.8 1187.8 L1452.1 1190.5 L1454.2 1193.3 L1456.0 1196.2 L1457.5 1199.4 L1458.8 1202.6 L1459.9 1205.9 L1460.6 1209.3 L1461.1 1212.8 L1461.3 1216.3 L1461.2 1219.8 L1460.9 1223.4 L1460.2 1226.9 L1459.3 1230.3 L1458.1 1233.8 L1456.6 1237.1 L1454.9 1240.3 L1453.0 1243.5 L1450.8 1246.4 L1448.4 1249.3 L1445.8 1251.9 L1443.0 1254.4 L1440.0 1256.7 L1436.8 1258.8 L1433.5 1260.7 L1430.1 1262.3 L1426.6 1263.7 L1423.0 1264.8 L1419.3 1265.7 L1415.6 1266.3 L1411.9 1266.7 L1408.2 1266.7 L1404.5 1266.6 L1400.8 1266.1 L1397.2 1265.4 L1393.7 1264.4 L1390.3 1263.2 L1387.0 1261.7 L1383.9 1260.0 L1380.9 1258.1 L1378.1 1255.9 L1375.5 1253.6 L1373.1 1251.0 L1370.9 1248.3 L1369.0 1245.4 L1367.3 1242.3 L1365.8 1239.2 L1364.7 1235.9 L1363.7 1232.5 L1363.1 1229.1 L1362.8 1225.6 L1382.4 1223.2 L1382.6 1225.4 L1383.0 1227.4 L1383.6 1229.5 L1384.3 1231.5 L1385.2 1233.4 L1386.2 1235.3 L1387.4 1237.0 L1388.7 1238.7 L1390.1 1240.2 L1391.7 1241.7 L1393.4 1243.0 L1395.2 1244.2 L1397.1 1245.2 L1399.1 1246.2 L1401.1 1246.9 L1403.3 1247.5 L1405.4 1248.0 L1407.6 1248.2 L1409.9 1248.4 L1412.1 1248.3 L1414.3 1248.1 L1416.6 1247.8 L1418.8 1247.2 L1420.9 1246.6 L1423.0 1245.7 L1425.1 1244.8 L1427.1 1243.6 L1428.9 1242.4 L1430.7 1241.0 L1432.4 1239.5 L1434.0 1237.9 L1435.4 1236.2 L1436.7 1234.4 L1437.9 1232.5 L1438.9 1230.5 L1439.8 1228.5 L1440.5 1226.4 L1441.0 1224.3 L1441.4 1222.2 L1441.6 1220.1 L1441.6 1217.9 L1441.5 1215.8 L1441.2 1213.7 L1440.7 1211.6 L1440.1 1209.6 L1439.3 1207.6 L1438.4 1205.7 L1437.3 1203.9 L1436.0 1202.2 L1434.7 1200.6 L1433.1 1199.1 L1431.5 1197.7 L1429.8 1196.4 L1427.9 1195.3 L1426.0 1194.3 L1424.0 1193.5 L1421.9 1192.8 L1419.7 1192.3 L1417.6 1191.9 L1415.3 1191.7Z" fill="#fff" stroke="none"/>
<path d="M1417.8 1173.3 L1423.3 1173.9 L1428.7 1175.1 L1433.8 1176.9 L1438.7 1179.2 L1443.2 1182.0 L1447.3 1185.3 L1451.0 1189.1 L1454.2 1193.3 L1456.8 1197.8 L1458.8 1202.6 L1460.3 1207.6 L1461.1 1212.8 L1461.3 1218.1 L1460.9 1223.4 L1459.8 1228.6 L1458.1 1233.8 L1455.8 1238.7 L1453.0 1243.5 L1449.6 1247.9 L1445.8 1251.9 L1441.5 1255.6 L1436.8 1258.8 L1431.8 1261.5 L1426.6 1263.7 L1421.2 1265.3 L1415.6 1266.3 L1410.0 1266.7 L1404.5 1266.6 L1399.0 1265.8 L1393.7 1264.4 L1388.6 1262.5 L1383.9 1260.0 L1379.5 1257.0 L1375.5 1253.6 L1372.0 1249.7 L1369.0 1245.4 L1366.5 1240.8 L1364.7 1235.9 L1363.4 1230.8 L1362.8 1225.6" fill="none" stroke="#111" stroke-width="1.8"/>
<path d="M1415.3 1191.7 L1418.7 1192.1 L1421.9 1192.8 L1425.0 1193.9 L1427.9 1195.3 L1430.7 1197.0 L1433.1 1199.1 L1435.4 1201.4 L1437.3 1203.9 L1438.9 1206.7 L1440.1 1209.6 L1441.0 1212.6 L1441.5 1215.8 L1441.6 1219.0 L1441.4 1222.2 L1440.8 1225.4 L1439.8 1228.5 L1438.4 1231.5 L1436.7 1234.4 L1434.7 1237.1 L1432.4 1239.5 L1429.9 1241.7 L1427.1 1243.6 L1424.1 1245.3 L1420.9 1246.6 L1417.7 1247.5 L1414.3 1248.1 L1411.0 1248.4 L1407.6 1248.2 L1404.3 1247.8 L1401.1 1246.9 L1398.1 1245.7 L1395.2 1244.2 L1392.6 1242.4 L1390.1 1240.2 L1388.0 1237.9 L1386.2 1235.3 L1384.7 1232.5 L1383.6 1229.5 L1382.8 1226.4 L1382.4 1223.2" fill="none" stroke="#111" stroke-width="1.8"/>
<path d="M1415.3 1191.7 L1417.8 1173.3 M1419.2 1192.2 L1424.3 1174.1 M1423.0 1193.1 L1430.5 1175.7 M1426.6 1194.6 L1436.4 1178.0 M1429.9 1196.5 L1441.9 1181.1 M1432.9 1198.8 L1446.9 1184.9 M1435.5 1201.5 L1451.2 1189.3 M1437.7 1204.5 L1454.8 1194.3 M1439.4 1207.8 L1457.7 1199.7 M1440.7 1211.4 L1459.8 1205.5 M1441.4 1215.0 L1461.0 1211.6 M1441.7 1218.8 L1461.3 1217.7 M1441.3 1222.6 L1460.8 1224.0 M1440.5 1226.3 L1459.4 1230.1 M1439.2 1229.9 L1457.1 1236.1 M1437.4 1233.4 L1454.0 1241.8 M1435.1 1236.6 L1450.2 1247.1 M1432.4 1239.5 L1445.8 1251.9 M1429.4 1242.1 L1440.7 1256.2 M1426.0 1244.3 L1435.1 1259.8 M1422.4 1246.0 L1429.1 1262.7 M1418.6 1247.3 L1422.8 1264.9 M1414.7 1248.1 L1416.3 1266.2 M1410.8 1248.4 L1409.7 1266.7 M1406.8 1248.2 L1403.2 1266.4 M1403.0 1247.4 L1396.8 1265.3 M1399.3 1246.3 L1390.7 1263.4 M1395.9 1244.6 L1385.0 1260.6 M1392.7 1242.5 L1379.7 1257.2 M1389.9 1240.0 L1375.0 1253.1 M1387.4 1237.1 L1371.0 1248.4 M1385.5 1234.0 L1367.7 1243.2 M1383.9 1230.6 L1365.2 1237.6 M1382.9 1227.0 L1363.6 1231.7 M1382.4 1223.2 L1362.8 1225.6" stroke="#111" stroke-width="1.2" fill="none"/>
<path d="M1343.5 1204.7 L1343.3 1203.7 L1343.1 1202.8 L1343.0 1201.8 L1343.0 1200.8 L1343.0 1199.8 L1343.0 1198.7 L1343.1 1197.7 L1343.3 1196.7 L1343.5 1195.7 L1343.7 1194.6 L1344.0 1193.6 L1344.3 1192.6 L1344.7 1191.6 L1345.1 1190.6 L1345.6 1189.6 L1346.1 1188.6 L1346.7 1187.6 L1347.3 1186.7 L1347.9 1185.7 L1348.6 1184.8 L1349.3 1183.9 L1350.1 1183.0 L1350.8 1182.1 L1351.7 1181.3 L1352.5 1180.5 L1353.4 1179.7 L1354.4 1178.9 L1355.3 1178.2 L1356.3 1177.5 L1357.3 1176.8 L1358.3 1176.1 L1359.4 1175.5 L1360.4 1174.9 L1361.5 1174.4 L1362.7 1173.9 L1363.8 1173.4 L1364.9 1173.0 L1366.1 1172.6 L1367.2 1172.2 L1368.4 1171.9 L1369.6 1171.6 L1370.8 1171.4 L1371.9 1171.2 L1373.1 1171.0 L1374.3 1170.9 L1375.5 1170.9 L1376.6 1170.8 L1377.8 1170.8 L1379.0 1170.9 L1380.1 1171.0 L1381.2 1171.1 L1382.3 1171.3 L1383.4 1171.5 L1384.5 1171.8 L1385.6 1172.1 L1386.6 1172.4 L1387.6 1172.8 L1388.6 1173.2 L1389.5 1173.7 L1390.5 1174.1 L1383.2 1183.1 L1382.6 1182.8 L1382.1 1182.5 L1381.5 1182.3 L1380.9 1182.1 L1380.3 1181.9 L1379.6 1181.7 L1379.0 1181.6 L1378.3 1181.4 L1377.7 1181.4 L1377.0 1181.3 L1376.3 1181.2 L1375.6 1181.2 L1374.9 1181.2 L1374.2 1181.2 L1373.5 1181.3 L1372.8 1181.4 L1372.1 1181.5 L1371.4 1181.6 L1370.7 1181.7 L1370.0 1181.9 L1369.3 1182.1 L1368.6 1182.3 L1367.9 1182.5 L1367.2 1182.8 L1366.6 1183.1 L1365.9 1183.4 L1365.2 1183.7 L1364.6 1184.1 L1364.0 1184.4 L1363.3 1184.8 L1362.7 1185.2 L1362.1 1185.7 L1361.6 1186.1 L1361.0 1186.5 L1360.5 1187.0 L1360.0 1187.5 L1359.5 1188.0 L1359.0 1188.5 L1358.5 1189.0 L1358.1 1189.6 L1357.7 1190.1 L1357.3 1190.7 L1356.9 1191.3 L1356.6 1191.8 L1356.3 1192.4 L1356.0 1193.0 L1355.7 1193.6 L1355.5 1194.2 L1355.3 1194.8 L1355.1 1195.4 L1355.0 1196.0 L1354.8 1196.6 L1354.8 1197.2 L1354.7 1197.8 L1354.7 1198.4 L1354.6 1199.0 L1354.7 1199.6 L1354.7 1200.1 L1354.8 1200.7 L1354.9 1201.3Z" fill="#fff" stroke="none"/>
<path d="M1343.5 1204.7 L1343.2 1203.3 L1343.0 1201.8 L1343.0 1200.3 L1343.0 1198.7 L1343.2 1197.2 L1343.5 1195.7 L1343.8 1194.1 L1344.3 1192.6 L1344.9 1191.1 L1345.6 1189.6 L1346.4 1188.1 L1347.3 1186.7 L1348.2 1185.3 L1349.3 1183.9 L1350.4 1182.6 L1351.7 1181.3 L1353.0 1180.1 L1354.4 1178.9 L1355.8 1177.8 L1357.3 1176.8 L1358.8 1175.8 L1360.4 1174.9 L1362.1 1174.1 L1363.8 1173.4 L1365.5 1172.8 L1367.2 1172.2 L1369.0 1171.8 L1370.8 1171.4 L1372.5 1171.1 L1374.3 1170.9 L1376.1 1170.8 L1377.8 1170.8 L1379.5 1170.9 L1381.2 1171.1 L1382.9 1171.4 L1384.5 1171.8 L1386.1 1172.2 L1387.6 1172.8 L1389.1 1173.4 L1390.5 1174.1" fill="none" stroke="#111" stroke-width="1.6"/>
<path d="M1354.9 1201.3 L1354.8 1200.4 L1354.7 1199.6 L1354.6 1198.7 L1354.7 1197.8 L1354.8 1196.9 L1355.0 1196.0 L1355.2 1195.1 L1355.5 1194.2 L1355.9 1193.3 L1356.3 1192.4 L1356.8 1191.5 L1357.3 1190.7 L1357.9 1189.9 L1358.5 1189.0 L1359.2 1188.3 L1360.0 1187.5 L1360.7 1186.8 L1361.6 1186.1 L1362.4 1185.4 L1363.3 1184.8 L1364.3 1184.3 L1365.2 1183.7 L1366.2 1183.2 L1367.2 1182.8 L1368.3 1182.4 L1369.3 1182.1 L1370.4 1181.8 L1371.4 1181.6 L1372.5 1181.4 L1373.5 1181.3 L1374.6 1181.2 L1375.6 1181.2 L1376.7 1181.3 L1377.7 1181.4 L1378.7 1181.5 L1379.6 1181.7 L1380.6 1182.0 L1381.5 1182.3 L1382.3 1182.7 L1383.2 1183.1" fill="none" stroke="#111" stroke-width="1.6"/>
<path d="M1354.9 1201.3 L1343.5 1204.7 M1354.6 1198.8 L1343.0 1200.5 M1354.9 1196.2 L1343.4 1196.1 M1355.7 1193.7 L1344.7 1191.7 M1357.0 1191.2 L1346.8 1187.5 M1358.7 1188.8 L1349.6 1183.5 M1360.9 1186.7 L1353.2 1179.9 M1363.3 1184.8 L1357.3 1176.8 M1366.1 1183.3 L1361.9 1174.2 M1369.0 1182.2 L1366.7 1172.4 M1372.0 1181.5 L1371.8 1171.2 M1375.0 1181.2 L1376.8 1170.8 M1378.0 1181.4 L1381.7 1171.2 M1380.7 1182.0 L1386.3 1172.3 M1383.2 1183.1 L1390.5 1174.1" stroke="#111" stroke-width="1.2" fill="none"/>
<path d="M1404.5 1154.5 L1410.0 1150.0 L1461.0 1172.0 L1461.0 1190.0 L1455.0 1194.0 L1404.0 1172.0Z" fill="#fff" stroke="#111" stroke-width="1.8" stroke-linejoin="round" />
<clipPath id="c5_1404_1154"><path d="M1404.5 1154.5 L1410.0 1150.0 L1461.0 1172.0 L1461.0 1190.0 L1455.0 1194.0 L1404.0 1172.0Z"/></clipPath><path clip-path="url(#c5_1404_1154)" d="M1381.1 1187.7L1416.8 1120.6 M1383.8 1189.1L1419.4 1122.0 M1386.4 1190.5L1422.1 1123.4 M1389.0 1191.9L1424.7 1124.8 M1391.7 1193.3L1427.4 1126.2 M1394.3 1194.8L1430.0 1127.6 M1397.0 1196.2L1432.7 1129.1 M1399.6 1197.6L1435.3 1130.5 M1402.3 1199.0L1438.0 1131.9 M1404.9 1200.4L1440.6 1133.3 M1407.6 1201.8L1443.3 1134.7 M1410.2 1203.2L1445.9 1136.1 M1412.9 1204.6L1448.6 1137.5 M1415.5 1206.0L1451.2 1138.9 M1418.2 1207.4L1453.9 1140.3 M1420.8 1208.8L1456.5 1141.7 M1423.5 1210.2L1459.2 1143.1 M1426.1 1211.7L1461.8 1144.5 M1428.8 1213.1L1464.5 1146.0 M1431.4 1214.5L1467.1 1147.4 M1434.1 1215.9L1469.8 1148.8 M1436.7 1217.3L1472.4 1150.2 M1439.4 1218.7L1475.1 1151.6 M1442.0 1220.1L1477.7 1153.0 M1444.7 1221.5L1480.4 1154.4 M1447.3 1222.9L1483.0 1155.8" stroke="#111" stroke-width="1.3" fill="none"/>
<path d="M1406.0 1162.0 L1460.0 1183.0" fill="none" stroke="#111" stroke-width="1.6" stroke-linejoin="miter"/>
<clipPath id="c6_1385_1190"><path d="M1385.0 1190.0 L1420.0 1185.0 L1440.0 1215.0 L1420.0 1240.0 L1395.0 1235.0Z"/></clipPath><path clip-path="url(#c6_1385_1190)" d="M1427.5 1156.6L1468.4 1227.5 M1424.9 1158.1L1465.8 1229.0 M1422.3 1159.6L1463.2 1230.5 M1419.7 1161.1L1460.6 1232.0 M1417.1 1162.6L1458.0 1233.5 M1414.5 1164.1L1455.4 1235.0 M1411.9 1165.6L1452.8 1236.5 M1409.3 1167.1L1450.2 1238.0 M1406.7 1168.6L1447.6 1239.5 M1404.1 1170.1L1445.0 1241.0 M1401.5 1171.6L1442.4 1242.5 M1398.9 1173.1L1439.8 1244.0 M1396.3 1174.6L1437.2 1245.5 M1393.7 1176.1L1434.6 1247.0 M1391.1 1177.6L1432.0 1248.5 M1388.5 1179.1L1429.4 1250.0 M1385.9 1180.6L1426.8 1251.5 M1383.3 1182.1L1424.2 1253.0 M1380.7 1183.6L1421.6 1254.5 M1378.1 1185.1L1419.0 1256.0 M1375.5 1186.6L1416.4 1257.5 M1372.9 1188.1L1413.8 1259.0 M1370.3 1189.6L1411.2 1260.5 M1367.7 1191.1L1408.6 1262.0 M1365.1 1192.6L1406.0 1263.5 M1362.5 1194.1L1403.4 1265.0 M1359.9 1195.6L1400.8 1266.5 M1357.3 1197.1L1398.2 1268.0" stroke="#111" stroke-width="1.0" fill="none"/>
<path d="M1321.0 1212.7 L1330.0 1208.0 L1375.5 1234.5 L1375.0 1250.0 L1371.8 1263.6 L1340.0 1250.0 L1321.0 1232.0Z" fill="#fff" stroke="#111" stroke-width="2" stroke-linejoin="round" />
<clipPath id="c7_1321_1212"><path d="M1321.0 1212.7 L1330.0 1208.0 L1375.5 1234.5 L1375.0 1250.0 L1371.8 1263.6 L1340.0 1250.0 L1321.0 1232.0Z"/></clipPath><path clip-path="url(#c7_1321_1212)" d="M1292.9 1252.7L1331.3 1180.4 M1295.4 1254.0L1333.8 1181.8 M1297.8 1255.4L1336.3 1183.1 M1300.3 1256.7L1338.7 1184.4 M1302.8 1258.0L1341.2 1185.7 M1305.3 1259.3L1343.7 1187.0 M1307.7 1260.6L1346.2 1188.3 M1310.2 1261.9L1348.6 1189.6 M1312.7 1263.2L1351.1 1191.0 M1315.1 1264.6L1353.6 1192.3 M1317.6 1265.9L1356.0 1193.6 M1320.1 1267.2L1358.5 1194.9 M1322.6 1268.5L1361.0 1196.2 M1325.0 1269.8L1363.5 1197.5 M1327.5 1271.1L1365.9 1198.9 M1330.0 1272.4L1368.4 1200.2 M1332.5 1273.8L1370.9 1201.5 M1334.9 1275.1L1373.4 1202.8 M1337.4 1276.4L1375.8 1204.1 M1339.9 1277.7L1378.3 1205.4 M1342.3 1279.0L1380.8 1206.7 M1344.8 1280.3L1383.2 1208.1 M1347.3 1281.6L1385.7 1209.4 M1349.8 1283.0L1388.2 1210.7 M1352.2 1284.3L1390.7 1212.0 M1354.7 1285.6L1393.1 1213.3 M1357.2 1286.9L1395.6 1214.6 M1359.6 1288.2L1398.1 1215.9 M1362.1 1289.5L1400.6 1217.3 M1364.6 1290.8L1403.0 1218.6" stroke="#111" stroke-width="1.2" fill="none"/>
<clipPath id="c8_1321_1212"><path d="M1321.0 1212.7 L1330.0 1208.0 L1375.5 1234.5 L1375.0 1250.0 L1371.8 1263.6 L1340.0 1250.0 L1321.0 1232.0Z"/></clipPath><path clip-path="url(#c8_1321_1212)" d="M1381.4 1188.4L1395.7 1269.0 M1377.0 1189.2L1391.2 1269.8 M1372.6 1189.9L1386.8 1270.6 M1368.2 1190.7L1382.4 1271.3 M1363.7 1191.5L1377.9 1272.1 M1359.3 1192.3L1373.5 1272.9 M1354.9 1193.1L1369.1 1273.7 M1350.4 1193.9L1364.6 1274.5 M1346.0 1194.6L1360.2 1275.3 M1341.6 1195.4L1355.8 1276.0 M1337.1 1196.2L1351.3 1276.8 M1332.7 1197.0L1346.9 1277.6 M1328.3 1197.8L1342.5 1278.4 M1323.8 1198.5L1338.1 1279.2 M1319.4 1199.3L1333.6 1279.9 M1315.0 1200.1L1329.2 1280.7 M1310.5 1200.9L1324.8 1281.5 M1306.1 1201.7L1320.3 1282.3 M1301.7 1202.5L1315.9 1283.1" stroke="#111" stroke-width="1.0" fill="none"/>
<path d="M1323.0 1218.0 L1374.0 1243.0" fill="none" stroke="#111" stroke-width="1.6" stroke-linejoin="miter"/>
<path d="M1463.8 1185.0 L1478.2 1196.6" fill="none" stroke="#111" stroke-width="1.3" stroke-linejoin="miter"/>
<ellipse cx="1221.9" cy="1051.3" rx="13.0" ry="21.0" transform="rotate(15 1221.9 1051.3)" fill="url(#hx)" stroke="#111" stroke-width="2"/>
<ellipse cx="1223.0" cy="1050.0" rx="6.0" ry="12.0" transform="rotate(15 1223.0 1050.0)" fill="#fff" stroke="#111" stroke-width="1.5"/>
<path d="M1144.8 1005.7 L1201.4 1037.1" fill="none" stroke="#111" stroke-width="1.3" stroke-linejoin="miter"/>
<path d="M1234.5 1056.0 L1297.5 1093.3" fill="none" stroke="#111" stroke-width="1.3" stroke-linejoin="miter"/>
<path d="M1174.7 1144.0 L1243.9 1076.5" fill="none" stroke="#111" stroke-width="2" stroke-linejoin="miter"/>
<path d="M1226.6 1068.6 L1243.9 1062.0 L1236.0 1079.0Z" fill="#111" stroke="#111" stroke-width="1" stroke-linejoin="round" />
<path d="M1524.0 1153.6 L1587.0 1176.5 L1605.0 1260.0 L1544.0 1317.0 L1495.4 1299.8 L1475.0 1230.0 L1490.0 1170.0Z" fill="#fff" stroke="none" stroke-width="0" stroke-linejoin="round" />
<ellipse cx="1564.2" cy="1233.8" rx="51.6" ry="86.0" transform="rotate(15 1564.2 1233.8)" fill="#fff" stroke="#111" stroke-width="2.2"/>
<path d="M1520.0 1154.0 L1583.0 1150.0" fill="none" stroke="#111" stroke-width="0" stroke-linejoin="miter"/>
<path d="M1476.1 1297.2 L1474.0 1296.4 L1472.0 1295.1 L1470.2 1293.4 L1468.5 1291.3 L1467.0 1288.8 L1465.6 1285.9 L1464.5 1282.7 L1463.5 1279.1 L1462.7 1275.1 L1462.2 1270.8 L1461.8 1266.3 L1461.6 1261.5 L1461.7 1256.5 L1461.9 1251.3 L1462.4 1245.9 L1463.1 1240.4 L1463.9 1234.8 L1465.0 1229.1 L1466.3 1223.4 L1467.7 1217.8 L1469.3 1212.1 L1471.0 1206.6 L1472.9 1201.2 L1475.0 1195.9 L1477.2 1190.8 L1479.5 1185.9 L1481.8 1181.3 L1484.3 1176.9 L1486.8 1172.8 L1489.4 1169.1 L1492.1 1165.7 L1494.7 1162.6 L1497.4 1160.0 L1500.0 1157.7 L1502.6 1155.9 L1505.2 1154.5 L1507.7 1153.5 L1510.1 1153.0 L1512.4 1152.9 L1514.7 1153.2" fill="none" stroke="#111" stroke-width="2.2"/>
<path d="M1485.7 1298.0 L1483.6 1297.2 L1481.6 1295.9 L1479.8 1294.2 L1478.1 1292.1 L1476.6 1289.6 L1475.2 1286.7 L1474.1 1283.5 L1473.1 1279.9 L1472.3 1275.9 L1471.8 1271.6 L1471.4 1267.1 L1471.2 1262.3 L1471.3 1257.3 L1471.5 1252.1 L1472.0 1246.7 L1472.7 1241.2 L1473.5 1235.6 L1474.6 1229.9 L1475.9 1224.2 L1477.3 1218.6 L1478.9 1212.9 L1480.6 1207.4 L1482.5 1202.0 L1484.6 1196.7 L1486.8 1191.6 L1489.1 1186.7 L1491.4 1182.1 L1493.9 1177.7 L1496.4 1173.6 L1499.0 1169.9 L1501.7 1166.5 L1504.3 1163.4 L1507.0 1160.8 L1509.6 1158.5 L1512.2 1156.7 L1514.8 1155.3 L1517.3 1154.3 L1519.7 1153.8 L1522.0 1153.7 L1524.3 1154.0" fill="none" stroke="#111" stroke-width="1.5"/>
<path d="M1492.7 1299.0 L1490.6 1298.2 L1488.6 1296.9 L1486.8 1295.2 L1485.1 1293.1 L1483.6 1290.6 L1482.2 1287.7 L1481.1 1284.5 L1480.1 1280.9 L1479.3 1276.9 L1478.8 1272.6 L1478.4 1268.1 L1478.2 1263.3 L1478.3 1258.3 L1478.5 1253.1 L1479.0 1247.7 L1479.7 1242.2 L1480.5 1236.6 L1481.6 1230.9 L1482.9 1225.2 L1484.3 1219.6 L1485.9 1213.9 L1487.6 1208.4 L1489.5 1203.0 L1491.6 1197.7 L1493.8 1192.6 L1496.1 1187.7 L1498.4 1183.1 L1500.9 1178.7 L1503.4 1174.6 L1506.0 1170.9 L1508.7 1167.5 L1511.3 1164.4 L1514.0 1161.8 L1516.6 1159.5 L1519.2 1157.7 L1521.8 1156.3 L1524.3 1155.3 L1526.7 1154.8 L1529.0 1154.7 L1531.3 1155.0" fill="none" stroke="#111" stroke-width="1.5"/>
<path d="M1514.0 1153.0 L1560.0 1147.0" fill="none" stroke="#111" stroke-width="2.2" stroke-linejoin="miter"/>
<path d="M1475.0 1295.0 L1540.0 1320.0" fill="none" stroke="#111" stroke-width="2.2" stroke-linejoin="miter"/>
<ellipse cx="1566.0" cy="1236.0" rx="42.0" ry="74.0" transform="rotate(15 1566.0 1236.0)" fill="none" stroke="#111" stroke-width="1.6"/>
<path d="M1525.1 1301.2 L1523.5 1299.8 L1522.0 1298.2 L1520.6 1296.2 L1519.3 1294.0 L1518.2 1291.5 L1517.2 1288.9 L1516.3 1285.9 L1515.5 1282.8 L1514.9 1279.5 L1514.4 1276.0 L1514.1 1272.3 L1513.9 1268.4 L1513.8 1264.4 L1513.9 1260.3 L1514.2 1256.1 L1514.6 1251.8 L1515.1 1247.5 L1515.8 1243.1 L1516.6 1238.6 L1517.6 1234.2 L1518.6 1229.7 L1519.8 1225.3 L1521.2 1220.9 L1522.6 1216.6 L1524.2 1212.4 L1525.8 1208.3 L1527.6 1204.3 L1529.4 1200.4 L1531.3 1196.7 L1533.3 1193.1 L1535.3 1189.8 L1537.4 1186.6 L1539.6 1183.6 L1541.8 1180.9 L1544.0 1178.4 L1546.2 1176.2 L1548.5 1174.2 L1550.7 1172.4 L1552.9 1171.0 L1555.1 1169.8" fill="none" stroke="#111" stroke-width="1.4"/>
<path d="M1521.1 1301.2 L1519.5 1299.8 L1518.0 1298.2 L1516.6 1296.2 L1515.3 1294.0 L1514.2 1291.5 L1513.2 1288.9 L1512.3 1285.9 L1511.5 1282.8 L1510.9 1279.5 L1510.4 1276.0 L1510.1 1272.3 L1509.9 1268.4 L1509.8 1264.4 L1509.9 1260.3 L1510.2 1256.1 L1510.6 1251.8 L1511.1 1247.5 L1511.8 1243.1 L1512.6 1238.6 L1513.6 1234.2 L1514.6 1229.7 L1515.8 1225.3 L1517.2 1220.9 L1518.6 1216.6 L1520.2 1212.4 L1521.8 1208.3 L1523.6 1204.3 L1525.4 1200.4 L1527.3 1196.7 L1529.3 1193.1 L1531.3 1189.8 L1533.4 1186.6 L1535.6 1183.6 L1537.8 1180.9 L1540.0 1178.4 L1542.2 1176.2 L1544.5 1174.2 L1546.7 1172.4 L1548.9 1171.0 L1551.1 1169.8" fill="none" stroke="#111" stroke-width="1.4"/>
<path d="M1529.8 1228.0 L1621.5 1276.8" fill="none" stroke="#111" stroke-width="1.4" stroke-linejoin="miter"/>
<g id="wiring" fill="none" stroke="#111" stroke-width="2">
 <!-- Typ 903 -->
 <g>
  <path d="M105.3 219 H125 M129 219 H177 V251.5 M177 255 V289.4 H129 M125 289.4 H105.3 V255 M105.3 251.5 V219" stroke-width="1.8"/>
  <rect x="67.5" y="231.1" width="12.6" height="7.6" fill="#111" stroke="none"/>
  <rect x="67.5" y="251.2" width="12.6" height="7.6" fill="#111" stroke="none"/>
  <path d="M80 234.9 H113.6 M80 254.6 H94 V276.4 H113.6" stroke-width="2.2"/>
  <circle cx="117" cy="234.9" r="3.3" stroke-width="1.4"/><circle cx="117" cy="276.4" r="3.3" stroke-width="1.4"/>
  <path d="M157.5 204.7 H149.8 V253.8 H169.5 V246 M163 204.7 H169.5 V224" stroke-width="2"/>
  <path d="M157.7 197.5 V210.1 M162.8 197.5 V210.1" stroke-width="1.8"/>
  <circle cx="168.6" cy="227.3" r="3" stroke-width="1.3"/><circle cx="168.6" cy="242.9" r="3" stroke-width="1.3"/>
  <circle cx="168.6" cy="265.5" r="3" stroke-width="1.3"/><circle cx="168.6" cy="281" r="3" stroke-width="1.3"/>
  <path d="M171.6 227.3 H182 M171.6 242.9 H182 M171.6 265.5 H182 M171.6 281 H182" stroke-width="1.8"/>
  <path d="M182 223.8 h8 a3.5 3.5 0 0 1 0 7 h-8 M182 239.4 h8 a3.5 3.5 0 0 1 0 7 h-8 M182 262 h8 a3.5 3.5 0 0 1 0 7 h-8 M182 277.5 h8 a3.5 3.5 0 0 1 0 7 h-8" stroke-width="1.4"/>
  <path d="M193.5 227.3 H278 M193.5 242.9 H240.6 V281.7 H276 M193.5 265.5 H220.5 V272.8 M193.5 281 H201.2 V301 H220.5 V296.2" stroke-width="2.2"/>
  <rect x="215.2" y="272.8" width="10" height="23.4" stroke-width="1.5"/>
  <rect x="274.4" y="227" width="8" height="9.6" fill="#111" stroke="none"/>
  <rect x="274.4" y="273.3" width="8" height="9.4" fill="#111" stroke="none"/>
  <circle cx="277.8" cy="254.6" r="18.3" stroke-width="1.6"/>
 </g>
 <!-- Typ 003 -->
 <g>
  <path d="M105.3 339 H125 M129 339 H177 V371.5 M177 375 V409.4 H129 M125 409.4 H105.3 V375 M105.3 371.5 V339" stroke-width="1.8"/>
  <rect x="67.5" y="350.6" width="12.6" height="7.6" fill="#111" stroke="none"/>
  <rect x="67.5" y="370" width="12.6" height="7.6" fill="#111" stroke="none"/>
  <path d="M80 354.3 H113.6 M80 373.6 H94 V395.2 H113.6" stroke-width="2.2"/>
  <circle cx="117" cy="354.3" r="3.3" stroke-width="1.4"/><circle cx="117" cy="395.2" r="3.3" stroke-width="1.4"/>
  <path d="M157.5 325 H150.5 V400.7 H166 M163 325 H169.5 V343" stroke-width="2"/>
  <path d="M157.7 318.5 V331 M162.8 318.5 V331" stroke-width="1.8"/>
  <circle cx="168.6" cy="346.3" r="3" stroke-width="1.3"/><circle cx="169" cy="400.2" r="3" stroke-width="1.3"/>
  <path d="M171.6 346.3 H182 M172 400.2 H182" stroke-width="1.8"/>
  <path d="M182 342.8 h8 a3.5 3.5 0 0 1 0 7 h-8 M182 396.7 h8 a3.5 3.5 0 0 1 0 7 h-8" stroke-width="1.4"/>
  <path d="M193.5 346.3 H278 M193.5 400.2 H278" stroke-width="2.2"/>
  <rect x="274.4" y="345.5" width="8" height="9.6" fill="#111" stroke="none"/>
  <rect x="274.4" y="391" width="8" height="9.4" fill="#111" stroke="none"/>
  <circle cx="277.8" cy="372.8" r="18.3" stroke-width="1.6"/>
 </g>
</g>
<g font-family="Liberation Sans" font-size="17" fill="#222">
 <text x="153.5" y="233.6">1</text><text x="153" y="250">2</text><text x="153" y="269.3">2</text><text x="153" y="287.3">3</text>
 <text x="155" y="357">1</text><text x="153" y="389">2</text>
</g>
<g font-family="Liberation Sans" font-weight="bold" font-size="22" fill="#111">
 <text x="270.5" y="262.6">M</text><text x="270.5" y="380.8">M</text>
</g>

<text class="b">
<tspan x="279.0" y="455.0">835</tspan>
<tspan x="309.9" y="479.6">5</tspan>
<tspan x="392.2" y="539.8">6</tspan>
<tspan x="576.2" y="546.2">66</tspan>
<tspan x="605.2" y="574.8">63</tspan>
<tspan x="555.1" y="596.8">7</tspan>
<tspan x="223.8" y="601.8">150</tspan>
<tspan x="478.7" y="700.8">804</tspan>
<tspan x="584.2" y="768.8">24</tspan>
<tspan x="838.7" y="534.0">24</tspan>
<tspan x="765.8" y="648.8">12</tspan>
<tspan x="812.3" y="732.1">52</tspan>
<tspan x="878.9" y="757.8">55</tspan>
<tspan x="736.0" y="845.1">53</tspan>
<tspan x="373.2" y="803.1">65</tspan>
<tspan x="463.0" y="895.0">62</tspan>
<tspan x="320.1" y="980.5">52</tspan>
<tspan x="264.3" y="1015.1">854</tspan>
<tspan x="395.8" y="1093.4">854</tspan>
<tspan x="866.6" y="252.1">13</tspan>
<tspan x="1106.6" y="271.3">830</tspan>
<tspan x="1069.2" y="359.2">3/50</tspan>
<tspan x="612.5" y="392.6">2</tspan>
<tspan x="1464.2" y="191.3">33</tspan>
<tspan x="1538.2" y="187.1">821</tspan>
<tspan x="1759.2" y="160.5">840</tspan>
<tspan x="1848.8" y="247.3">821</tspan>
<tspan x="1753.7" y="318.6">43</tspan>
<tspan x="1450.2" y="448.8">61</tspan>
<tspan x="1738.2" y="444.8">851</tspan>
<tspan x="1753.7" y="470.8">51</tspan>
<tspan x="1509.7" y="537.8">27</tspan>
<tspan x="1555.1" y="564.4">45</tspan>
<tspan x="1753.7" y="537.1">826</tspan>
<tspan x="1211.8" y="621.2">30</tspan>
<tspan x="1437.2" y="568.0">14</tspan>
<tspan x="1305.1" y="675.4">846</tspan>
<tspan x="1370.7" y="683.2">38</tspan>
<tspan x="1753.7" y="607.0">35</tspan>
<tspan x="1753.7" y="661.8">32</tspan>
<tspan x="1753.7" y="718.8">48</tspan>
<tspan x="1753.7" y="774.8">50</tspan>
<tspan x="1196.6" y="702.8">23</tspan>
<tspan x="1260.1" y="702.8">64</tspan>
<tspan x="1075.5" y="751.9">180</tspan>
<tspan x="1075.5" y="776.3">181</tspan>
<tspan x="915.4" y="820.4">56</tspan>
<tspan x="1284.7" y="798.3">36</tspan>
<tspan x="1435.5" y="802.8">810</tspan>
<tspan x="1439.9" y="847.4">64</tspan>
<tspan x="1388.5" y="896.2">16</tspan>
<tspan x="1301.8" y="935.8">70</tspan>
<tspan x="1505.1" y="849.0">34</tspan>
<tspan x="1752.8" y="885.3">28</tspan>
<tspan x="1510.6" y="1030.1">60</tspan>
<tspan x="1468.1" y="1010.8">44</tspan>
<tspan x="1738.3" y="1045.2">837</tspan>
<tspan x="1752.8" y="1071.9">37</tspan>
<tspan x="1788.2" y="1120.8">822</tspan>
<tspan x="1788.2" y="1153.9">822/01</tspan>
<tspan x="1788.2" y="1186.7">822/02</tspan>
<tspan x="1505.2" y="1138.5">62</tspan>
<tspan x="1694.9" y="1149.1">25</tspan>
<tspan x="831.9" y="962.4">23</tspan>
<tspan x="749.1" y="1029.1">64</tspan>
<tspan x="801.6" y="1096.1">36</tspan>
<tspan x="891.6" y="1166.3">16</tspan>
<tspan x="748.2" y="1253.5">810</tspan>
<tspan x="801.6" y="1244.0">64</tspan>
<tspan x="945.1" y="1135.5">9</tspan>
<tspan x="1044.9" y="1083.5">1</tspan>
<tspan x="1003.3" y="1148.0">888</tspan>
<tspan x="1150.3" y="1072.5">39</tspan>
<tspan x="1410.0" y="1011.6">2</tspan>
<tspan x="1477.4" y="1350.8">31</tspan>
</text>
<text class="sb">
<tspan x="1127.8" y="1160.5">Fett</tspan>
<tspan x="1127.8" y="1185.0">grease</tspan>
<tspan x="1127.8" y="1209.6">graisse</tspan>
<tspan x="1127.8" y="1232.2">grasa</tspan>
<tspan x="547.8" y="237.7">Alte Ausf hrung</tspan>
<tspan x="547.8" y="262.0">Old execution</tspan>
<tspan x="547.8" y="287.0">Ancien ex cution</tspan>
<tspan x="547.8" y="311.7">Vieja ejecuci n</tspan>
</text>
<text class="r">
<tspan x="71.4" y="95.3" xml:space="preserve">0 601 351 003 / 903</tspan>
<tspan x="70.1" y="124.4" xml:space="preserve">Stand</tspan>
<tspan x="70.1" y="145.9" xml:space="preserve">Issue</tspan>
<tspan x="149.2" y="124.4" xml:space="preserve">99-07</tspan>
<tspan x="150.1" y="145.9" xml:space="preserve">02-04-25</tspan>
<tspan x="70.5" y="1271.4" xml:space="preserve">Einbaulage beachten</tspan>
<tspan x="70.5" y="1295.7" xml:space="preserve">Check installation position</tspan>
<tspan x="70.5" y="1321.0" xml:space="preserve">Attention au positionnement</tspan>
<tspan x="70.5" y="1345.4" xml:space="preserve">T ngase en cuenta</tspan>
<tspan x="70.5" y="1369.7" xml:space="preserve">la posici n de montaje</tspan>
<tspan x="859.1" y="1301.5" xml:space="preserve"> nderungen vorbehalten</tspan>
<tspan x="859.1" y="1324.2" xml:space="preserve">Modifications reserved</tspan>
<tspan x="859.1" y="1346.6" xml:space="preserve">Modifications reservees</tspan>
<tspan x="859.1" y="1368.6" xml:space="preserve">Salvo modificaciones</tspan>
</text>
<text class="sb" x="193.5" y="215.7">Typ<tspan class="r2"> 903</tspan></text>
<text class="sb" x="195.6" y="336.4">Typ<tspan class="r2"> 003</tspan></text>
<text class="sb" x="469.7" y="1021.4">Typ<tspan class="r2"> 903</tspan></text>
<circle cx="824.3" cy="276" r="20.5" fill="#0a0a0a"/><text class="c" x="824.3" y="286.2">A</text>
<circle cx="666" cy="634" r="20.5" fill="#0a0a0a"/><text class="c" x="666" y="644.2">E</text>
<circle cx="713.9" cy="656.8" r="20.5" fill="#0a0a0a"/><text class="c" x="713.9" y="667.0">C</text>
<circle cx="1334.3" cy="760.6" r="20.5" fill="#0a0a0a"/><text class="c" x="1334.3" y="770.8">D</text>
<circle cx="1242.3" cy="961.6" r="20.5" fill="#0a0a0a"/><text class="c" x="1242.3" y="971.8">E</text>
<circle cx="1216.5" cy="1000" r="20.5" fill="#0a0a0a"/><text class="c" x="1216.5" y="1010.2">B</text>
<circle cx="763.4" cy="1104.8" r="20.5" fill="#0a0a0a"/><text class="c" x="763.4" y="1115.0">B</text>
<circle cx="1227" cy="1149.5" r="20.5" fill="#0a0a0a"/><text class="c" x="1227" y="1159.7">C</text>
<circle cx="1288.2" cy="1141.5" r="20.5" fill="#0a0a0a"/><text class="c" x="1288.2" y="1151.7">D</text>
<circle cx="1640.2" cy="1291.2" r="20.5" fill="#0a0a0a"/><text class="c" x="1640.2" y="1301.4">A</text>
</svg>
</body></html>
